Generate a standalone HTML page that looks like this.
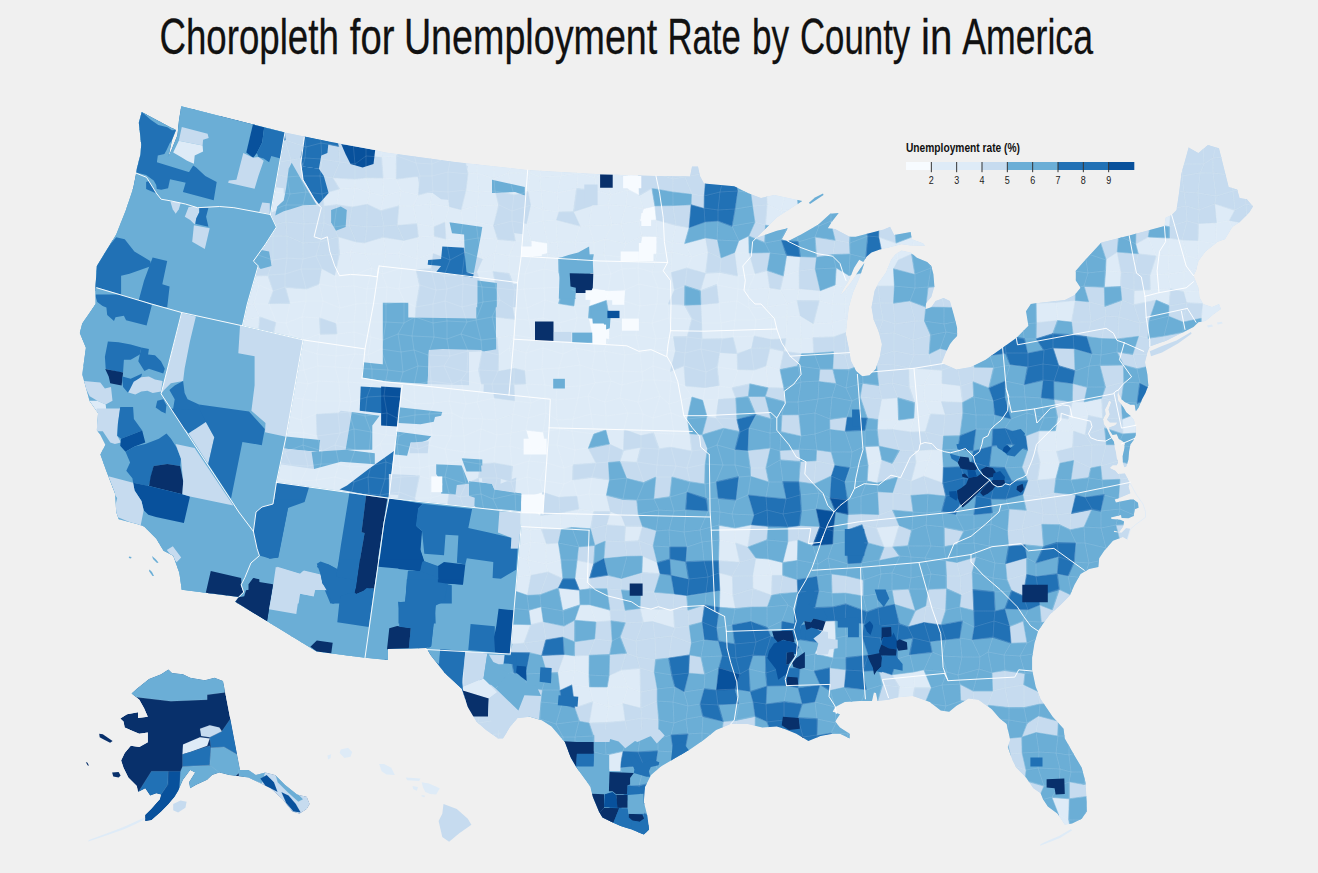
<!DOCTYPE html>
<html><head><meta charset="utf-8"><title>Choropleth</title>
<style>html,body{margin:0;padding:0;background:#f0f0f0;}body{width:1318px;height:873px;overflow:hidden;font-family:"Liberation Sans",sans-serif;}svg{display:block}text{font-family:"Liberation Sans",sans-serif}</style></head><body>
<svg width="1318" height="873" viewBox="0 0 1318 873">
<rect width="1318" height="873" fill="#f0f0f0"/>
<defs><clipPath id="land"><path d="M181.3,106.2L253.4,124.6L285,132.4L328.6,141.6L374.8,149.9L384,152.3L455,162L527.2,170L600,174.2L656,176.1L690,176.5L692,166.5L698,166.5L700,176L704,183.4L734.3,186.3L747.7,193.1L761,198L774.4,195L802.3,200.9L776.8,217.4L756.2,238L776.8,230.7L787.8,228.3L781.7,239.2L787.8,241.2L801.1,234.4L818.1,224.7L830.2,213.7L838.7,213L831.5,222.2L827.8,228.3L835.1,229L849.7,236.8L855.7,236.8L869.1,233.2L883.7,229.5L890.1,226.8L894.2,235.1L910.7,232L911.8,239.2L923.1,243.3L925.2,245.8L910.7,245.4L901.4,244.3L888,247.8L879.8,249.5L871.5,252.6L866.4,256.7L863.3,261.9L859.2,259.8L854,268L848.9,280.4L843.7,288.7L840.6,294.8L844.7,290.7L850.9,282.5L859.2,270.1L864.3,262.9L859.2,278.4L853,292.8L848.9,307.2L846.8,323.7L845.8,334L848.9,348.5L850.9,360.8L856.1,371.1L862.3,376.3L869.5,375.3L875.7,369.1L879.8,356.7L881.9,344.3L878.8,332L873.6,319.6L871.5,307.2L874.6,290.7L878.8,282.5L886,272.2L891.1,259.8L895.3,254.6L901.4,250.5L910.7,252.6L916.9,257.7L927.2,261.9L931.3,266L933.4,274.2L934.4,286.6L931.3,296.9L926.2,303.1L925.2,309.3L931.3,307.2L935.5,301L943.7,297.9L949.9,301L954,315.5L957.1,327.8L957.1,336.1L953,340.2L949.9,344.3L945.8,352.6L941.6,362.9L956.5,369.5L971,367.1L985.6,359.8L1002.6,347.7L1016.3,338L1028.4,325.8L1026,311.3L1030.8,304L1046.6,301.9L1064.8,300L1074.6,295.1L1080.6,287.8L1075.8,280.5L1075.8,270.8L1084.3,261.1L1101.3,242.4L1129.2,235.6L1164.4,225.9L1165.6,217.4L1171.7,215L1176.5,210.1L1179,193.1L1181.4,173.7L1188.6,147.5L1198.4,153L1208,145L1219,148.2L1228.7,187L1237.2,189.5L1239.6,198L1246.9,199.2L1253,206.5L1249.3,212.5L1239.6,222.2L1232.4,227.1L1225,239.2L1217.8,241.7L1205.6,251.4L1198.4,261.1L1196,270.8L1193.5,275.7L1198.4,287.8L1199.6,297.5L1203.2,304L1212,307L1219,304L1221,309L1214,314L1205.6,321L1198.4,322.2L1193.5,327.1L1186.2,330.7L1166.8,340.4L1149.8,346.5L1147.4,352.6L1145,362.3L1147.4,374.4L1148.3,385.5L1145.5,393L1142.1,399.2L1138.7,407.5L1135.9,411.3L1134.6,404.7L1130.4,404.7L1124.9,402L1121.5,399.2L1118.8,393.7L1118.2,390.2L1117.4,395.1L1118.1,400.6L1123.6,407.5L1126.3,412.3L1130.4,415.7L1133.9,419.8L1135.2,425.3L1135.9,427.4L1135.7,434.9L1133.9,439.8L1130.4,444.6L1129.1,451.4L1128.4,459.7L1126.3,466.5L1124.3,467.2L1122.9,462.4L1122.6,456.2L1124.3,448.7L1124.9,443.2L1121.5,440.4L1118.8,439.1L1116.7,434.3L1112.6,434.9L1109.8,430.8L1109.1,427.4L1115.3,425.3L1117.4,422.6L1109.8,422.6L1107.1,419.8L1109.8,414.3L1108.5,409.5L1111.2,402L1109.1,400.6L1107.1,405.4L1105,409.5L1105.7,414.3L1103,419.1L1103.7,424L1106.4,427.4L1109.1,433.6L1111.2,437.7L1114,441.8L1114.6,447.3L1116,452.8L1116.7,458.3L1118.1,462.4L1116.7,465.2L1112.6,465.2L1109.8,467.9L1115.3,470.7L1118.1,474.1L1124.9,473.4L1129.1,481.6L1129.8,482.6L1128.5,486.4L1130.4,493.3L1121.6,497.1L1114.7,499.6L1115.9,502.5L1122.9,500.9L1130.4,499.6L1133.6,499.6L1138,502.8L1138.6,507.8L1134.8,509.3L1133.6,516L1128.5,518.2L1121.6,517.9L1121,515.1L1110.9,517.6L1111.5,518.9L1120.3,519.8L1124.1,521.4L1123.1,526.7L1119.3,532L1114.3,530.8L1113.8,532L1121.6,532.8L1126,528.2L1130.2,528.7L1127.3,539.6L1122.9,537.1L1113,540.8L1104.2,550.7L1099.2,558.2L1098.4,567.1L1089.1,569.1L1080.6,573.9L1074.5,584.8L1069.7,595.8L1060,605.5L1050.3,614L1043,623.7L1038.1,631L1034.5,643.1L1032.1,657.7L1032.1,669.8L1035.7,686.8L1040.6,698.9L1052.7,716.7L1063.6,728.8L1064.8,738.5L1074.5,755.5L1081.8,767.7L1085.5,782.2L1086.7,801.7L1086.7,811.4L1081.8,818.7L1072.1,823.5L1064.8,824.7L1057.6,813.8L1047.8,806.5L1043,799.2L1040.6,793.2L1033.3,788.3L1028.4,781L1026,777.4L1016.3,767.7L1012.6,760.4L1007.8,747L1010.2,739.8L1006.6,724L999.3,717.9L992,709.4L990.5,708.2L978.3,699.7L968.6,698.5L956.5,705.8L949.2,711.8L940.7,710.6L929.8,702.1L912.8,696.1L898.2,697.3L888.5,699.7L877.6,700.9L876,693L873.9,692.4L872,700.9L859.4,700.9L844.8,702.1L835.1,707L832.7,711.8L840,714.3L835.1,721.6L840,727.6L849.7,733.7L849.7,738.5L840,733.7L832.7,733.7L820.5,736.1L808.4,741L796.3,733.7L784.1,728.8L776.8,726.4L762.3,727.6L747.7,724L730.7,724L716.1,730L704,739.8L689.9,749.5L675.3,758L660.8,766.5L651,775L645,787.1L643.8,801.7L647.4,816.2L649.1,829.6L643.8,834.4L631.6,829.6L620.7,825.9L612.2,822.3L602.5,817.4L598.9,811.4L592.8,796.8L590.4,787.1L585.5,779.8L575.8,766.5L570.9,758L564.9,742.2L558.8,734.9L551.5,726.4L541.8,720.3L529.7,716.7L517.5,717.9L510.2,726.4L503,738.5L498.1,738.5L486,730L476.3,721.6L467.8,707L461.7,688.8L444.7,673L431.3,656L426.5,648L388,649L388,660L365,657.7L316.5,651.6L235.2,601.8L238.8,597L181.7,589.7L179.3,572.7L173.2,555.7L163.5,550.8L156.3,538.7L144.1,526.6L136.8,524.1L118.6,519.3L116.2,512L115,493.4L106.5,471.5L100.4,454.5L105.3,444.8L100.4,435.1L96.8,430.2L98,413.3L89.5,401.1L82.2,374.4L85.9,347.7L79.8,333.1L82.2,323.4L95.6,304L95.6,285.4L96.8,266L102.8,256.2L116.2,234.4L125.9,210.1L133.2,188.3L136.3,172.5L136.8,168.8L140.5,154.3L141.2,144.6L138.8,122.7L141.7,112L170.8,127.6L176,130L172,140L168.4,156.7L171.5,150L177.5,135L179,120Z"/></clipPath></defs>
<g font-size="50" fill="#111" stroke="#111" stroke-width="0.3">
<text x="159.5" y="54" textLength="179.3" lengthAdjust="spacingAndGlyphs">Choropleth</text>
<text x="349.8" y="54" textLength="44.6" lengthAdjust="spacingAndGlyphs">for</text>
<text x="403.9" y="54" textLength="253.4" lengthAdjust="spacingAndGlyphs">Unemployment</text>
<text x="667.5" y="54" textLength="73.3" lengthAdjust="spacingAndGlyphs">Rate</text>
<text x="752.0" y="54" textLength="37.1" lengthAdjust="spacingAndGlyphs">by</text>
<text x="800.0" y="54" textLength="110.2" lengthAdjust="spacingAndGlyphs">County</text>
<text x="921.0" y="54" textLength="31.3" lengthAdjust="spacingAndGlyphs">in</text>
<text x="962.3" y="54" textLength="130.7" lengthAdjust="spacingAndGlyphs">America</text>
</g>
<g clip-path="url(#land)">
<path d="M181.3,106.2L253.4,124.6L285,132.4L328.6,141.6L374.8,149.9L384,152.3L455,162L527.2,170L600,174.2L656,176.1L690,176.5L692,166.5L698,166.5L700,176L704,183.4L734.3,186.3L747.7,193.1L761,198L774.4,195L802.3,200.9L776.8,217.4L756.2,238L776.8,230.7L787.8,228.3L781.7,239.2L787.8,241.2L801.1,234.4L818.1,224.7L830.2,213.7L838.7,213L831.5,222.2L827.8,228.3L835.1,229L849.7,236.8L855.7,236.8L869.1,233.2L883.7,229.5L890.1,226.8L894.2,235.1L910.7,232L911.8,239.2L923.1,243.3L925.2,245.8L910.7,245.4L901.4,244.3L888,247.8L879.8,249.5L871.5,252.6L866.4,256.7L863.3,261.9L859.2,259.8L854,268L848.9,280.4L843.7,288.7L840.6,294.8L844.7,290.7L850.9,282.5L859.2,270.1L864.3,262.9L859.2,278.4L853,292.8L848.9,307.2L846.8,323.7L845.8,334L848.9,348.5L850.9,360.8L856.1,371.1L862.3,376.3L869.5,375.3L875.7,369.1L879.8,356.7L881.9,344.3L878.8,332L873.6,319.6L871.5,307.2L874.6,290.7L878.8,282.5L886,272.2L891.1,259.8L895.3,254.6L901.4,250.5L910.7,252.6L916.9,257.7L927.2,261.9L931.3,266L933.4,274.2L934.4,286.6L931.3,296.9L926.2,303.1L925.2,309.3L931.3,307.2L935.5,301L943.7,297.9L949.9,301L954,315.5L957.1,327.8L957.1,336.1L953,340.2L949.9,344.3L945.8,352.6L941.6,362.9L956.5,369.5L971,367.1L985.6,359.8L1002.6,347.7L1016.3,338L1028.4,325.8L1026,311.3L1030.8,304L1046.6,301.9L1064.8,300L1074.6,295.1L1080.6,287.8L1075.8,280.5L1075.8,270.8L1084.3,261.1L1101.3,242.4L1129.2,235.6L1164.4,225.9L1165.6,217.4L1171.7,215L1176.5,210.1L1179,193.1L1181.4,173.7L1188.6,147.5L1198.4,153L1208,145L1219,148.2L1228.7,187L1237.2,189.5L1239.6,198L1246.9,199.2L1253,206.5L1249.3,212.5L1239.6,222.2L1232.4,227.1L1225,239.2L1217.8,241.7L1205.6,251.4L1198.4,261.1L1196,270.8L1193.5,275.7L1198.4,287.8L1199.6,297.5L1203.2,304L1212,307L1219,304L1221,309L1214,314L1205.6,321L1198.4,322.2L1193.5,327.1L1186.2,330.7L1166.8,340.4L1149.8,346.5L1147.4,352.6L1145,362.3L1147.4,374.4L1148.3,385.5L1145.5,393L1142.1,399.2L1138.7,407.5L1135.9,411.3L1134.6,404.7L1130.4,404.7L1124.9,402L1121.5,399.2L1118.8,393.7L1118.2,390.2L1117.4,395.1L1118.1,400.6L1123.6,407.5L1126.3,412.3L1130.4,415.7L1133.9,419.8L1135.2,425.3L1135.9,427.4L1135.7,434.9L1133.9,439.8L1130.4,444.6L1129.1,451.4L1128.4,459.7L1126.3,466.5L1124.3,467.2L1122.9,462.4L1122.6,456.2L1124.3,448.7L1124.9,443.2L1121.5,440.4L1118.8,439.1L1116.7,434.3L1112.6,434.9L1109.8,430.8L1109.1,427.4L1115.3,425.3L1117.4,422.6L1109.8,422.6L1107.1,419.8L1109.8,414.3L1108.5,409.5L1111.2,402L1109.1,400.6L1107.1,405.4L1105,409.5L1105.7,414.3L1103,419.1L1103.7,424L1106.4,427.4L1109.1,433.6L1111.2,437.7L1114,441.8L1114.6,447.3L1116,452.8L1116.7,458.3L1118.1,462.4L1116.7,465.2L1112.6,465.2L1109.8,467.9L1115.3,470.7L1118.1,474.1L1124.9,473.4L1129.1,481.6L1129.8,482.6L1128.5,486.4L1130.4,493.3L1121.6,497.1L1114.7,499.6L1115.9,502.5L1122.9,500.9L1130.4,499.6L1133.6,499.6L1138,502.8L1138.6,507.8L1134.8,509.3L1133.6,516L1128.5,518.2L1121.6,517.9L1121,515.1L1110.9,517.6L1111.5,518.9L1120.3,519.8L1124.1,521.4L1123.1,526.7L1119.3,532L1114.3,530.8L1113.8,532L1121.6,532.8L1126,528.2L1130.2,528.7L1127.3,539.6L1122.9,537.1L1113,540.8L1104.2,550.7L1099.2,558.2L1098.4,567.1L1089.1,569.1L1080.6,573.9L1074.5,584.8L1069.7,595.8L1060,605.5L1050.3,614L1043,623.7L1038.1,631L1034.5,643.1L1032.1,657.7L1032.1,669.8L1035.7,686.8L1040.6,698.9L1052.7,716.7L1063.6,728.8L1064.8,738.5L1074.5,755.5L1081.8,767.7L1085.5,782.2L1086.7,801.7L1086.7,811.4L1081.8,818.7L1072.1,823.5L1064.8,824.7L1057.6,813.8L1047.8,806.5L1043,799.2L1040.6,793.2L1033.3,788.3L1028.4,781L1026,777.4L1016.3,767.7L1012.6,760.4L1007.8,747L1010.2,739.8L1006.6,724L999.3,717.9L992,709.4L990.5,708.2L978.3,699.7L968.6,698.5L956.5,705.8L949.2,711.8L940.7,710.6L929.8,702.1L912.8,696.1L898.2,697.3L888.5,699.7L877.6,700.9L876,693L873.9,692.4L872,700.9L859.4,700.9L844.8,702.1L835.1,707L832.7,711.8L840,714.3L835.1,721.6L840,727.6L849.7,733.7L849.7,738.5L840,733.7L832.7,733.7L820.5,736.1L808.4,741L796.3,733.7L784.1,728.8L776.8,726.4L762.3,727.6L747.7,724L730.7,724L716.1,730L704,739.8L689.9,749.5L675.3,758L660.8,766.5L651,775L645,787.1L643.8,801.7L647.4,816.2L649.1,829.6L643.8,834.4L631.6,829.6L620.7,825.9L612.2,822.3L602.5,817.4L598.9,811.4L592.8,796.8L590.4,787.1L585.5,779.8L575.8,766.5L570.9,758L564.9,742.2L558.8,734.9L551.5,726.4L541.8,720.3L529.7,716.7L517.5,717.9L510.2,726.4L503,738.5L498.1,738.5L486,730L476.3,721.6L467.8,707L461.7,688.8L444.7,673L431.3,656L426.5,648L388,649L388,660L365,657.7L316.5,651.6L235.2,601.8L238.8,597L181.7,589.7L179.3,572.7L173.2,555.7L163.5,550.8L156.3,538.7L144.1,526.6L136.8,524.1L118.6,519.3L116.2,512L115,493.4L106.5,471.5L100.4,454.5L105.3,444.8L100.4,435.1L96.8,430.2L98,413.3L89.5,401.1L82.2,374.4L85.9,347.7L79.8,333.1L82.2,323.4L95.6,304L95.6,285.4L96.8,266L102.8,256.2L116.2,234.4L125.9,210.1L133.2,188.3L136.3,172.5L136.8,168.8L140.5,154.3L141.2,144.6L138.8,122.7L141.7,112L170.8,127.6L176,130L172,140L168.4,156.7L171.5,150L177.5,135L179,120Z" fill="#c6dbef"/>
<path fill="#f7fbff" stroke="#f7fbff" stroke-width="0.6" d="M623.9,176L638.1,172.8L639.4,195.4L627.9,189.5ZM643.4,208.7L654.9,205.9L656.4,219.9L639.4,221.4ZM531.1,240.5L547.5,243.1L547.6,253.6L531.2,257.2ZM641.9,236.2L656.9,236.6L656.8,254L638.6,256ZM591.5,287.9L608.1,290.7L606.3,300.4L589.3,306.4ZM608.1,290.7L625.4,290L624.5,300.6L606.3,300.4ZM588.5,318.1L609.7,319.5L609.4,339.4L592.3,336.2ZM526,430.1L543.3,432.1L545.7,445.3L532,452.2ZM528.7,496.6L542.5,492.1L540.6,515.6L530,509.7Z"/>
<path fill="#deebf7" stroke="#deebf7" stroke-width="0.6" d="M366.3,143.3L382.5,143.4L381.5,157.3L365.9,156.1ZM382.5,143.4L401.2,147.6L396.5,156.2L381.5,157.3ZM467.5,143.6L475.9,143.1L476.8,163.9L464.8,159.1ZM475.9,143.1L496.8,147.7L494,160.5L476.8,163.9ZM496.8,147.7L516,143.8L513.2,163.8L494,160.5ZM516,143.8L527.3,140.7L529.4,159.1L513.2,163.8ZM381.5,157.3L396.5,156.2L396.3,179.1L383,178.1ZM464.8,159.1L476.8,163.9L477.3,172.7L467.9,173.7ZM476.8,163.9L494,160.5L493.9,178.7L477.3,172.7ZM494,160.5L513.2,163.8L508.1,172.6L493.9,178.7ZM513.2,163.8L529.4,159.1L529.7,173.4L508.1,172.6ZM529.4,159.1L543.6,157.1L539.9,176.8L529.7,173.4ZM543.6,157.1L563.9,164.1L560.6,176.2L539.9,176.8ZM563.9,164.1L573.7,156.1L577.7,172.7L560.6,176.2ZM573.7,156.1L589.9,158.8L595.1,177.8L577.7,172.7ZM589.9,158.8L611.4,163.4L604.2,172.8L595.1,177.8ZM611.4,163.4L626.8,156.2L623.9,176L604.2,172.8ZM626.8,156.2L642.4,161.8L638.1,172.8L623.9,176ZM642.4,161.8L657.2,164.1L655.2,173L638.1,172.8ZM332.8,177.8L354.7,179.1L355.1,187.8L339.5,188.9ZM354.7,179.1L366.5,177.8L370.2,192.7L355.1,187.8ZM366.5,177.8L383,178.1L384,195.9L370.2,192.7ZM383,178.1L396.3,179.1L400.6,191.3L384,195.9ZM396.3,179.1L419.8,176L418.4,195.1L400.6,191.3ZM467.9,173.7L477.3,172.7L479.1,192.5L465.9,190.3ZM477.3,172.7L493.9,178.7L495,190.5L479.1,192.5ZM493.9,178.7L508.1,172.6L514.4,194.9L495,190.5ZM508.1,172.6L529.7,173.4L528,191.5L514.4,194.9ZM529.7,173.4L539.9,176.8L541.3,190.4L528,191.5ZM539.9,176.8L560.6,176.2L557,192.6L541.3,190.4ZM560.6,176.2L577.7,172.7L576.7,188.5L557,192.6ZM577.7,172.7L595.1,177.8L595.5,190.5L576.7,188.5ZM595.1,177.8L604.2,172.8L610.9,194.8L595.5,190.5ZM604.2,172.8L623.9,176L627.9,189.5L610.9,194.8ZM211.9,194L221.1,190.6L221.8,207.1L208,211.8ZM221.1,190.6L238.8,193.5L241.8,205.7L221.8,207.1ZM238.8,193.5L257,194.9L254.4,211.2L241.8,205.7ZM257,194.9L274.7,192.1L271.9,210.5L254.4,211.2ZM274.7,192.1L290,194L285.8,205.3L271.9,210.5ZM322.4,193.8L339.5,188.9L336.5,204.8L324,206.2ZM339.5,188.9L355.1,187.8L352.3,207L336.5,204.8ZM355.1,187.8L370.2,192.7L367.2,204.3L352.3,207ZM370.2,192.7L384,195.9L380.8,210.7L367.2,204.3ZM384,195.9L400.6,191.3L398.8,205.9L380.8,210.7ZM400.6,191.3L418.4,195.1L413.4,206.2L398.8,205.9ZM418.4,195.1L432.9,191L429.8,204.1L413.4,206.2ZM432.9,191L447.6,191.6L449.4,206.7L429.8,204.1ZM465.9,190.3L479.1,192.5L476.6,206.1L461.1,209.7ZM479.1,192.5L495,190.5L498.8,204.9L476.6,206.1ZM528,191.5L541.3,190.4L542.8,209.9L530.6,205.1ZM541.3,190.4L557,192.6L559,211.9L542.8,209.9ZM557,192.6L576.7,188.5L573.5,211.8L559,211.9ZM595.5,190.5L610.9,194.8L607.6,204.9L592,205.7ZM610.9,194.8L627.9,189.5L625.7,206L607.6,204.9ZM627.9,189.5L639.4,195.4L643.4,208.7L625.7,206ZM639.4,195.4L651.9,188.2L654.9,205.9L643.4,208.7ZM766.7,195.8L785.5,192.2L781.3,210.9L767.1,204.5ZM785.5,192.2L796.6,190.9L798.5,209.4L781.3,210.9ZM1154.9,192.7L1169.4,189.5L1170.9,208.6L1153.2,205.3ZM398.8,205.9L413.4,206.2L416.8,223.7L397.2,225.4ZM413.4,206.2L429.8,204.1L434.2,226.8L416.8,223.7ZM429.8,204.1L449.4,206.7L444.8,222.2L434.2,226.8ZM449.4,206.7L461.1,209.7L462.8,221.5L444.8,222.2ZM461.1,209.7L476.6,206.1L476.3,222.2L462.8,221.5ZM476.6,206.1L498.8,204.9L493.5,225.7L476.3,222.2ZM530.6,205.1L542.8,209.9L542.8,221.2L526.5,223.7ZM542.8,209.9L559,211.9L556.4,219.9L542.8,221.2ZM573.5,211.8L592,205.7L588.5,225.8L580.1,226.1ZM592,205.7L607.6,204.9L612,224.5L588.5,225.8ZM607.6,204.9L625.7,206L620.7,223.9L612,224.5ZM625.7,206L643.4,208.7L639.4,221.4L620.7,223.9ZM767.1,204.5L781.3,210.9L786.9,227.6L765.4,225.2ZM781.3,210.9L798.5,209.4L797.2,226.4L786.9,227.6ZM1153.2,205.3L1170.9,208.6L1169.4,226.7L1150.6,223.5ZM1214.7,203.8L1234.8,210.3L1229.4,220.5L1216.5,222.7ZM416.8,223.7L434.2,226.8L434.3,236.3L418.3,236.9ZM444.8,222.2L462.8,221.5L459.9,240.8L445.8,238.9ZM462.8,221.5L476.3,222.2L477.6,238.3L459.9,240.8ZM476.3,222.2L493.5,225.7L497.7,239.4L477.6,238.3ZM511.6,220.7L526.5,223.7L531.1,240.5L515.3,241ZM526.5,223.7L542.8,221.2L547.5,243.1L531.1,240.5ZM542.8,221.2L556.4,219.9L557.2,242.1L547.5,243.1ZM556.4,219.9L580.1,226.1L574.7,242.2L557.2,242.1ZM580.1,226.1L588.5,225.8L593.5,242.7L574.7,242.2ZM588.5,225.8L612,224.5L604.8,238.9L593.5,242.7ZM612,224.5L620.7,223.9L626,243.8L604.8,238.9ZM620.7,223.9L639.4,221.4L641.9,236.2L626,243.8ZM639.4,221.4L656.4,219.9L656.9,236.6L641.9,236.2ZM656.4,219.9L675.5,225.2L672.4,242.5L656.9,236.6ZM675.5,225.2L689.1,227.7L684.7,243.6L672.4,242.5ZM1198.3,223.5L1216.5,222.7L1216.2,243.8L1198,240.6ZM1216.5,222.7L1229.4,220.5L1236.1,236.1L1216.2,243.8ZM1229.4,220.5L1246.5,223.7L1248.5,242.3L1236.1,236.1ZM338.2,236.8L356.1,241.9L350,252L339.4,254.1ZM356.1,241.9L364.7,242.8L365.2,254.1L350,252ZM364.7,242.8L383.1,237.2L385.7,253.6L365.2,254.1ZM383.1,237.2L403.9,240.5L399.2,253.5L385.7,253.6ZM403.9,240.5L418.3,236.9L416.9,259.1L399.2,253.5ZM418.3,236.9L434.3,236.3L433.2,253.5L416.9,259.1ZM434.3,236.3L445.8,238.9L450,259.9L433.2,253.5ZM445.8,238.9L459.9,240.8L464.8,252.5L450,259.9ZM459.9,240.8L477.6,238.3L482.6,259.2L464.8,252.5ZM477.6,238.3L497.7,239.4L494.7,252.9L482.6,259.2ZM497.7,239.4L515.3,241L509.4,256.3L494.7,252.9ZM515.3,241L531.1,240.5L531.2,257.2L509.4,256.3ZM547.5,243.1L557.2,242.1L558.5,258.1L547.6,253.6ZM557.2,242.1L574.7,242.2L577.3,255.2L558.5,258.1ZM574.7,242.2L593.5,242.7L593.5,254.6L577.3,255.2ZM593.5,242.7L604.8,238.9L604.3,255.3L593.5,254.6ZM604.8,238.9L626,243.8L620.2,257.1L604.3,255.3ZM626,243.8L641.9,236.2L638.6,256L620.2,257.1ZM656.9,236.6L672.4,242.5L671.7,251.9L656.8,254ZM672.4,242.5L684.7,243.6L691.6,256.5L671.7,251.9ZM684.7,243.6L705.5,237.9L708.1,252.3L691.6,256.5ZM738.8,240.7L748.8,236L749.1,253L734.6,252.6ZM878.7,237.1L896,243.1L898.3,260L882.3,254.4ZM896,243.1L914.5,236.1L911.6,254.1L898.3,260ZM914.5,236.1L925.3,242.7L928.2,259.7L911.6,254.1ZM1135.7,244.1L1148.2,237L1156.1,256L1138.3,253.8ZM1148.2,237L1169.4,238.1L1169.1,254.7L1156.1,256ZM1169.4,238.1L1182.1,240L1186.5,255.7L1169.1,254.7ZM1182.1,240L1198,240.6L1198.5,259.4L1186.5,255.7ZM1198,240.6L1216.2,243.8L1212.7,258L1198.5,259.4ZM1216.2,243.8L1236.1,236.1L1228.3,257.2L1212.7,258ZM339.4,254.1L350,252L353.8,275.2L334.7,275.5ZM350,252L365.2,254.1L372,268.1L353.8,275.2ZM365.2,254.1L385.7,253.6L381.8,274.5L372,268.1ZM385.7,253.6L399.2,253.5L401.6,268.1L381.8,274.5ZM399.2,253.5L416.9,259.1L416,269.7L401.6,268.1ZM416.9,259.1L433.2,253.5L431.4,268.7L416,269.7ZM482.6,259.2L494.7,252.9L492.9,271.4L476.8,271.9ZM494.7,252.9L509.4,256.3L509.3,273.6L492.9,271.4ZM509.4,256.3L531.2,257.2L525,274L509.3,273.6ZM531.2,257.2L547.6,253.6L544,268.7L525,274ZM547.6,253.6L558.5,258.1L558.8,272L544,268.7ZM593.5,254.6L604.3,255.3L611.2,273.9L589.6,275.9ZM604.3,255.3L620.2,257.1L622.1,269.3L611.2,273.9ZM620.2,257.1L638.6,256L638,268.4L622.1,269.3ZM638.6,256L656.8,254L652.2,272.1L638,268.4ZM656.8,254L671.7,251.9L671.2,272.5L652.2,272.1ZM671.7,251.9L691.6,256.5L686.8,267.9L671.2,272.5ZM691.6,256.5L708.1,252.3L705.6,273.3L686.8,267.9ZM734.6,252.6L749.1,253L755.1,273.8L737.6,276.1ZM786.6,255.4L800.3,256.7L799.1,271L783.3,276ZM882.3,254.4L898.3,260L893.5,268.8L879,269.8ZM1106,259.5L1117.2,252L1121.1,272.4L1105.5,270.5ZM1156.1,256L1169.1,254.7L1167.8,273.9L1150,275.4ZM1169.1,254.7L1186.5,255.7L1184.2,271.8L1167.8,273.9ZM1186.5,255.7L1198.5,259.4L1197.7,269L1184.2,271.8ZM1198.5,259.4L1212.7,258L1219.6,272.2L1197.7,269ZM173.6,275.2L190.8,274.4L189.5,288.6L175,283.9ZM190.8,274.4L211.1,269.3L204.3,285.3L189.5,288.6ZM211.1,269.3L227.1,276.2L225.8,286.1L204.3,285.3ZM227.1,276.2L238.3,268L238.5,285.8L225.8,286.1ZM238.3,268L252.7,276L258.8,284.6L238.5,285.8ZM252.7,276L267.9,275.5L273.1,291L258.8,284.6ZM321.5,268.6L334.7,275.5L335.5,286.9L318.9,284.2ZM334.7,275.5L353.8,275.2L353.8,286.3L335.5,286.9ZM353.8,275.2L372,268.1L367.2,289.2L353.8,286.3ZM372,268.1L381.8,274.5L386.6,286.8L367.2,289.2ZM381.8,274.5L401.6,268.1L399,288.7L386.6,286.8ZM401.6,268.1L416,269.7L419.6,285.4L399,288.7ZM476.8,271.9L492.9,271.4L496.2,288L482.2,287ZM509.3,273.6L525,274L524,288.8L515.4,290.2ZM525,274L544,268.7L543.7,287.7L524,288.8ZM544,268.7L558.8,272L562.9,287.3L543.7,287.7ZM589.6,275.9L611.2,273.9L608.1,290.7L591.5,287.9ZM611.2,273.9L622.1,269.3L625.4,290L608.1,290.7ZM622.1,269.3L638,268.4L639.2,284.1L625.4,290ZM638,268.4L652.2,272.1L657.5,288.5L639.2,284.1ZM652.2,272.1L671.2,272.5L674.3,290.3L657.5,288.5ZM705.6,273.3L720.4,272.4L716.7,284.5L700.4,290.7ZM720.4,272.4L737.6,276.1L738.1,288.5L716.7,284.5ZM737.6,276.1L755.1,273.8L748.3,289.5L738.1,288.5ZM755.1,273.8L767.2,270.5L769.8,287.9L748.3,289.5ZM783.3,276L799.1,271L799.3,288.7L780.3,289.6ZM836.2,267.8L848.9,275.6L846.6,288.2L835.1,285ZM848.9,275.6L861.9,272.9L859.9,292.1L846.6,288.2ZM861.9,272.9L879,269.8L878.1,286L859.9,292.1ZM879,269.8L893.5,268.8L894.4,285.9L878.1,286ZM1105.5,270.5L1121.1,272.4L1120.5,286.5L1104.3,287.2ZM1150,275.4L1167.8,273.9L1170.5,288.8L1150.2,289.8ZM1167.8,273.9L1184.2,271.8L1183.6,291.7L1170.5,288.8ZM1184.2,271.8L1197.7,269L1199.5,291.2L1183.6,291.7ZM1197.7,269L1219.6,272.2L1212.3,287.4L1199.5,291.2ZM175,283.9L189.5,288.6L194.9,301.1L179.5,302.5ZM189.5,288.6L204.3,285.3L210.5,308L194.9,301.1ZM204.3,285.3L225.8,286.1L223.1,300.1L210.5,308ZM225.8,286.1L238.5,285.8L239,305.2L223.1,300.1ZM238.5,285.8L258.8,284.6L253.7,304.4L239,305.2ZM258.8,284.6L273.1,291L268.6,303.7L253.7,304.4ZM285.5,287.4L306.5,289L305.5,300.8L289.9,303.4ZM306.5,289L318.9,284.2L322.8,300.8L305.5,300.8ZM318.9,284.2L335.5,286.9L339.6,308.2L322.8,300.8ZM335.5,286.9L353.8,286.3L355.7,304.2L339.6,308.2ZM353.8,286.3L367.2,289.2L366.2,302.7L355.7,304.2ZM367.2,289.2L386.6,286.8L386.1,304L366.2,302.7ZM386.6,286.8L399,288.7L403.6,300.6L386.1,304ZM399,288.7L419.6,285.4L415.9,307.1L403.6,300.6ZM515.4,290.2L524,288.8L526.7,307.7L512.8,307.9ZM524,288.8L543.7,287.7L545.3,300.2L526.7,307.7ZM543.7,287.7L562.9,287.3L558.6,303.6L545.3,300.2ZM575.8,291.3L591.5,287.9L589.3,306.4L573.9,306ZM625.4,290L639.2,284.1L640.4,306.4L624.5,300.6ZM639.2,284.1L657.5,288.5L656.8,303.7L640.4,306.4ZM657.5,288.5L674.3,290.3L668.1,304.1L656.8,303.7ZM716.7,284.5L738.1,288.5L737.4,301.2L718.8,302.9ZM738.1,288.5L748.3,289.5L749.2,307.7L737.4,301.2ZM748.3,289.5L769.8,287.9L766.6,306.9L749.2,307.7ZM769.8,287.9L780.3,289.6L787.1,303.8L766.6,306.9ZM780.3,289.6L799.3,288.7L797.1,300.6L787.1,303.8ZM799.3,288.7L820.2,290.7L819.2,300.8L797.1,300.6ZM820.2,290.7L835.1,285L832,304.3L819.2,300.8ZM835.1,285L846.6,288.2L844.8,303.7L832,304.3ZM846.6,288.2L859.9,292.1L861.2,304.3L844.8,303.7ZM1134.1,290.5L1150.2,289.8L1156.1,300.1L1133.9,304.8ZM1150.2,289.8L1170.5,288.8L1169,305.6L1156.1,300.1ZM1183.6,291.7L1199.5,291.2L1202.6,303.7L1186.6,302.7ZM1199.5,291.2L1212.3,287.4L1219.5,299.9L1202.6,303.7ZM1212.3,287.4L1233.2,284.2L1235.7,303.3L1219.5,299.9ZM179.5,302.5L194.9,301.1L192.8,319.5L178.8,322.5ZM194.9,301.1L210.5,308L210.7,322.4L192.8,319.5ZM210.5,308L223.1,300.1L227.1,318.3L210.7,322.4ZM223.1,300.1L239,305.2L243.9,320.3L227.1,318.3ZM239,305.2L253.7,304.4L259.7,316.8L243.9,320.3ZM253.7,304.4L268.6,303.7L275.9,322.4L259.7,316.8ZM268.6,303.7L289.9,303.4L285.9,322.8L275.9,322.4ZM289.9,303.4L305.5,300.8L301.7,317.5L285.9,322.8ZM305.5,300.8L322.8,300.8L319.6,317.8L301.7,317.5ZM322.8,300.8L339.6,308.2L335.9,323.4L319.6,317.8ZM339.6,308.2L355.7,304.2L353.6,321.8L335.9,323.4ZM355.7,304.2L366.2,302.7L367.1,322.4L353.6,321.8ZM366.2,302.7L386.1,304L386.5,321.5L367.1,322.4ZM386.1,304L403.6,300.6L403.7,322.7L386.5,321.5ZM403.6,300.6L415.9,307.1L415.2,316.5L403.7,322.7ZM512.8,307.9L526.7,307.7L528.9,319.6L514.6,319.3ZM526.7,307.7L545.3,300.2L542.6,317.6L528.9,319.6ZM545.3,300.2L558.6,303.6L558.8,322.9L542.6,317.6ZM558.6,303.6L573.9,306L577,318.3L558.8,322.9ZM573.9,306L589.3,306.4L588.5,318.1L577,318.3ZM606.3,300.4L624.5,300.6L625.4,322.6L609.7,319.5ZM624.5,300.6L640.4,306.4L636.8,321.5L625.4,322.6ZM640.4,306.4L656.8,303.7L652.1,322.7L636.8,321.5ZM656.8,303.7L668.1,304.1L669.3,318.1L652.1,322.7ZM668.1,304.1L684.6,305.2L691.8,318.8L669.3,318.1ZM700.9,304.7L718.8,302.9L720.9,323.3L701.7,323.3ZM718.8,302.9L737.4,301.2L735.1,320L720.9,323.3ZM737.4,301.2L749.2,307.7L755.8,320.1L735.1,320ZM749.2,307.7L766.6,306.9L772.1,317.4L755.8,320.1ZM766.6,306.9L787.1,303.8L786.8,317.2L772.1,317.4ZM787.1,303.8L797.1,300.6L800.2,315.8L786.8,317.2ZM819.2,300.8L832,304.3L831.6,322.6L813.3,323.7ZM832,304.3L844.8,303.7L845.9,318.8L831.6,322.6ZM844.8,303.7L861.2,304.3L860.6,320.4L845.9,318.8ZM1036.1,303.1L1056.2,302.3L1057.5,320.5L1036.3,322.8ZM1056.2,302.3L1075.3,300.5L1071.6,322.1L1057.5,320.5ZM1202.6,303.7L1219.5,299.9L1218.2,318.2L1201.2,318.2ZM1219.5,299.9L1235.7,303.3L1232.4,319.3L1218.2,318.2ZM178.8,322.5L192.8,319.5L189.5,339.4L179.9,334ZM192.8,319.5L210.7,322.4L207.6,338.8L189.5,339.4ZM210.7,322.4L227.1,318.3L225.2,338.3L207.6,338.8ZM227.1,318.3L243.9,320.3L238.4,333.1L225.2,338.3ZM243.9,320.3L259.7,316.8L258.2,335.7L238.4,333.1ZM275.9,322.4L285.9,322.8L290.1,334.1L272.5,337.4ZM285.9,322.8L301.7,317.5L302.8,339.5L290.1,334.1ZM301.7,317.5L319.6,317.8L320.2,334.2L302.8,339.5ZM335.9,323.4L353.6,321.8L354.3,332.1L337.1,334ZM353.6,321.8L367.1,322.4L370.7,336.6L354.3,332.1ZM367.1,322.4L386.5,321.5L382.8,339.7L370.7,336.6ZM386.5,321.5L403.7,322.7L398,333.8L382.8,339.7ZM403.7,322.7L415.2,316.5L412.4,336.4L398,333.8ZM475.8,319.9L491.9,316.7L497.1,337.6L481.2,339.9ZM491.9,316.7L514.6,319.3L514.3,335.1L497.1,337.6ZM514.6,319.3L528.9,319.6L531.7,338L514.3,335.1ZM528.9,319.6L542.6,317.6L542.7,335.1L531.7,338ZM542.6,317.6L558.8,322.9L562.6,334.7L542.7,335.1ZM558.8,322.9L577,318.3L573.4,339.1L562.6,334.7ZM577,318.3L588.5,318.1L592.3,336.2L573.4,339.1ZM609.7,319.5L625.4,322.6L620.9,334.6L609.4,339.4ZM625.4,322.6L636.8,321.5L636.4,335.3L620.9,334.6ZM636.8,321.5L652.1,322.7L656,339L636.4,335.3ZM652.1,322.7L669.3,318.1L673.4,336.7L656,339ZM669.3,318.1L691.8,318.8L687.2,336.6L673.4,336.7ZM701.7,323.3L720.9,323.3L722.4,338.8L702.1,338.9ZM720.9,323.3L735.1,320L733.1,337.4L722.4,338.8ZM735.1,320L755.8,320.1L754.1,336L733.1,337.4ZM755.8,320.1L772.1,317.4L771.3,339.4L754.1,336ZM772.1,317.4L786.8,317.2L786,338.7L771.3,339.4ZM786.8,317.2L800.2,315.8L801.3,339.2L786,338.7ZM800.2,315.8L813.3,323.7L812.9,337.7L801.3,339.2ZM813.3,323.7L831.6,322.6L833.7,336.9L812.9,337.7ZM831.6,322.6L845.9,318.8L846.1,332.4L833.7,336.9ZM845.9,318.8L860.6,320.4L864.9,338.7L846.1,332.4ZM1201.2,318.2L1218.2,318.2L1216.7,335.2L1201.1,337.9ZM1218.2,318.2L1232.4,319.3L1232.1,336.7L1216.7,335.2ZM179.9,334L189.5,339.4L193.9,353.1L171.9,355.1ZM189.5,339.4L207.6,338.8L206,350.8L193.9,353.1ZM207.6,338.8L225.2,338.3L221.2,353.1L206,350.8ZM225.2,338.3L238.4,333.1L244.1,350.4L221.2,353.1ZM272.5,337.4L290.1,334.1L290.6,351.6L270.8,355.4ZM290.1,334.1L302.8,339.5L300.7,348.7L290.6,351.6ZM302.8,339.5L320.2,334.2L317.1,354.3L300.7,348.7ZM320.2,334.2L337.1,334L335.8,356.1L317.1,354.3ZM337.1,334L354.3,332.1L355.5,354.5L335.8,356.1ZM354.3,332.1L370.7,336.6L367.8,354.7L355.5,354.5ZM370.7,336.6L382.8,339.7L380.9,348.7L367.8,354.7ZM382.8,339.7L398,333.8L400.5,352.1L380.9,348.7ZM398,333.8L412.4,336.4L413.6,349.9L400.5,352.1ZM497.1,337.6L514.3,335.1L508.9,347.9L498.6,354.9ZM514.3,335.1L531.7,338L525.6,352.7L508.9,347.9ZM531.7,338L542.7,335.1L543,347.9L525.6,352.7ZM542.7,335.1L562.6,334.7L562.8,354.4L543,347.9ZM562.6,334.7L573.4,339.1L575.7,348.2L562.8,354.4ZM573.4,339.1L592.3,336.2L595.3,352.3L575.7,348.2ZM592.3,336.2L609.4,339.4L604.4,350.5L595.3,352.3ZM609.4,339.4L620.9,334.6L625,355.2L604.4,350.5ZM620.9,334.6L636.4,335.3L639.9,353.2L625,355.2ZM636.4,335.3L656,339L653.5,349.8L639.9,353.2ZM656,339L673.4,336.7L675.4,351L653.5,349.8ZM733.1,337.4L754.1,336L751.5,348.4L737.1,353.7ZM786,338.7L801.3,339.2L801.5,353.8L783.8,351.2ZM801.3,339.2L812.9,337.7L813.8,353.3L801.5,353.8ZM171.9,355.1L193.9,353.1L193.2,371.5L175.2,368.9ZM193.9,353.1L206,350.8L210,370.5L193.2,371.5ZM206,350.8L221.2,353.1L227.5,370.8L210,370.5ZM270.8,355.4L290.6,351.6L285.3,371.7L271.4,371.2ZM290.6,351.6L300.7,348.7L303.5,369.7L285.3,371.7ZM300.7,348.7L317.1,354.3L317.9,366.3L303.5,369.7ZM317.1,354.3L335.8,356.1L334.7,366.5L317.9,366.3ZM335.8,356.1L355.5,354.5L348.6,367.5L334.7,366.5ZM355.5,354.5L367.8,354.7L372,369.3L348.6,367.5ZM367.8,354.7L380.9,348.7L387.6,370.2L372,369.3ZM380.9,348.7L400.5,352.1L402.8,372.2L387.6,370.2ZM400.5,352.1L413.6,349.9L418.1,366.1L402.8,372.2ZM468,351.5L482,351L478.6,370.3L467.2,371.5ZM498.6,354.9L508.9,347.9L514.5,368.3L498.3,371.3ZM508.9,347.9L525.6,352.7L524.7,370.7L514.5,368.3ZM525.6,352.7L543,347.9L542.4,369.1L524.7,370.7ZM543,347.9L562.8,354.4L558.9,368.3L542.4,369.1ZM562.8,354.4L575.7,348.2L579.9,365.2L558.9,368.3ZM575.7,348.2L595.3,352.3L592.3,369.3L579.9,365.2ZM595.3,352.3L604.4,350.5L608.3,371.7L592.3,369.3ZM604.4,350.5L625,355.2L623.2,371.5L608.3,371.7ZM625,355.2L639.9,353.2L641.6,371.9L623.2,371.5ZM639.9,353.2L653.5,349.8L652.6,365.6L641.6,371.9ZM653.5,349.8L675.4,351L670.2,371.4L652.6,365.6ZM719.6,352.7L737.1,353.7L737.6,369.6L717.3,367.5ZM769.9,348.3L783.8,351.2L780,369.6L765.9,366ZM82.2,365L96.9,372L93.8,380L81.4,386.8ZM96.9,372L114.3,363.9L111.5,380.8L93.8,380ZM114.3,363.9L124.4,364.8L127.7,385.8L111.5,380.8ZM124.4,364.8L145.6,368.8L140.6,380.8L127.7,385.8ZM145.6,368.8L160.2,367.6L159.8,381.3L140.6,380.8ZM160.2,367.6L175.2,368.9L173.7,383.5L159.8,381.3ZM175.2,368.9L193.2,371.5L188.8,380.4L173.7,383.5ZM193.2,371.5L210,370.5L206.8,383.7L188.8,380.4ZM257.5,370.9L271.4,371.2L275.1,387.9L258.1,384.5ZM271.4,371.2L285.3,371.7L291,380.7L275.1,387.9ZM285.3,371.7L303.5,369.7L307.7,384.2L291,380.7ZM303.5,369.7L317.9,366.3L317.8,381.2L307.7,384.2ZM317.9,366.3L334.7,366.5L339.1,381.6L317.8,381.2ZM334.7,366.5L348.6,367.5L348.5,382L339.1,381.6ZM348.6,367.5L372,369.3L371.6,383.7L348.5,382ZM372,369.3L387.6,370.2L385.9,380.4L371.6,383.7ZM387.6,370.2L402.8,372.2L399.6,382.5L385.9,380.4ZM402.8,372.2L418.1,366.1L413.5,385.4L399.6,382.5ZM418.1,366.1L429.9,367.3L430.8,380.8L413.5,385.4ZM467.2,371.5L478.6,370.3L481.3,384.1L461.3,379.9ZM524.7,370.7L542.4,369.1L544.9,385.3L525.8,384ZM542.4,369.1L558.9,368.3L557,386.6L544.9,385.3ZM558.9,368.3L579.9,365.2L579.7,386L557,386.6ZM579.9,365.2L592.3,369.3L595,382.9L579.7,386ZM592.3,369.3L608.3,371.7L611.4,381.3L595,382.9ZM608.3,371.7L623.2,371.5L621.7,384.8L611.4,381.3ZM623.2,371.5L641.6,371.9L643.4,380.5L621.7,384.8ZM641.6,371.9L652.6,365.6L653.6,380.1L643.4,380.5ZM652.6,365.6L670.2,371.4L671.5,381L653.6,380.1ZM670.2,371.4L683.9,366L685.4,386.1L671.5,381ZM717.3,367.5L737.6,369.6L731.9,387.8L719.2,385.5ZM737.6,369.6L754.1,370.1L749.8,383.8L731.9,387.8ZM754.1,370.1L765.9,366L768.1,387.8L749.8,383.8ZM765.9,366L780,369.6L783.9,388.1L768.1,387.8ZM908.7,367.9L931.9,369.6L923.8,384.9L909.2,386.8ZM931.9,369.6L942.1,370.3L942,383.6L923.8,384.9ZM81.4,386.8L93.8,380L91.9,399.8L81.4,402.5ZM93.8,380L111.5,380.8L113.5,401.8L91.9,399.8ZM111.5,380.8L127.7,385.8L129.2,397.3L113.5,401.8ZM127.7,385.8L140.6,380.8L147.9,402.4L129.2,397.3ZM140.6,380.8L159.8,381.3L157.8,399.4L147.9,402.4ZM159.8,381.3L173.7,383.5L179.8,397.5L157.8,399.4ZM173.7,383.5L188.8,380.4L191.2,403.9L179.8,397.5ZM227.7,384.5L236.4,381.7L241.4,402.2L226,398.8ZM236.4,381.7L258.1,384.5L252.9,397.7L241.4,402.2ZM258.1,384.5L275.1,387.9L269.6,398L252.9,397.7ZM275.1,387.9L291,380.7L284.1,396.9L269.6,398ZM291,380.7L307.7,384.2L303.2,399.3L284.1,396.9ZM307.7,384.2L317.8,381.2L316.5,400.7L303.2,399.3ZM317.8,381.2L339.1,381.6L339.7,400.6L316.5,400.7ZM339.1,381.6L348.5,382L350.8,401.7L339.7,400.6ZM348.5,382L371.6,383.7L367.5,397.3L350.8,401.7ZM371.6,383.7L385.9,380.4L383.8,395.9L367.5,397.3ZM385.9,380.4L399.6,382.5L401.5,397.2L383.8,395.9ZM399.6,382.5L413.5,385.4L414.9,403.9L401.5,397.2ZM413.5,385.4L430.8,380.8L434.2,402.8L414.9,403.9ZM430.8,380.8L452.1,383.8L449.2,401.1L434.2,402.8ZM452.1,383.8L461.3,379.9L465.7,403.9L449.2,401.1ZM461.3,379.9L481.3,384.1L477.4,402.2L465.7,403.9ZM481.3,384.1L492,383.8L494.3,397.9L477.4,402.2ZM514,384.3L525.8,384L530.9,403.2L514.7,400.8ZM525.8,384L544.9,385.3L544.7,397.5L530.9,403.2ZM544.9,385.3L557,386.6L555.9,400.3L544.7,397.5ZM557,386.6L579.7,386L577.9,398.1L555.9,400.3ZM579.7,386L595,382.9L588.4,395.8L577.9,398.1ZM595,382.9L611.4,381.3L605.3,401.6L588.4,395.8ZM611.4,381.3L621.7,384.8L619.8,397.7L605.3,401.6ZM621.7,384.8L643.4,380.5L638,401.8L619.8,397.7ZM643.4,380.5L653.6,380.1L660.1,396L638,401.8ZM653.6,380.1L671.5,381L668.8,403.7L660.1,396ZM671.5,381L685.4,386.1L691.9,397L668.8,403.7ZM685.4,386.1L704.7,387.7L702.6,400.2L691.9,397ZM704.7,387.7L719.2,385.5L718.5,399.3L702.6,400.2ZM719.2,385.5L731.9,387.8L735.8,398L718.5,399.3ZM909.2,386.8L923.8,384.9L924.6,400.7L914.5,402.5ZM923.8,384.9L942,383.6L941.4,401.7L924.6,400.7ZM942,383.6L960.5,385.8L962.6,402.4L941.4,401.7ZM81.4,402.5L91.9,399.8L94.5,415.8L81.4,413.7ZM91.9,399.8L113.5,401.8L113.8,418.3L94.5,415.8ZM113.5,401.8L129.2,397.3L126.9,415.6L113.8,418.3ZM129.2,397.3L147.9,402.4L147.6,419.6L126.9,415.6ZM147.9,402.4L157.8,399.4L161,412.7L147.6,419.6ZM157.8,399.4L179.8,397.5L175.6,417.1L161,412.7ZM179.8,397.5L191.2,403.9L190.1,412.1L175.6,417.1ZM191.2,403.9L211.4,397.8L212,419.4L190.1,412.1ZM211.4,397.8L226,398.8L220.9,415.7L212,419.4ZM226,398.8L241.4,402.2L241,414.3L220.9,415.7ZM241.4,402.2L252.9,397.7L252.4,418.1L241,414.3ZM252.9,397.7L269.6,398L274.3,415.5L252.4,418.1ZM269.6,398L284.1,396.9L284.5,415.1L274.3,415.5ZM284.1,396.9L303.2,399.3L300.6,419.9L284.5,415.1ZM303.2,399.3L316.5,400.7L316.2,414.2L300.6,419.9ZM316.5,400.7L339.7,400.6L338.3,412.9L316.2,414.2ZM339.7,400.6L350.8,401.7L348.7,412.4L338.3,412.9ZM350.8,401.7L367.5,397.3L365.2,416.3L348.7,412.4ZM367.5,397.3L383.8,395.9L386.8,413.2L365.2,416.3ZM383.8,395.9L401.5,397.2L397.3,418.2L386.8,413.2ZM401.5,397.2L414.9,403.9L415.4,414.6L397.3,418.2ZM414.9,403.9L434.2,402.8L428.8,413.8L415.4,414.6ZM434.2,402.8L449.2,401.1L452,412.8L428.8,413.8ZM449.2,401.1L465.7,403.9L462,418L452,412.8ZM465.7,403.9L477.4,402.2L483.3,419.4L462,418ZM477.4,402.2L494.3,397.9L495.8,419.8L483.3,419.4ZM494.3,397.9L514.7,400.8L512.9,414.2L495.8,419.8ZM514.7,400.8L530.9,403.2L527.7,417.8L512.9,414.2ZM530.9,403.2L544.7,397.5L546,412.9L527.7,417.8ZM544.7,397.5L555.9,400.3L557.4,419.8L546,412.9ZM555.9,400.3L577.9,398.1L572.7,418.6L557.4,419.8ZM577.9,398.1L588.4,395.8L590.6,413.9L572.7,418.6ZM588.4,395.8L605.3,401.6L605.9,415.7L590.6,413.9ZM605.3,401.6L619.8,397.7L628.1,413L605.9,415.7ZM619.8,397.7L638,401.8L643,414.5L628.1,413ZM638,401.8L660.1,396L653.3,418.1L643,414.5ZM660.1,396L668.8,403.7L670.7,413.4L653.3,418.1ZM668.8,403.7L691.9,397L687.3,418.7L670.7,413.4ZM702.6,400.2L718.5,399.3L715.9,418.2L707,416.6ZM881.6,399L897.8,397.7L898.6,420.1L877.9,419.5ZM914.5,402.5L924.6,400.7L930.6,413.9L913.9,418.1ZM924.6,400.7L941.4,401.7L945.3,415L930.6,413.9ZM1072.3,401.9L1084.1,401.9L1088.4,415.6L1068.2,419.1ZM1084.1,401.9L1101.7,398.2L1102.7,418.4L1088.4,415.6ZM81.4,413.7L94.5,415.8L92.1,432.8L76.8,435.5ZM94.5,415.8L113.8,418.3L111.4,433.8L92.1,432.8ZM113.8,418.3L126.9,415.6L127.4,428.6L111.4,433.8ZM126.9,415.6L147.6,419.6L144.2,434.7L127.4,428.6ZM147.6,419.6L161,412.7L162.4,430.8L144.2,434.7ZM161,412.7L175.6,417.1L173.7,434.1L162.4,430.8ZM190.1,412.1L212,419.4L211.2,436.1L194.5,429.6ZM212,419.4L220.9,415.7L223.4,431L211.2,436.1ZM220.9,415.7L241,414.3L241.8,435.6L223.4,431ZM241,414.3L252.4,418.1L253.5,430.3L241.8,435.6ZM252.4,418.1L274.3,415.5L270.6,434L253.5,430.3ZM274.3,415.5L284.5,415.1L285.4,432.4L270.6,434ZM284.5,415.1L300.6,419.9L304,433.4L285.4,432.4ZM300.6,419.9L316.2,414.2L317,435.8L304,433.4ZM348.7,412.4L365.2,416.3L371.4,432.4L354.5,429.3ZM365.2,416.3L386.8,413.2L386.2,435.1L371.4,432.4ZM386.8,413.2L397.3,418.2L398.8,435.6L386.2,435.1ZM397.3,418.2L415.4,414.6L413.5,428L398.8,435.6ZM415.4,414.6L428.8,413.8L432,435.3L413.5,428ZM428.8,413.8L452,412.8L451.4,435.8L432,435.3ZM452,412.8L462,418L464.1,435.6L451.4,435.8ZM462,418L483.3,419.4L480.5,429L464.1,435.6ZM483.3,419.4L495.8,419.8L497.1,434.5L480.5,429ZM495.8,419.8L512.9,414.2L511.4,432.9L497.1,434.5ZM512.9,414.2L527.7,417.8L526,430.1L511.4,432.9ZM527.7,417.8L546,412.9L543.3,432.1L526,430.1ZM546,412.9L557.4,419.8L559.7,428.6L543.3,432.1ZM557.4,419.8L572.7,418.6L571.8,430.7L559.7,428.6ZM572.7,418.6L590.6,413.9L593.8,434.1L571.8,430.7ZM590.6,413.9L605.9,415.7L605.8,429.9L593.8,434.1ZM605.9,415.7L628.1,413L624.1,429.3L605.8,429.9ZM628.1,413L643,414.5L640.9,435.4L624.1,429.3ZM643,414.5L653.3,418.1L653.5,432.7L640.9,435.4ZM653.3,418.1L670.7,413.4L673.9,434.1L653.5,432.7ZM670.7,413.4L687.3,418.7L689.8,433.8L673.9,434.1ZM877.9,419.5L898.6,420.1L892.5,429.4L877.2,429.6ZM898.6,420.1L913.9,418.1L910.5,432L892.5,429.4ZM913.9,418.1L930.6,413.9L925.3,431.8L910.5,432ZM1057.5,417.3L1068.2,419.1L1073.6,431.1L1055.4,430.8ZM1068.2,419.1L1088.4,415.6L1085.1,435.1L1073.6,431.1ZM1122.4,419.1L1133.6,414.7L1134.8,433.1L1122.9,433.9ZM1133.6,414.7L1149.9,412.6L1155.5,431.2L1134.8,433.1ZM76.8,435.5L92.1,432.8L94.9,447.1L82.4,446ZM92.1,432.8L111.4,433.8L110.8,451.5L94.9,447.1ZM111.4,433.8L127.4,428.6L128.3,446.1L110.8,451.5ZM194.5,429.6L211.2,436.1L205,445.7L188.3,450.6ZM211.2,436.1L223.4,431L220.3,446L205,445.7ZM223.4,431L241.8,435.6L242,449.8L220.3,446ZM241.8,435.6L253.5,430.3L259.4,451.8L242,449.8ZM253.5,430.3L270.6,434L272.4,451.5L259.4,451.8ZM270.6,434L285.4,432.4L284.6,451.6L272.4,451.5ZM285.4,432.4L304,433.4L303.4,445.4L284.6,451.6ZM304,433.4L317,435.8L322.1,451L303.4,445.4ZM340.2,432.5L354.5,429.3L355.1,450.1L335,444.6ZM354.5,429.3L371.4,432.4L368.8,452L355.1,450.1ZM371.4,432.4L386.2,435.1L380.1,444.3L368.8,452ZM386.2,435.1L398.8,435.6L396.8,444L380.1,444.3ZM398.8,435.6L413.5,428L417.7,449.1L396.8,444ZM413.5,428L432,435.3L428.7,445.2L417.7,449.1ZM432,435.3L451.4,435.8L445.3,448.9L428.7,445.2ZM451.4,435.8L464.1,435.6L465.4,451.9L445.3,448.9ZM464.1,435.6L480.5,429L478.8,452L465.4,451.9ZM480.5,429L497.1,434.5L495.4,447.1L478.8,452ZM497.1,434.5L511.4,432.9L509.9,445.8L495.4,447.1ZM511.4,432.9L526,430.1L532,452.2L509.9,445.8ZM543.3,432.1L559.7,428.6L557.3,445.1L545.7,445.3ZM559.7,428.6L571.8,430.7L574.7,450L557.3,445.1ZM571.8,430.7L593.8,434.1L588.3,448.3L574.7,450ZM605.8,429.9L624.1,429.3L623.5,450.4L609.5,444.1ZM653.5,432.7L673.9,434.1L670.6,447.1L659.2,448.8ZM673.9,434.1L689.8,433.8L691.7,451L670.6,447.1ZM1039.2,430.8L1055.4,430.8L1056.6,451.4L1037.1,450.2ZM1055.4,430.8L1073.6,431.1L1072.7,447.4L1056.6,451.4ZM188.3,450.6L205,445.7L205.4,464L194.6,460.8ZM205,445.7L220.3,446L222.6,461.2L205.4,464ZM220.3,446L242,449.8L243.6,463.8L222.6,461.2ZM242,449.8L259.4,451.8L258.4,461.9L243.6,463.8ZM259.4,451.8L272.4,451.5L275.5,461.7L258.4,461.9ZM272.4,451.5L284.6,451.6L291.4,464.9L275.5,461.7ZM303.4,445.4L322.1,451L321.1,464.3L308,466.3ZM322.1,451L335,444.6L339,463.5L321.1,464.3ZM335,444.6L355.1,450.1L348.6,467.5L339,463.5ZM355.1,450.1L368.8,452L370.6,465.5L348.6,467.5ZM368.8,452L380.1,444.3L386.1,461.7L370.6,465.5ZM380.1,444.3L396.8,444L399.7,466.7L386.1,461.7ZM396.8,444L417.7,449.1L419.9,467.6L399.7,466.7ZM417.7,449.1L428.7,445.2L429.1,465.5L419.9,467.6ZM428.7,445.2L445.3,448.9L448.5,463.2L429.1,465.5ZM445.3,448.9L465.4,451.9L461.2,461L448.5,463.2ZM465.4,451.9L478.8,452L479.8,463.9L461.2,461ZM478.8,452L495.4,447.1L494,462.9L479.8,463.9ZM495.4,447.1L509.9,445.8L512.5,466.2L494,462.9ZM509.9,445.8L532,452.2L528.8,461.2L512.5,466.2ZM532,452.2L545.7,445.3L547.2,462.9L528.8,461.2ZM545.7,445.3L557.3,445.1L563.9,468L547.2,462.9ZM557.3,445.1L574.7,450L573,464.7L563.9,468ZM574.7,450L588.3,448.3L595.9,463L573,464.7ZM623.5,450.4L640.6,447.6L636.8,462.2L620,461.5ZM865,446.5L879,446.1L881.8,459.8L868.1,465.5ZM914.4,450.7L932.1,449.6L928.6,459.9L915.9,462.4ZM932.1,449.6L942.5,450.2L943.3,467.4L928.6,459.9ZM1037.1,450.2L1056.6,451.4L1059.9,463.2L1040.1,462.5ZM205.4,464L222.6,461.2L222.4,478.5L205.9,477.1ZM222.6,461.2L243.6,463.8L243.4,481.7L222.4,478.5ZM243.6,463.8L258.4,461.9L255.4,477.2L243.4,481.7ZM258.4,461.9L275.5,461.7L268.2,476.8L255.4,477.2ZM275.5,461.7L291.4,464.9L290.9,481.2L268.2,476.8ZM291.4,464.9L308,466.3L301.1,481.1L290.9,481.2ZM308,466.3L321.1,464.3L316.3,480.1L301.1,481.1ZM321.1,464.3L339,463.5L334.6,476.7L316.3,480.1ZM339,463.5L348.6,467.5L354,481.8L334.6,476.7ZM348.6,467.5L370.6,465.5L368.1,477.2L354,481.8ZM370.6,465.5L386.1,461.7L385.4,479.4L368.1,477.2ZM386.1,461.7L399.7,466.7L401.4,476.6L385.4,479.4ZM399.7,466.7L419.9,467.6L419.4,475.8L401.4,476.6ZM419.9,467.6L429.1,465.5L429.7,479.1L419.4,475.8ZM429.1,465.5L448.5,463.2L445.5,476.5L429.7,479.1ZM448.5,463.2L461.2,461L465.6,484.1L445.5,476.5ZM461.2,461L479.8,463.9L478.6,478L465.6,484.1ZM512.5,466.2L528.8,461.2L527.4,477.1L511.2,481.6ZM528.8,461.2L547.2,462.9L540.4,480.4L527.4,477.1ZM547.2,462.9L563.9,468L564.1,483.5L540.4,480.4ZM563.9,468L573,464.7L572.6,480L564.1,483.5ZM868.1,465.5L881.8,459.8L877.1,483.1L867.1,481.1ZM915.9,462.4L928.6,459.9L923.8,476.2L911,481.4ZM928.6,459.9L943.3,467.4L942.8,483.1L923.8,476.2ZM1040.1,462.5L1059.9,463.2L1055.9,478.6L1037.5,480.2ZM205.9,477.1L222.4,478.5L222.4,500L207.5,495.3ZM222.4,478.5L243.4,481.7L237.3,493.1L222.4,500ZM243.4,481.7L255.4,477.2L254.2,499.5L237.3,493.1ZM255.4,477.2L268.2,476.8L275,494.6L254.2,499.5ZM268.2,476.8L290.9,481.2L291,499.3L275,494.6ZM290.9,481.2L301.1,481.1L303.4,493.4L291,499.3ZM301.1,481.1L316.3,480.1L322.3,494.9L303.4,493.4ZM316.3,480.1L334.6,476.7L332.8,499.4L322.3,494.9ZM334.6,476.7L354,481.8L351.5,495.1L332.8,499.4ZM354,481.8L368.1,477.2L368.8,493.9L351.5,495.1ZM368.1,477.2L385.4,479.4L380,495.1L368.8,493.9ZM385.4,479.4L401.4,476.6L399,491.9L380,495.1ZM419.4,475.8L429.7,479.1L430.6,497.5L414.9,498.2ZM429.7,479.1L445.5,476.5L449,493.4L430.6,497.5ZM478.6,478L497.4,477.7L493.5,499L480.9,494.3ZM497.4,477.7L511.2,481.6L515.4,493.8L493.5,499ZM511.2,481.6L527.4,477.1L528.7,496.6L515.4,493.8ZM527.4,477.1L540.4,480.4L542.5,492.1L528.7,496.6ZM540.4,480.4L564.1,483.5L558.5,497.2L542.5,492.1ZM564.1,483.5L572.6,480L576.9,496.1L558.5,497.2ZM572.6,480L591.9,477.4L588.8,493.6L576.9,496.1ZM591.9,477.4L609.4,480L606.4,495.3L588.8,493.6ZM222.4,500L237.3,493.1L243.6,516L224.9,508.1ZM237.3,493.1L254.2,499.5L257.9,510L243.6,516ZM254.2,499.5L275,494.6L274.9,509.3L257.9,510ZM275,494.6L291,499.3L290.8,512.2L274.9,509.3ZM291,499.3L303.4,493.4L299.9,515.3L290.8,512.2ZM303.4,493.4L322.3,494.9L319.5,514.8L299.9,515.3ZM322.3,494.9L332.8,499.4L337.6,512.3L319.5,514.8ZM332.8,499.4L351.5,495.1L355,509.5L337.6,512.3ZM351.5,495.1L368.8,493.9L371.3,510.6L355,509.5ZM368.8,493.9L380,495.1L380,510.6L371.3,510.6ZM380,495.1L399,491.9L396.4,508.4L380,510.6ZM414.9,498.2L430.6,497.5L429.1,510.3L417,508.8ZM430.6,497.5L449,493.4L446.1,515.5L429.1,510.3ZM493.5,499L515.4,493.8L515.6,514.6L498.5,510.2ZM515.4,493.8L528.7,496.6L530,509.7L515.6,514.6ZM576.9,496.1L588.8,493.6L593.7,511.7L579,509ZM588.8,493.6L606.4,495.3L610.4,511.6L593.7,511.7ZM224.9,508.1L243.6,516L236.1,530.2L228.2,525.6ZM243.6,516L257.9,510L255.3,531.6L236.1,530.2ZM257.9,510L274.9,509.3L271.1,526.4L255.3,531.6ZM274.9,509.3L290.8,512.2L284.4,531.8L271.1,526.4ZM290.8,512.2L299.9,515.3L304.1,527.5L284.4,531.8ZM299.9,515.3L319.5,514.8L319.5,530.3L304.1,527.5ZM319.5,514.8L337.6,512.3L338.8,527.8L319.5,530.3ZM337.6,512.3L355,509.5L349.3,527.2L338.8,527.8ZM355,509.5L371.3,510.6L371.3,527.2L349.3,527.2ZM371.3,510.6L380,510.6L385.4,528.5L371.3,527.2ZM380,510.6L396.4,508.4L399.7,528.6L385.4,528.5ZM417,508.8L429.1,510.3L435.1,524.5L413.9,528.5ZM498.5,510.2L515.6,514.6L508.9,526.3L498.9,527.7ZM515.6,514.6L530,509.7L529.8,529.9L508.9,526.3ZM530,509.7L540.6,515.6L541.5,529.2L529.8,529.9ZM540.6,515.6L560.4,512.9L561.3,529.3L541.5,529.2ZM560.4,512.9L579,509L572,527.5L561.3,529.3ZM579,509L593.7,511.7L590.5,528.8L572,527.5ZM610.4,511.6L621.5,515.8L625.4,526.2L606.6,524.9ZM255.3,531.6L271.1,526.4L271.7,545.8L257,541.4ZM271.1,526.4L284.4,531.8L284.6,545.3L271.7,545.8ZM284.4,531.8L304.1,527.5L300.7,543.8L284.6,545.3ZM304.1,527.5L319.5,530.3L321.3,545.6L300.7,543.8ZM319.5,530.3L338.8,527.8L332.2,541.4L321.3,545.6ZM338.8,527.8L349.3,527.2L355.9,543.1L332.2,541.4ZM349.3,527.2L371.3,527.2L367.4,542.9L355.9,543.1ZM371.3,527.2L385.4,528.5L385.6,546L367.4,542.9ZM385.4,528.5L399.7,528.6L401.3,543.2L385.6,546ZM498.9,527.7L508.9,526.3L515.7,546.8L498,545.8ZM508.9,526.3L529.8,529.9L531.2,542L515.7,546.8ZM529.8,529.9L541.5,529.2L546.4,543.8L531.2,542ZM625.4,526.2L642.4,526.4L638.6,540.7L624.6,541.6ZM718.9,525.3L735.1,528L735.5,543L719.1,539.9ZM735.1,528L751.3,524.8L747.9,547L735.5,543ZM876.2,527.6L899.1,525.5L892.8,546.9L884.1,547.2ZM284.6,545.3L300.7,543.8L306.5,560.8L284.7,561.9ZM300.7,543.8L321.3,545.6L316.8,560.8L306.5,560.8ZM321.3,545.6L332.2,541.4L339.1,564.1L316.8,560.8ZM332.2,541.4L355.9,543.1L354.2,556.2L339.1,564.1ZM355.9,543.1L367.4,542.9L371.2,561.4L354.2,556.2ZM367.4,542.9L385.6,546L382.1,563.5L371.2,561.4ZM385.6,546L401.3,543.2L402.7,563.3L382.1,563.5ZM482.8,541.8L498,545.8L499.5,560.6L483.6,560.6ZM498,545.8L515.7,546.8L516.1,556L499.5,560.6ZM515.7,546.8L531.2,542L527.7,560.4L516.1,556ZM531.2,542L546.4,543.8L545.9,563.9L527.7,560.4ZM546.4,543.8L558.4,542.9L561,559.8L545.9,563.9ZM719.1,539.9L735.5,543L739.8,562.3L718.5,560.7ZM787.9,541.7L797.9,540L797.3,560.5L782.7,562.5ZM339.1,564.1L354.2,556.2L351,578.9L340.1,575.8ZM354.2,556.2L371.2,561.4L371.3,575L351,578.9ZM371.2,561.4L382.1,563.5L380.8,577.1L371.3,575ZM382.1,563.5L402.7,563.3L402,579.6L380.8,577.1ZM462.6,560.4L483.6,560.6L483.6,575.8L467.5,579.4ZM483.6,560.6L499.5,560.6L499.9,573L483.6,575.8ZM499.5,560.6L516.1,556L515.5,577.2L499.9,573ZM516.1,556L527.7,560.4L531.1,575.3L515.5,577.2ZM527.7,560.4L545.9,563.9L548.1,572L531.1,575.3ZM545.9,563.9L561,559.8L562.9,578.7L548.1,572ZM577.1,560.3L593.7,563.8L589.6,578.1L574.9,578.8ZM642.4,556.1L657.2,562.5L660,573.7L641.9,572.5ZM755.8,557.9L768.1,559L772.1,575.3L752.7,575.6ZM768.1,559L782.7,562.5L782.7,575.3L772.1,575.3ZM371.3,575L380.8,577.1L381,588.6L364.8,594.1ZM447.5,575.7L467.5,579.4L464.5,589.9L450.1,593.6ZM467.5,579.4L483.6,575.8L483.8,595.8L464.5,589.9ZM483.6,575.8L499.9,573L491.9,590.6L483.8,595.8ZM499.9,573L515.5,577.2L510.5,589.5L491.9,590.6ZM515.5,577.2L531.1,575.3L527.4,595.3L510.5,589.5ZM574.9,578.8L589.6,578.1L589.6,588.8L579.4,590.1ZM718.9,572.7L732.4,576.2L732.9,595.2L719.8,590.6ZM752.7,575.6L772.1,575.3L771.6,595.3L752.9,588.6ZM558.4,587.9L579.4,590.1L580,604.8L562.7,610.6ZM719.8,590.6L732.9,595.2L735.4,608.5L719.4,607.3ZM528.8,610.3L541.2,606.7L543.4,621.8L530.7,624.7ZM580,604.8L589.6,604.7L596,622L574.7,620.2ZM589.6,604.7L609.9,610.1L610.9,620.8L596,622ZM640.1,608.5L659.5,609.2L652.6,621.5L643.3,622.3ZM659.5,609.2L673.3,608.7L674.6,628L652.6,621.5ZM492.2,621.2L510,624.2L512.2,643.9L496.5,642.6ZM510,624.2L530.7,624.7L523.9,643.3L512.2,643.9ZM816.1,621.3L835.1,620.7L835.9,637.7L820.1,642.8ZM820.1,642.8L835.9,637.7L833.1,658L814.6,653.7ZM564.1,654.5L574.5,655.8L575.1,670.1L557.7,672.5ZM574.5,655.8L589.2,655.2L589,675.1L575.1,670.1ZM460.4,668.6L478.4,668.8L480.3,687.1L462.7,688ZM557.7,672.5L575.1,670.1L571.8,684.9L559.9,690.5ZM575.1,670.1L589,675.1L589.5,686.9L571.8,684.9ZM609.1,675.6L621.2,670L627.9,687.5L607.2,687ZM621.2,670L640.1,668.3L640.6,691.9L627.9,687.5ZM892,674.8L914,671.9L914.6,687.8L899.3,686.8ZM914,671.9L923.8,669.8L931.3,687.8L914.6,687.8ZM571.8,684.9L589.5,686.9L592.7,701.8L574.8,707.9ZM589.5,686.9L607.2,687L608.5,707L592.7,701.8ZM607.2,687L627.9,687.5L622.9,703.5L608.5,707ZM627.9,687.5L640.6,691.9L640.7,708.1L622.9,703.5ZM899.3,686.8L914.6,687.8L911.5,705.5L897.5,702.6ZM592.7,701.8L608.5,707L606.2,722.6L589.1,723ZM608.5,707L622.9,703.5L625.3,720.9L606.2,722.6ZM897.5,702.6L911.5,705.5L914.2,718.9L896,723.8ZM606.3,755.1L623.1,751.3L619.9,767.5L608.6,769.4ZM1051.9,797.4L1069.3,798.8L1068.7,819.5L1058.5,814.6ZM1058.5,814.6L1068.7,819.5L1071.3,833.2L1059.9,836Z"/>
<path fill="#c6dbef" stroke="#c6dbef" stroke-width="0.6" d="M291,113L300.1,111.3L303.3,129.7L283.9,127.3ZM283.9,127.3L303.3,129.7L306.3,147.5L285.3,140.1ZM333.7,130L355.7,128.2L352.5,142L338.7,146.4ZM1182.6,132L1200.1,127.9L1202.6,147.1L1180.2,146.8ZM1200.1,127.9L1219.3,124.1L1216.6,142.1L1202.6,147.1ZM1219.3,124.1L1233.8,129.1L1234.9,146.6L1216.6,142.1ZM257.4,143.6L274.2,140.7L268.1,164.1L256.2,156ZM274.2,140.7L285.3,140.1L291.1,159.9L268.1,164.1ZM285.3,140.1L306.3,147.5L304.6,158L291.1,159.9ZM306.3,147.5L321.3,142.9L322.3,159.4L304.6,158ZM321.3,142.9L338.7,146.4L339.8,162.2L322.3,159.4ZM338.7,146.4L352.5,142L354.7,163.9L339.8,162.2ZM352.5,142L366.3,143.3L365.9,156.1L354.7,163.9ZM401.2,147.6L412.3,144.6L416.5,163.1L396.5,156.2ZM412.3,144.6L428.1,140.8L431.6,163.8L416.5,163.1ZM428.1,140.8L450.6,144.6L451.4,156.3L431.6,163.8ZM450.6,144.6L467.5,143.6L464.8,159.1L451.4,156.3ZM668.2,146.3L689.8,147L690.1,163.7L668.3,157ZM689.8,147L705.9,140.5L705.5,158.3L690.1,163.7ZM1170.7,147.3L1180.2,146.8L1182.9,164.1L1166,157.5ZM1180.2,146.8L1202.6,147.1L1204.2,163.6L1182.9,164.1ZM1202.6,147.1L1216.6,142.1L1212.6,158.2L1204.2,163.6ZM1216.6,142.1L1234.9,146.6L1235.3,156.3L1212.6,158.2ZM226.4,157.1L240.8,158.7L243.1,174L227.4,175.8ZM240.8,158.7L256.2,156L253.4,178.8L243.1,174ZM256.2,156L268.1,164.1L270.9,173.2L253.4,178.8ZM268.1,164.1L291.1,159.9L286.9,176.8L270.9,173.2ZM291.1,159.9L304.6,158L299.8,176.2L286.9,176.8ZM304.6,158L322.3,159.4L319.5,176.1L299.8,176.2ZM322.3,159.4L339.8,162.2L332.8,177.8L319.5,176.1ZM339.8,162.2L354.7,163.9L354.7,179.1L332.8,177.8ZM354.7,163.9L365.9,156.1L366.5,177.8L354.7,179.1ZM365.9,156.1L381.5,157.3L383,178.1L366.5,177.8ZM396.5,156.2L416.5,163.1L419.8,176L396.3,179.1ZM416.5,163.1L431.6,163.8L432.1,176.3L419.8,176ZM431.6,163.8L451.4,156.3L448.3,172L432.1,176.3ZM451.4,156.3L464.8,159.1L467.9,173.7L448.3,172ZM657.2,164.1L668.3,157L672.8,179L655.2,173ZM668.3,157L690.1,163.7L685,176.6L672.8,179ZM690.1,163.7L705.5,158.3L706.1,173.2L685,176.6ZM705.5,158.3L720.8,162.2L722.7,179.7L706.1,173.2ZM1166,157.5L1182.9,164.1L1182.1,175.7L1171.8,176.1ZM1182.9,164.1L1204.2,163.6L1200.3,173L1182.1,175.7ZM1204.2,163.6L1212.6,158.2L1212.8,172.9L1200.3,173ZM1212.6,158.2L1235.3,156.3L1230.3,175.2L1212.8,172.9ZM1235.3,156.3L1249.9,158.3L1246.2,173.8L1230.3,175.2ZM207.9,171.9L227.4,175.8L221.1,190.6L211.9,194ZM227.4,175.8L243.1,174L238.8,193.5L221.1,190.6ZM243.1,174L253.4,178.8L257,194.9L238.8,193.5ZM253.4,178.8L270.9,173.2L274.7,192.1L257,194.9ZM270.9,173.2L286.9,176.8L290,194L274.7,192.1ZM286.9,176.8L299.8,176.2L306.2,191.8L290,194ZM299.8,176.2L319.5,176.1L322.4,193.8L306.2,191.8ZM319.5,176.1L332.8,177.8L339.5,188.9L322.4,193.8ZM419.8,176L432.1,176.3L432.9,191L418.4,195.1ZM432.1,176.3L448.3,172L447.6,191.6L432.9,191ZM448.3,172L467.9,173.7L465.9,190.3L447.6,191.6ZM638.1,172.8L655.2,173L651.9,188.2L639.4,195.4ZM655.2,173L672.8,179L672.5,192L651.9,188.2ZM672.8,179L685,176.6L691.5,194.3L672.5,192ZM685,176.6L706.1,173.2L704.3,196.2L691.5,194.3ZM767.1,179.7L786.3,174.6L785.5,192.2L766.7,195.8ZM786.3,174.6L797.8,174.6L796.6,190.9L785.5,192.2ZM1171.8,176.1L1182.1,175.7L1184,192.4L1169.4,189.5ZM1182.1,175.7L1200.3,173L1198,193.2L1184,192.4ZM1200.3,173L1212.8,172.9L1216.3,196.2L1198,193.2ZM1212.8,172.9L1230.3,175.2L1232.6,191.3L1216.3,196.2ZM1230.3,175.2L1246.2,173.8L1244.8,189.1L1232.6,191.3ZM290,194L306.2,191.8L302.8,205.4L285.8,205.3ZM306.2,191.8L322.4,193.8L324,206.2L302.8,205.4ZM447.6,191.6L465.9,190.3L461.1,209.7L449.4,206.7ZM495,190.5L514.4,194.9L511.5,210.8L498.8,204.9ZM514.4,194.9L528,191.5L530.6,205.1L511.5,210.8ZM576.7,188.5L595.5,190.5L592,205.7L573.5,211.8ZM691.5,194.3L704.3,196.2L704.1,208.4L691.1,204.8ZM750.8,192.8L766.7,195.8L767.1,204.5L752.6,206.4ZM1169.4,189.5L1184,192.4L1185.8,205.9L1170.9,208.6ZM1184,192.4L1198,193.2L1199.5,209.5L1185.8,205.9ZM1198,193.2L1216.3,196.2L1214.7,203.8L1199.5,209.5ZM1216.3,196.2L1232.6,191.3L1234.8,210.3L1214.7,203.8ZM1232.6,191.3L1244.8,189.1L1246.2,204.2L1234.8,210.3ZM1244.8,189.1L1266.2,188.7L1267,208.9L1246.2,204.2ZM192.9,211.9L208,211.8L208.4,221.9L195.9,225.2ZM208,211.8L221.8,207.1L220.3,222.8L208.4,221.9ZM221.8,207.1L241.8,205.7L239.3,221.5L220.3,222.8ZM241.8,205.7L254.4,211.2L254.4,220.9L239.3,221.5ZM254.4,211.2L271.9,210.5L273.7,225.4L254.4,220.9ZM271.9,210.5L285.8,205.3L285.8,221.8L273.7,225.4ZM285.8,205.3L302.8,205.4L304.1,223.5L285.8,221.8ZM302.8,205.4L324,206.2L323.7,222.8L304.1,223.5ZM324,206.2L336.5,204.8L334.3,227.2L323.7,222.8ZM336.5,204.8L352.3,207L349,224.5L334.3,227.2ZM352.3,207L367.2,204.3L366.6,226.6L349,224.5ZM367.2,204.3L380.8,210.7L384.4,226.2L366.6,226.6ZM380.8,210.7L398.8,205.9L397.2,225.4L384.4,226.2ZM498.8,204.9L511.5,210.8L511.6,220.7L493.5,225.7ZM511.5,210.8L530.6,205.1L526.5,223.7L511.6,220.7ZM559,211.9L573.5,211.8L580.1,226.1L556.4,219.9ZM654.9,205.9L672.9,205.6L675.5,225.2L656.4,219.9ZM672.9,205.6L691.1,204.8L689.1,227.7L675.5,225.2ZM752.6,206.4L767.1,204.5L765.4,225.2L754.9,222.3ZM876.9,209.8L894.2,207.2L893.8,220.1L878.9,226.8ZM1132.1,206.4L1153.2,205.3L1150.6,223.5L1136.1,223.3ZM1170.9,208.6L1185.8,205.9L1187.4,221.2L1169.4,226.7ZM1185.8,205.9L1199.5,209.5L1198.3,223.5L1187.4,221.2ZM1199.5,209.5L1214.7,203.8L1216.5,222.7L1198.3,223.5ZM1234.8,210.3L1246.2,204.2L1246.5,223.7L1229.4,220.5ZM1246.2,204.2L1267,208.9L1268,227.4L1246.5,223.7ZM195.9,225.2L208.4,221.9L208.3,237.9L189.9,236.6ZM208.4,221.9L220.3,222.8L223.9,240.5L208.3,237.9ZM220.3,222.8L239.3,221.5L237.7,240.6L223.9,240.5ZM239.3,221.5L254.4,220.9L252.7,240.1L237.7,240.6ZM254.4,220.9L273.7,225.4L272.7,236.5L252.7,240.1ZM273.7,225.4L285.8,221.8L287.2,236.4L272.7,236.5ZM285.8,221.8L304.1,223.5L303.5,243.1L287.2,236.4ZM304.1,223.5L323.7,222.8L320.4,241.8L303.5,243.1ZM323.7,222.8L334.3,227.2L338.2,236.8L320.4,241.8ZM334.3,227.2L349,224.5L356.1,241.9L338.2,236.8ZM349,224.5L366.6,226.6L364.7,242.8L356.1,241.9ZM366.6,226.6L384.4,226.2L383.1,237.2L364.7,242.8ZM384.4,226.2L397.2,225.4L403.9,240.5L383.1,237.2ZM397.2,225.4L416.8,223.7L418.3,236.9L403.9,240.5ZM434.2,226.8L444.8,222.2L445.8,238.9L434.3,236.3ZM493.5,225.7L511.6,220.7L515.3,241L497.7,239.4ZM754.9,222.3L765.4,225.2L764.7,242.5L748.8,236ZM830.5,221.4L850.7,222.5L849.6,242.6L835.2,240.3ZM878.9,226.8L893.8,220.1L896,243.1L878.7,237.1ZM1136.1,223.3L1150.6,223.5L1148.2,237L1135.7,244.1ZM1169.4,226.7L1187.4,221.2L1182.1,240L1169.4,238.1ZM1187.4,221.2L1198.3,223.5L1198,240.6L1182.1,240ZM1246.5,223.7L1268,227.4L1267.1,242.3L1248.5,242.3ZM189.9,236.6L208.3,237.9L209.9,256.4L190.3,254.4ZM208.3,237.9L223.9,240.5L227.7,254.7L209.9,256.4ZM223.9,240.5L237.7,240.6L243.5,256.7L227.7,254.7ZM237.7,240.6L252.7,240.1L252.5,253.3L243.5,256.7ZM252.7,240.1L272.7,236.5L272.7,260.1L252.5,253.3ZM272.7,236.5L287.2,236.4L286.8,258.3L272.7,260.1ZM287.2,236.4L303.5,243.1L303.4,259.1L286.8,258.3ZM303.5,243.1L320.4,241.8L316.4,255.9L303.4,259.1ZM320.4,241.8L338.2,236.8L339.4,254.1L316.4,255.9ZM705.5,237.9L717.4,239.6L721,257.9L708.1,252.3ZM815,237L835.2,240.3L832.9,254.6L816.5,257.3ZM835.2,240.3L849.6,242.6L850,254L832.9,254.6ZM1099.9,240.7L1118.6,236L1117.2,252L1106,259.5ZM190.3,254.4L209.9,256.4L211.1,269.3L190.8,274.4ZM209.9,256.4L227.7,254.7L227.1,276.2L211.1,269.3ZM227.7,254.7L243.5,256.7L238.3,268L227.1,276.2ZM243.5,256.7L252.5,253.3L252.7,276L238.3,268ZM252.5,253.3L272.7,260.1L267.9,275.5L252.7,276ZM272.7,260.1L286.8,258.3L285.1,274L267.9,275.5ZM286.8,258.3L303.4,259.1L300.6,269.2L285.1,274ZM303.4,259.1L316.4,255.9L321.5,268.6L300.6,269.2ZM316.4,255.9L339.4,254.1L334.7,275.5L321.5,268.6ZM433.2,253.5L450,259.9L444,276.1L431.4,268.7ZM450,259.9L464.8,252.5L462.5,275.2L444,276.1ZM464.8,252.5L482.6,259.2L476.8,271.9L462.5,275.2ZM708.1,252.3L721,257.9L720.4,272.4L705.6,273.3ZM721,257.9L734.6,252.6L737.6,276.1L720.4,272.4ZM749.1,253L770.2,252.6L767.2,270.5L755.1,273.8ZM800.3,256.7L816.5,257.3L815.2,269L799.1,271ZM898.3,260L911.6,254.1L914.9,274.4L893.5,268.8ZM1117.2,252L1138.3,253.8L1133.7,272.9L1121.1,272.4ZM1138.3,253.8L1156.1,256L1150,275.4L1133.7,272.9ZM267.9,275.5L285.1,274L285.5,287.4L273.1,291ZM285.1,274L300.6,269.2L306.5,289L285.5,287.4ZM300.6,269.2L321.5,268.6L318.9,284.2L306.5,289ZM416,269.7L431.4,268.7L436,289.8L419.6,285.4ZM431.4,268.7L444,276.1L446.9,289.4L436,289.8ZM444,276.1L462.5,275.2L462.6,284.4L446.9,289.4ZM462.5,275.2L476.8,271.9L482.2,287L462.6,284.4ZM492.9,271.4L509.3,273.6L515.4,290.2L496.2,288ZM671.2,272.5L686.8,267.9L684.8,285.7L674.3,290.3ZM686.8,267.9L705.6,273.3L700.4,290.7L684.8,285.7ZM767.2,270.5L783.3,276L780.3,289.6L769.8,287.9ZM799.1,271L815.2,269L820.2,290.7L799.3,288.7ZM945.6,270.5L961.2,272.4L963.1,290.5L940.2,286.4ZM1058,271L1073.8,271.1L1075.5,288.5L1058.5,285.5ZM1121.1,272.4L1133.7,272.9L1134.1,290.5L1120.5,286.5ZM1133.7,272.9L1150,275.4L1150.2,289.8L1134.1,290.5ZM273.1,291L285.5,287.4L289.9,303.4L268.6,303.7ZM419.6,285.4L436,289.8L432.8,304.3L415.9,307.1ZM436,289.8L446.9,289.4L444.5,301L432.8,304.3ZM446.9,289.4L462.6,284.4L462.1,307.3L444.5,301ZM462.6,284.4L482.2,287L482.9,301.7L462.1,307.3ZM482.2,287L496.2,288L499.6,300.1L482.9,301.7ZM496.2,288L515.4,290.2L512.8,307.9L499.6,300.1ZM674.3,290.3L684.8,285.7L684.6,305.2L668.1,304.1ZM700.4,290.7L716.7,284.5L718.8,302.9L700.9,304.7ZM859.9,292.1L878.1,286L880.1,302.9L861.2,304.3ZM878.1,286L894.4,285.9L893.5,303.2L880.1,302.9ZM928.1,287.3L940.2,286.4L944,307.3L925.8,307.1ZM940.2,286.4L963.1,290.5L955.9,307.7L944,307.3ZM1040.7,286.9L1058.5,285.5L1056.2,302.3L1036.1,303.1ZM1058.5,285.5L1075.5,288.5L1075.3,300.5L1056.2,302.3ZM1084.2,286.4L1104.3,287.2L1104.8,306.4L1088.7,301.8ZM1120.5,286.5L1134.1,290.5L1133.9,304.8L1121.8,300.3ZM1170.5,288.8L1183.6,291.7L1186.6,302.7L1169,305.6ZM415.9,307.1L432.8,304.3L433.3,322.8L415.2,316.5ZM432.8,304.3L444.5,301L446.7,320.8L433.3,322.8ZM444.5,301L462.1,307.3L466.8,322.5L446.7,320.8ZM462.1,307.3L482.9,301.7L475.8,319.9L466.8,322.5ZM482.9,301.7L499.6,300.1L491.9,316.7L475.8,319.9ZM499.6,300.1L512.8,307.9L514.6,319.3L491.9,316.7ZM684.6,305.2L700.9,304.7L701.7,323.3L691.8,318.8ZM797.1,300.6L819.2,300.8L813.3,323.7L800.2,315.8ZM861.2,304.3L880.1,302.9L883,320.1L860.6,320.4ZM880.1,302.9L893.5,303.2L895,323.6L883,320.1ZM893.5,303.2L909.5,300.9L915.3,321.4L895,323.6ZM909.5,300.9L925.8,307.1L924.4,321L915.3,321.4ZM1075.3,300.5L1088.7,301.8L1091.3,321.9L1071.6,322.1ZM1088.7,301.8L1104.8,306.4L1106.1,316.1L1091.3,321.9ZM1104.8,306.4L1121.8,300.3L1118.5,317L1106.1,316.1ZM1121.8,300.3L1133.9,304.8L1139.8,323.3L1118.5,317ZM1133.9,304.8L1156.1,300.1L1149,320.7L1139.8,323.3ZM1169,305.6L1186.6,302.7L1183.1,322.1L1168.6,316.2ZM1186.6,302.7L1202.6,303.7L1201.2,318.2L1183.1,322.1ZM259.7,316.8L275.9,322.4L272.5,337.4L258.2,335.7ZM319.6,317.8L335.9,323.4L337.1,334L320.2,334.2ZM415.2,316.5L433.3,322.8L434.1,337.5L412.4,336.4ZM433.3,322.8L446.7,320.8L447.3,338.6L434.1,337.5ZM446.7,320.8L466.8,322.5L460.7,334.4L447.3,338.6ZM466.8,322.5L475.8,319.9L481.2,339.9L460.7,334.4ZM691.8,318.8L701.7,323.3L702.1,338.9L687.2,336.6ZM860.6,320.4L883,320.1L878.1,333.6L864.9,338.7ZM883,320.1L895,323.6L893.7,332.6L878.1,333.6ZM895,323.6L915.3,321.4L913.5,340L893.7,332.6ZM915.3,321.4L924.4,321L930.5,334.8L913.5,340ZM1036.3,322.8L1057.5,320.5L1052.7,333.7L1036.1,338.8ZM1071.6,322.1L1091.3,321.9L1086.6,336.6L1073.1,334.7ZM1091.3,321.9L1106.1,316.1L1101.6,338.5L1086.6,336.6ZM1106.1,316.1L1118.5,317L1117.6,338.9L1101.6,338.5ZM1118.5,317L1139.8,323.3L1138.6,336.3L1117.6,338.9ZM1139.8,323.3L1149,320.7L1148.1,338.3L1138.6,336.3ZM238.4,333.1L258.2,335.7L252.2,349.3L244.1,350.4ZM258.2,335.7L272.5,337.4L270.8,355.4L252.2,349.3ZM412.4,336.4L434.1,337.5L428,355.4L413.6,349.9ZM434.1,337.5L447.3,338.6L449.8,355.7L428,355.4ZM447.3,338.6L460.7,334.4L468,351.5L449.8,355.7ZM460.7,334.4L481.2,339.9L482,351L468,351.5ZM481.2,339.9L497.1,337.6L498.6,354.9L482,351ZM673.4,336.7L687.2,336.6L684.7,352.8L675.4,351ZM687.2,336.6L702.1,338.9L700.9,349.5L684.7,352.8ZM702.1,338.9L722.4,338.8L719.6,352.7L700.9,349.5ZM722.4,338.8L733.1,337.4L737.1,353.7L719.6,352.7ZM754.1,336L771.3,339.4L769.9,348.3L751.5,348.4ZM771.3,339.4L786,338.7L783.8,351.2L769.9,348.3ZM812.9,337.7L833.7,336.9L833.6,351.8L813.8,353.3ZM833.7,336.9L846.1,332.4L845,355.4L833.6,351.8ZM846.1,332.4L864.9,338.7L864.8,348.3L845,355.4ZM864.9,338.7L878.1,333.6L877.8,356.1L864.8,348.3ZM878.1,333.6L893.7,332.6L893.7,351.1L877.8,356.1ZM893.7,332.6L913.5,340L914.4,354.7L893.7,351.1ZM913.5,340L930.5,334.8L929.1,354L914.4,354.7ZM1138.6,336.3L1148.1,338.3L1155.3,355.5L1132.7,354.4ZM1148.1,338.3L1164,336L1163.8,355L1155.3,355.5ZM1164,336L1183.4,332.3L1184.5,354.7L1163.8,355ZM1183.4,332.3L1201.1,337.9L1200,353L1184.5,354.7ZM221.2,353.1L244.1,350.4L241.8,364.1L227.5,370.8ZM244.1,350.4L252.2,349.3L257.5,370.9L241.8,364.1ZM252.2,349.3L270.8,355.4L271.4,371.2L257.5,370.9ZM413.6,349.9L428,355.4L429.9,367.3L418.1,366.1ZM428,355.4L449.8,355.7L444,365.7L429.9,367.3ZM449.8,355.7L468,351.5L467.2,371.5L444,365.7ZM482,351L498.6,354.9L498.3,371.3L478.6,370.3ZM675.4,351L684.7,352.8L683.9,366L670.2,371.4ZM684.7,352.8L700.9,349.5L705.8,372.1L683.9,366ZM700.9,349.5L719.6,352.7L717.3,367.5L705.8,372.1ZM737.1,353.7L751.5,348.4L754.1,370.1L737.6,369.6ZM751.5,348.4L769.9,348.3L765.9,366L754.1,370.1ZM783.8,351.2L801.5,353.8L797.6,366L780,369.6ZM833.6,351.8L845,355.4L848.8,369.6L832.8,369.3ZM845,355.4L864.8,348.3L862.4,364.3L848.8,369.6ZM864.8,348.3L877.8,356.1L876.4,363.9L862.4,364.3ZM877.8,356.1L893.7,351.1L894.8,365L876.4,363.9ZM893.7,351.1L914.4,354.7L908.7,367.9L894.8,365ZM914.4,354.7L929.1,354L931.9,369.6L908.7,367.9ZM929.1,354L940.1,348.6L942.1,370.3L931.9,369.6ZM940.1,348.6L964,354.5L957.3,364.6L942.1,370.3ZM964,354.5L972.1,348.2L974.3,367.2L957.3,364.6ZM1053.1,348L1074.2,348.7L1075,370.5L1058.8,365.7ZM1117.2,352.1L1132.7,354.4L1137.3,368.7L1123.4,365.1ZM1132.7,354.4L1155.3,355.5L1153.4,365.3L1137.3,368.7ZM210,370.5L227.5,370.8L227.7,384.5L206.8,383.7ZM227.5,370.8L241.8,364.1L236.4,381.7L227.7,384.5ZM241.8,364.1L257.5,370.9L258.1,384.5L236.4,381.7ZM429.9,367.3L444,365.7L452.1,383.8L430.8,380.8ZM444,365.7L467.2,371.5L461.3,379.9L452.1,383.8ZM478.6,370.3L498.3,371.3L492,383.8L481.3,384.1ZM498.3,371.3L514.5,368.3L514,384.3L492,383.8ZM514.5,368.3L524.7,370.7L525.8,384L514,384.3ZM683.9,366L705.8,372.1L704.7,387.7L685.4,386.1ZM705.8,372.1L717.3,367.5L719.2,385.5L704.7,387.7ZM819.9,369.2L832.8,369.3L836.2,383.6L818.8,381.5ZM876.4,363.9L894.8,365L892,382.9L878.7,385.4ZM894.8,365L908.7,367.9L909.2,386.8L892,382.9ZM942.1,370.3L957.3,364.6L960.5,385.8L942,383.6ZM957.3,364.6L974.3,367.2L973,381.8L960.5,385.8ZM974.3,367.2L993.6,367.5L988.8,387.9L973,381.8ZM1099.9,365.4L1123.4,365.1L1123.8,382.1L1105.4,387ZM67.1,380.2L81.4,386.8L81.4,402.5L65,399.8ZM188.8,380.4L206.8,383.7L211.4,397.8L191.2,403.9ZM206.8,383.7L227.7,384.5L226,398.8L211.4,397.8ZM492,383.8L514,384.3L514.7,400.8L494.3,397.9ZM731.9,387.8L749.8,383.8L748.3,396.5L735.8,398ZM768.1,387.8L783.9,388.1L785,401.7L765.2,396.6ZM862.5,383.2L878.7,385.4L881.6,399L860.2,397.1ZM878.7,385.4L892,382.9L897.8,397.7L881.6,399ZM892,382.9L909.2,386.8L914.5,402.5L897.8,397.7ZM960.5,385.8L973,381.8L973.7,396.6L962.6,402.4ZM1072.7,383.6L1087.2,387.3L1084.1,401.9L1072.3,401.9ZM1105.4,387L1123.8,382.1L1121.2,401.6L1101.7,398.2ZM718.5,399.3L735.8,398L736.9,419.4L715.9,418.2ZM748.3,396.5L765.2,396.6L770.9,418.7L755.8,414.5ZM860.2,397.1L881.6,399L877.9,419.5L867.3,418.1ZM941.4,401.7L962.6,402.4L962.9,412.9L945.3,415ZM1054,399.4L1072.3,401.9L1068.2,419.1L1057.5,417.3ZM1101.7,398.2L1121.2,401.6L1122.4,419.1L1102.7,418.4ZM316.2,414.2L338.3,412.9L340.2,432.5L317,435.8ZM338.3,412.9L348.7,412.4L354.5,429.3L340.2,432.5ZM707,416.6L715.9,418.2L723.6,428.2L702.1,434.8ZM715.9,418.2L736.9,419.4L739.7,431.5L723.6,428.2ZM782,414.9L798.9,414.8L801.2,436.2L781,431.7ZM829.7,419.4L847.2,417.1L845.2,431.2L829.9,429.5ZM930.6,413.9L945.3,415L943.5,436L925.3,431.8ZM945.3,415L962.9,412.9L959.9,435.7L943.5,436ZM1088.4,415.6L1102.7,418.4L1104.6,427.9L1085.1,435.1ZM1102.7,418.4L1122.4,419.1L1122.9,433.9L1104.6,427.9ZM317,435.8L340.2,432.5L335,444.6L322.1,451ZM624.1,429.3L640.9,435.4L640.6,447.6L623.5,450.4ZM640.9,435.4L653.5,432.7L659.2,448.8L640.6,447.6ZM689.8,433.8L702.1,434.8L707.5,448.5L691.7,451ZM877.2,429.6L892.5,429.4L899.4,450.5L879,446.1ZM892.5,429.4L910.5,432L914.4,450.7L899.4,450.5ZM910.5,432L925.3,431.8L932.1,449.6L914.4,450.7ZM925.3,431.8L943.5,436L942.5,450.2L932.1,449.6ZM1025.7,435.9L1039.2,430.8L1037.1,450.2L1027.6,450.2ZM1073.6,431.1L1085.1,435.1L1091.6,444.5L1072.7,447.4ZM1085.1,435.1L1104.6,427.9L1106.3,444.7L1091.6,444.5ZM284.6,451.6L303.4,445.4L308,466.3L291.4,464.9ZM588.3,448.3L609.5,444.1L608.4,462.4L595.9,463ZM609.5,444.1L623.5,450.4L620,461.5L608.4,462.4ZM640.6,447.6L659.2,448.8L657.1,464.5L636.8,462.2ZM659.2,448.8L670.6,447.1L675.8,465.6L657.1,464.5ZM670.6,447.1L691.7,451L686.8,467.8L675.8,465.6ZM691.7,451L707.5,448.5L705.1,464.4L686.8,467.8ZM747.8,450.5L770.4,448.1L765.9,468L750.3,467.9ZM779.8,450.5L799.3,449.4L800.4,461.5L780.3,459.9ZM816.6,449.9L831.2,451.9L834.8,465.4L816.1,460.8ZM899.4,450.5L914.4,450.7L915.9,462.4L892.2,463.4ZM1027.6,450.2L1037.1,450.2L1040.1,462.5L1022,467.2ZM1056.6,451.4L1072.7,447.4L1073.7,460.4L1059.9,463.2ZM1072.7,447.4L1091.6,444.5L1090.8,468L1073.7,460.4ZM1091.6,444.5L1106.3,444.7L1100.7,466.1L1090.8,468ZM1106.3,444.7L1118.1,444.8L1118.1,461L1100.7,466.1ZM479.8,463.9L494,462.9L497.4,477.7L478.6,478ZM494,462.9L512.5,466.2L511.2,481.6L497.4,477.7ZM573,464.7L595.9,463L591.9,477.4L572.6,480ZM595.9,463L608.4,462.4L609.4,480L591.9,477.4ZM620,461.5L636.8,462.2L643.6,482.6L626.6,478.3ZM636.8,462.2L657.1,464.5L655.8,477L643.6,482.6ZM657.1,464.5L675.8,465.6L671.9,476.9L655.8,477ZM675.8,465.6L686.8,467.8L689.6,481.7L671.9,476.9ZM686.8,467.8L705.1,464.4L704.7,484L689.6,481.7ZM750.3,467.9L765.9,468L768.7,481.9L750.5,476.3ZM800.4,461.5L816.1,460.8L814.1,484L798.9,481.8ZM816.1,460.8L834.8,465.4L831.5,475.8L814.1,484ZM881.8,459.8L892.2,463.4L897.8,476.8L877.1,483.1ZM892.2,463.4L915.9,462.4L911,481.4L897.8,476.8ZM1022,467.2L1040.1,462.5L1037.5,480.2L1027.8,480.6ZM1073.7,460.4L1090.8,468L1088.7,477.7L1070.9,480.1ZM1100.7,466.1L1118.1,461L1120,479.3L1102.1,480ZM1118.1,461L1134.9,465.4L1137.4,477.4L1120,479.3ZM140.5,478.6L156.5,481.3L158.1,495.9L143.9,494.9ZM401.4,476.6L419.4,475.8L414.9,498.2L399,491.9ZM445.5,476.5L465.6,484.1L460,497.5L449,493.4ZM465.6,484.1L478.6,478L480.9,494.3L460,497.5ZM655.8,477L671.9,476.9L669.8,496.7L653.8,499ZM897.8,476.8L911,481.4L910.9,495.4L892.6,492.6ZM911,481.4L923.8,476.2L928.1,494.2L910.9,495.4ZM923.8,476.2L942.8,483.1L945.7,496.1L928.1,494.2ZM1027.8,480.6L1037.5,480.2L1041,496.5L1022.8,494.6ZM1037.5,480.2L1055.9,478.6L1054.2,492.5L1041,496.5ZM1120,479.3L1137.4,477.4L1134.6,495.3L1118.6,498.9ZM1137.4,477.4L1152.3,478.1L1155.8,494.8L1134.6,495.3ZM98.6,493.7L110.6,492.7L113,514.4L97.5,512.4ZM110.6,492.7L130.5,498L128.6,509.7L113,514.4ZM130.5,498L143.9,494.9L143.5,514.8L128.6,509.7ZM399,491.9L414.9,498.2L417,508.8L396.4,508.4ZM449,493.4L460,497.5L467.4,515.1L446.1,515.5ZM460,497.5L480.9,494.3L484.1,511.5L467.4,515.1ZM480.9,494.3L493.5,499L498.5,510.2L484.1,511.5ZM542.5,492.1L558.5,497.2L560.4,512.9L540.6,515.6ZM558.5,497.2L576.9,496.1L579,509L560.4,512.9ZM606.4,495.3L622.9,499.4L621.5,515.8L610.4,511.6ZM622.9,499.4L636.8,500.1L638.2,514.1L621.5,515.8ZM877.6,491.8L892.6,492.6L892.6,510.1L878.8,514.6ZM892.6,492.6L910.9,495.4L913.1,511.9L892.6,510.1ZM1022.8,494.6L1041,496.5L1043,514.4L1026.3,510.3ZM1041,496.5L1054.2,492.5L1057.5,514.6L1043,514.4ZM1054.2,492.5L1075.8,494.9L1071.5,513.5L1057.5,514.6ZM97.5,512.4L113,514.4L111.9,525.9L93.9,524.5ZM113,514.4L128.6,509.7L126.3,527.7L111.9,525.9ZM128.6,509.7L143.5,514.8L142.9,530.4L126.3,527.7ZM396.4,508.4L417,508.8L413.9,528.5L399.7,528.6ZM429.1,510.3L446.1,515.5L446.9,531.2L435.1,524.5ZM446.1,515.5L467.4,515.1L468,523.9L446.9,531.2ZM467.4,515.1L484.1,511.5L481.1,529.1L468,523.9ZM484.1,511.5L498.5,510.2L498.9,527.7L481.1,529.1ZM593.7,511.7L610.4,511.6L606.6,524.9L590.5,528.8ZM621.5,515.8L638.2,514.1L642.4,526.4L625.4,526.2ZM848.1,514.4L861.5,513.9L862.1,524.7L847.1,530.1ZM861.5,513.9L878.8,514.6L876.2,527.6L862.1,524.7ZM878.8,514.6L892.6,510.1L899.1,525.5L876.2,527.6ZM1009.1,508.9L1026.3,510.3L1022.3,528.7L1007.5,531.5ZM1026.3,510.3L1043,514.4L1041.8,524.3L1022.3,528.7ZM1043,514.4L1057.5,514.6L1059.6,524.7L1041.8,524.3ZM1057.5,514.6L1071.5,513.5L1070.3,529.8L1059.6,524.7ZM1071.5,513.5L1091.8,509.4L1084,527L1070.3,529.8ZM399.7,528.6L413.9,528.5L416.6,544.1L401.3,543.2ZM413.9,528.5L435.1,524.5L429.4,547.8L416.6,544.1ZM435.1,524.5L446.9,531.2L451.9,546.3L429.4,547.8ZM446.9,531.2L468,523.9L468.1,543.7L451.9,546.3ZM468,523.9L481.1,529.1L482.8,541.8L468.1,543.7ZM481.1,529.1L498.9,527.7L498,545.8L482.8,541.8ZM541.5,529.2L561.3,529.3L558.4,542.9L546.4,543.8ZM590.5,528.8L606.6,524.9L605.2,541.1L594.9,545.4ZM606.6,524.9L625.4,526.2L624.6,541.6L605.2,541.1ZM642.4,526.4L656.4,530.6L653.1,545.8L638.6,540.7ZM751.3,524.8L768.2,526.3L767,539.8L747.9,547ZM787.9,527L799.5,525.7L797.9,540L787.9,541.7ZM799.5,525.7L819.9,526.5L812.6,545.8L797.9,540ZM862.1,524.7L876.2,527.6L884.1,547.2L867.9,542.9ZM899.1,525.5L911.5,530.2L908,545.8L892.8,546.9ZM944.2,527.4L963.7,531.3L957.1,544.3L944.4,546.6ZM1007.5,531.5L1022.3,528.7L1025.1,544.8L1008.6,546.3ZM1022.3,528.7L1041.8,524.3L1043.5,546.6L1025.1,544.8ZM1115.9,525.1L1133.7,524.5L1139.7,546.3L1121.2,545.4ZM1133.7,524.5L1148.6,525.4L1151.5,543.7L1139.7,546.3ZM401.3,543.2L416.6,544.1L413.9,560.6L402.7,563.3ZM416.6,544.1L429.4,547.8L431,558.3L413.9,560.6ZM429.4,547.8L451.9,546.3L450.2,561L431,558.3ZM451.9,546.3L468.1,543.7L462.6,560.4L450.2,561ZM468.1,543.7L482.8,541.8L483.6,560.6L462.6,560.4ZM578.5,546.9L594.9,545.4L593.7,563.8L577.1,560.3ZM605.2,541.1L624.6,541.6L627.2,556.3L603.9,558.5ZM624.6,541.6L638.6,540.7L642.4,556.1L627.2,556.3ZM638.6,540.7L653.1,545.8L657.2,562.5L642.4,556.1ZM735.5,543L747.9,547L755.8,557.9L739.8,562.3ZM884.1,547.2L892.8,546.9L899.6,556.3L879.1,560.4ZM402.7,563.3L413.9,560.6L417.3,574.4L402,579.6ZM413.9,560.6L431,558.3L432.1,574.2L417.3,574.4ZM431,558.3L450.2,561L447.5,575.7L432.1,574.2ZM450.2,561L462.6,560.4L467.5,579.4L447.5,575.7ZM718.5,560.7L739.8,562.3L732.4,576.2L718.9,572.7ZM739.8,562.3L755.8,557.9L752.7,575.6L732.4,576.2ZM945.7,560.7L956.8,562.5L960.3,576.3L946.4,575.5ZM956.8,562.5L976.1,557L972.2,572.4L960.3,576.3ZM1005.6,563.7L1026.6,557.7L1026.7,574.3L1007,579.5ZM531.1,575.3L548.1,572L540,594.8L527.4,595.3ZM548.1,572L562.9,578.7L558.4,587.9L540,594.8ZM589.6,578.1L607.7,575.3L606.9,588.8L589.6,588.8ZM607.7,575.3L621.5,578.5L621.3,589.9L606.9,588.8ZM621.5,578.5L641.9,572.5L640.7,591.5L621.3,589.9ZM641.9,572.5L660,573.7L654.4,592.2L640.7,591.5ZM732.4,576.2L752.7,575.6L752.9,588.6L732.9,595.2ZM772.1,575.3L782.7,575.3L780.1,593.7L771.6,595.3ZM782.7,575.3L797.2,579.7L797.8,592.3L780.1,593.7ZM831.4,573.9L846.4,575.9L845.4,593.1L832,593.4ZM846.4,575.9L863.5,580L863.4,596.1L845.4,593.1ZM946.4,575.5L960.3,576.3L961,595L946.5,588.6ZM960.3,576.3L972.2,572.4L972.9,589.6L961,595ZM1007,579.5L1026.7,574.3L1023.1,595.8L1011.6,590.6ZM606.9,588.8L621.3,589.9L625.2,610.3L609.9,610.1ZM640.7,591.5L654.4,592.2L659.5,609.2L640.1,608.5ZM654.4,592.2L674.3,593.9L673.3,608.7L659.5,609.2ZM674.3,593.9L686.7,595.5L687.9,610.2L673.3,608.7ZM732.9,595.2L752.9,588.6L750.8,607.1L735.4,608.5ZM752.9,588.6L771.6,595.3L767.4,606.9L750.8,607.1ZM892.1,590.1L908.8,589.1L915.3,610.8L894.5,604.3ZM928.2,589.3L946.5,588.6L945.7,610.5L925.8,605.9ZM961,595L972.9,589.6L973.8,610.5L959.7,607.1ZM1059.3,589.5L1072.4,595.7L1068.4,610.6L1052.3,609.9ZM1072.4,595.7L1084.8,594.9L1089.4,607.8L1068.4,610.6ZM467.2,609.7L481.9,610.2L481.3,620.8L465.7,627.2ZM609.9,610.1L625.2,610.3L625.3,622.8L610.9,620.8ZM625.2,610.3L640.1,608.5L643.3,622.3L625.3,622.8ZM673.3,608.7L687.9,610.2L689.2,625.5L674.6,628ZM687.9,610.2L704.6,604.9L702.2,622.1L689.2,625.5ZM915.3,610.8L925.8,605.9L924,622.5L908.2,626.8ZM925.8,605.9L945.7,610.5L941,624.9L924,622.5ZM1039.7,605L1052.3,609.9L1052.9,621.2L1041.3,622.5ZM1052.3,609.9L1068.4,610.6L1071.2,620.9L1052.9,621.2ZM465.7,627.2L481.3,620.8L481.6,639.6L462.9,643.2ZM530.7,624.7L543.4,621.8L545.8,639.9L523.9,643.3ZM543.4,621.8L564,626.1L562.9,637.1L545.8,639.9ZM564,626.1L574.7,620.2L574.6,641.8L562.9,637.1ZM596,622L610.9,620.8L612.2,641.2L594.7,638.9ZM625.3,622.8L643.3,622.3L636.4,640.6L620.2,636.8ZM643.3,622.3L652.6,621.5L654.5,638L636.4,640.6ZM652.6,621.5L674.6,628L671.6,636.5L654.5,638ZM674.6,628L689.2,625.5L691.4,642.8L671.6,636.5ZM1009.6,626.5L1023.2,621.1L1027,642.7L1011,643.2ZM462.9,643.2L481.6,639.6L479.4,653.8L462.9,652ZM512.2,643.9L523.9,643.3L529.6,652.7L509.6,652.4ZM523.9,643.3L545.8,639.9L541.7,655.5L529.6,652.7ZM574.6,641.8L594.7,638.9L589.2,655.2L574.5,655.8ZM594.7,638.9L612.2,641.2L609.7,654.5L589.2,655.2ZM620.2,636.8L636.4,640.6L636.7,657.1L626.5,653.3ZM636.4,640.6L654.5,638L655.6,659.5L636.7,657.1ZM654.5,638L671.6,636.5L668.7,658.1L655.6,659.5ZM671.6,636.5L691.4,642.8L689.4,654.9L668.7,658.1ZM462.9,652L479.4,653.8L478.4,668.8L460.4,668.6ZM541.7,655.5L564.1,654.5L557.7,672.5L546.7,673ZM609.7,654.5L626.5,653.3L621.2,670L609.1,675.6ZM626.5,653.3L636.7,657.1L640.1,668.3L621.2,670ZM636.7,657.1L655.6,659.5L654.3,672.3L640.1,668.3ZM689.4,654.9L700.9,656.9L704.7,674.4L688.7,673.2ZM640.1,668.3L654.3,672.3L657.2,688.8L640.6,691.9ZM829.5,667.8L846,669.8L844.4,687.3L829.6,690.5ZM878.8,670.5L892,674.8L899.3,686.8L882.5,684.8ZM992,672.5L1004.8,670.5L1005.1,687.8L992.6,691.1ZM1004.8,670.5L1025,673.5L1023.7,684.7L1005.1,687.8ZM462.7,688L480.3,687.1L480.9,705L464.9,699.8ZM480.3,687.1L492.9,684L498.3,704.1L480.9,705ZM492.9,684L512.5,691.9L508.8,701.7L498.3,704.1ZM512.5,691.9L526.2,686.8L529.3,700.5L508.8,701.7ZM526.2,686.8L542.5,690L540.7,701.9L529.3,700.5ZM640.6,691.9L657.2,688.8L657.2,701.3L640.7,708.1ZM882.5,684.8L899.3,686.8L897.5,702.6L876,707ZM914.6,687.8L931.3,687.8L925.1,702.9L911.5,705.5ZM960,684.2L973.2,691.1L973.6,702L960.7,700.7ZM973.2,691.1L992.6,691.1L988.1,705.2L973.6,702ZM992.6,691.1L1005.1,687.8L1008.6,707.6L988.1,705.2ZM1005.1,687.8L1023.7,684.7L1024.5,707.5L1008.6,707.6ZM1023.7,684.7L1038,691.5L1039.7,704.1L1024.5,707.5ZM1038,691.5L1057.9,688.1L1054.2,703.7L1039.7,704.1ZM464.9,699.8L480.9,705L478.4,723L465.6,716.9ZM480.9,705L498.3,704.1L496.6,720.1L478.4,723ZM498.3,704.1L508.8,701.7L513.8,719.9L496.6,720.1ZM508.8,701.7L529.3,700.5L527,720.4L513.8,719.9ZM574.8,707.9L592.7,701.8L589.1,723L579.4,721.3ZM622.9,703.5L640.7,708.1L642,718L625.3,720.9ZM640.7,708.1L657.2,701.3L658.8,720.4L642,718ZM876,707L897.5,702.6L896,723.8L878.8,716.4ZM911.5,705.5L925.1,702.9L926.1,723.6L914.2,718.9ZM973.6,702L988.1,705.2L991.1,719.4L979.8,721.2ZM465.6,716.9L478.4,723L481.4,734.7L461.3,733.3ZM478.4,723L496.6,720.1L499.4,733.8L481.4,734.7ZM496.6,720.1L513.8,719.9L509.9,733.3L499.4,733.8ZM513.8,719.9L527,720.4L525,737.5L509.9,733.3ZM589.1,723L606.2,722.6L604.6,734.9L593.3,735.5ZM606.2,722.6L625.3,720.9L627.7,734.9L604.6,734.9ZM625.3,720.9L642,718L641.2,732.5L627.7,734.9ZM642,718L658.8,720.4L658.3,739.1L641.2,732.5ZM723.2,721.6L735.9,720.4L739.8,739.9L721.6,736.1ZM735.9,720.4L755.2,716.4L755.1,739.7L739.8,739.9ZM1027.1,723.3L1038.5,715.9L1036.1,732.5L1021.8,737.1ZM1038.5,715.9L1058.3,721.2L1057.7,736L1036.1,732.5ZM481.4,734.7L499.4,733.8L492.6,752.3L478.8,748.6ZM499.4,733.8L509.9,733.3L515.2,755.1L492.6,752.3ZM509.9,733.3L525,737.5L525.3,754.1L515.2,755.1ZM1006.4,738.5L1021.8,737.1L1022.1,753L1010.1,754.2ZM1010.1,754.2L1022.1,753L1026.1,770.5L1011.3,764.9ZM991.6,764.9L1011.3,764.9L1012,781L990.2,783.4ZM1011.3,764.9L1026.1,770.5L1024.8,780.5L1012,781ZM1012,781L1024.8,780.5L1023,801.8L1010.6,802ZM1024.8,780.5L1044,786.1L1037.5,801L1023,801.8ZM1069.3,781.8L1084.1,784.4L1090,796L1069.3,798.8ZM1084.1,784.4L1100.5,781.4L1107.2,796.6L1090,796ZM1023,801.8L1037.5,801L1040.8,820L1027.9,816.7Z"/>
<path fill="#6baed6" stroke="#6baed6" stroke-width="0.6" d="M176.7,99.2L188.7,100.1L194.2,109.5L172.6,108.6ZM188.7,100.1L209.1,95.1L206.5,111.4L194.2,109.5ZM209.1,95.1L226.5,94L220,110L206.5,111.4ZM226.5,94L244.1,96.6L238.2,113.8L220,110ZM194.2,109.5L206.5,111.4L205.6,129.5L191.2,131.8ZM206.5,111.4L220,110L223.1,130.2L205.6,129.5ZM191.2,131.8L205.6,129.5L209,145.1L195.4,144.9ZM205.6,129.5L223.1,130.2L225.6,144.8L209,145.1ZM735.1,175.3L754.9,176.2L750.8,192.8L737.6,191.1ZM754.9,176.2L767.1,179.7L766.7,195.8L750.8,192.8ZM110.3,194.3L125.1,188.4L125.9,204.2L111.5,209ZM125.1,188.4L147.1,191.5L147.6,211L125.9,204.2ZM147.1,191.5L156.3,191.1L158.4,211.4L147.6,211ZM651.9,188.2L672.5,192L672.9,205.6L654.9,205.9ZM672.5,192L691.5,194.3L691.1,204.8L672.9,205.6ZM737.6,191.1L750.8,192.8L752.6,206.4L735,209.3ZM796.6,190.9L815.2,192.5L812.7,208.5L798.5,209.4ZM815.2,192.5L832.6,195.2L830.8,208L812.7,208.5ZM832.6,195.2L851.9,191.9L846.3,204.4L830.8,208ZM111.5,209L125.9,204.2L131.6,220.9L111.4,224.1ZM125.9,204.2L147.6,211L146.2,220.2L131.6,220.9ZM147.6,211L158.4,211.4L161.7,226.6L146.2,220.2ZM158.4,211.4L178.7,206.4L174,224.4L161.7,226.6ZM178.7,206.4L192.9,211.9L195.9,225.2L174,224.4ZM735,209.3L752.6,206.4L754.9,222.3L732,226.3ZM798.5,209.4L812.7,208.5L818.8,226L797.2,226.4ZM812.7,208.5L830.8,208L830.5,221.4L818.8,226ZM830.8,208L846.3,204.4L850.7,222.5L830.5,221.4ZM111.4,224.1L131.6,220.9L128.5,239.1L111.3,240.3ZM131.6,220.9L146.2,220.2L140.8,237.3L128.5,239.1ZM146.2,220.2L161.7,226.6L163.3,240.4L140.8,237.3ZM161.7,226.6L174,224.4L172.7,243L163.3,240.4ZM174,224.4L195.9,225.2L189.9,236.6L172.7,243ZM689.1,227.7L705.3,221.9L705.5,237.9L684.7,243.6ZM705.3,221.9L717.9,221L717.4,239.6L705.5,237.9ZM717.9,221L732,226.3L738.8,240.7L717.4,239.6ZM732,226.3L754.9,222.3L748.8,236L738.8,240.7ZM765.4,225.2L786.9,227.6L781.4,240.5L764.7,242.5ZM786.9,227.6L797.2,226.4L798.2,241.6L781.4,240.5ZM797.2,226.4L818.8,226L815,237L798.2,241.6ZM818.8,226L830.5,221.4L835.2,240.3L815,237ZM850.7,222.5L862.9,224.4L867.8,235.9L849.6,242.6ZM893.8,220.1L912.6,225.1L914.5,236.1L896,243.1ZM912.6,225.1L930.7,225.7L925.3,242.7L914.5,236.1ZM930.7,225.7L947.4,227.7L945.5,239.1L925.3,242.7ZM1090.9,227L1106.4,223.4L1099.9,240.7L1087.1,238.8ZM1106.4,223.4L1118.2,225.4L1118.6,236L1099.9,240.7ZM1118.2,225.4L1136.1,223.3L1135.7,244.1L1118.6,236ZM1150.6,223.5L1169.4,226.7L1169.4,238.1L1148.2,237ZM140.8,237.3L163.3,240.4L160.6,254.3L143.6,255.5ZM163.3,240.4L172.7,243L173.2,252.4L160.6,254.3ZM172.7,243L189.9,236.6L190.3,254.4L173.2,252.4ZM717.4,239.6L738.8,240.7L734.6,252.6L721,257.9ZM748.8,236L764.7,242.5L770.2,252.6L749.1,253ZM764.7,242.5L781.4,240.5L786.6,255.4L770.2,252.6ZM798.2,241.6L815,237L816.5,257.3L800.3,256.7ZM849.6,242.6L867.8,235.9L865.8,258.2L850,254ZM925.3,242.7L945.5,239.1L940.9,251.9L928.2,259.7ZM1071.7,240.6L1087.1,238.8L1085.1,253.3L1075.7,254.9ZM1087.1,238.8L1099.9,240.7L1106,259.5L1085.1,253.3ZM1118.6,236L1135.7,244.1L1138.3,253.8L1117.2,252ZM173.2,252.4L190.3,254.4L190.8,274.4L173.6,275.2ZM558.5,258.1L577.3,255.2L579.5,270.7L558.8,272ZM577.3,255.2L593.5,254.6L589.6,275.9L579.5,270.7ZM770.2,252.6L786.6,255.4L783.3,276L767.2,270.5ZM816.5,257.3L832.9,254.6L836.2,267.8L815.2,269ZM832.9,254.6L850,254L848.9,275.6L836.2,267.8ZM850,254L865.8,258.2L861.9,272.9L848.9,275.6ZM865.8,258.2L882.3,254.4L879,269.8L861.9,272.9ZM911.6,254.1L928.2,259.7L931.4,268.2L914.9,274.4ZM928.2,259.7L940.9,251.9L945.6,270.5L931.4,268.2ZM1056.5,253.3L1075.7,254.9L1073.8,271.1L1058,271ZM1075.7,254.9L1085.1,253.3L1088.2,272.9L1073.8,271.1ZM1085.1,253.3L1106,259.5L1105.5,270.5L1088.2,272.9ZM558.8,272L579.5,270.7L575.8,291.3L562.9,287.3ZM579.5,270.7L589.6,275.9L591.5,287.9L575.8,291.3ZM815.2,269L836.2,267.8L835.1,285L820.2,290.7ZM893.5,268.8L914.9,274.4L915,288.5L894.4,285.9ZM914.9,274.4L931.4,268.2L928.1,287.3L915,288.5ZM931.4,268.2L945.6,270.5L940.2,286.4L928.1,287.3ZM1073.8,271.1L1088.2,272.9L1084.2,286.4L1075.5,288.5ZM1088.2,272.9L1105.5,270.5L1104.3,287.2L1084.2,286.4ZM81.6,287.6L95.8,290.5L92.3,305.6L81.6,301.1ZM95.8,290.5L114.2,285.1L108.2,306.8L92.3,305.6ZM114.2,285.1L129.5,286.9L126.3,301.8L108.2,306.8ZM129.5,286.9L144.2,285.8L144.7,302.5L126.3,301.8ZM144.2,285.8L158.9,286.7L160.5,301.1L144.7,302.5ZM562.9,287.3L575.8,291.3L573.9,306L558.6,303.6ZM684.8,285.7L700.4,290.7L700.9,304.7L684.6,305.2ZM894.4,285.9L915,288.5L909.5,300.9L893.5,303.2ZM915,288.5L928.1,287.3L925.8,307.1L909.5,300.9ZM963.1,290.5L979,286L975.9,306.4L955.9,307.7ZM1023.7,287.9L1040.7,286.9L1036.1,303.1L1021.1,302ZM1075.5,288.5L1084.2,286.4L1088.7,301.8L1075.3,300.5ZM1104.3,287.2L1120.5,286.5L1121.8,300.3L1104.8,306.4ZM62,307.4L81.6,301.1L76.6,321.8L66.9,322.4ZM81.6,301.1L92.3,305.6L94.7,317.2L76.6,321.8ZM92.3,305.6L108.2,306.8L115.9,321.5L94.7,317.2ZM108.2,306.8L126.3,301.8L130.1,316.9L115.9,321.5ZM126.3,301.8L144.7,302.5L146.8,323.7L130.1,316.9ZM144.7,302.5L160.5,301.1L163.4,322.1L146.8,323.7ZM160.5,301.1L179.5,302.5L178.8,322.5L163.4,322.1ZM589.3,306.4L606.3,300.4L609.7,319.5L588.5,318.1ZM925.8,307.1L944,307.3L943.5,323.8L924.4,321ZM944,307.3L955.9,307.7L958.8,321.4L943.5,323.8ZM955.9,307.7L975.9,306.4L977.1,319L958.8,321.4ZM1005.7,306.1L1021.1,302L1022.9,324L1011.4,320ZM1021.1,302L1036.1,303.1L1036.3,322.8L1022.9,324ZM1156.1,300.1L1169,305.6L1168.6,316.2L1149,320.7ZM66.9,322.4L76.6,321.8L83.9,339.9L62.3,335ZM76.6,321.8L94.7,317.2L93.4,334.4L83.9,339.9ZM94.7,317.2L115.9,321.5L115.7,333.5L93.4,334.4ZM115.9,321.5L130.1,316.9L126.5,335.5L115.7,333.5ZM130.1,316.9L146.8,323.7L140.7,334L126.5,335.5ZM146.8,323.7L163.4,322.1L159.1,335L140.7,334ZM163.4,322.1L178.8,322.5L179.9,334L159.1,335ZM924.4,321L943.5,323.8L945.7,332.4L930.5,334.8ZM943.5,323.8L958.8,321.4L962.8,334.5L945.7,332.4ZM958.8,321.4L977.1,319L971.8,337.1L962.8,334.5ZM1011.4,320L1022.9,324L1024.5,338.6L1004.3,335.5ZM1022.9,324L1036.3,322.8L1036.1,338.8L1024.5,338.6ZM1057.5,320.5L1071.6,322.1L1073.1,334.7L1052.7,333.7ZM1149,320.7L1168.6,316.2L1164,336L1148.1,338.3ZM1168.6,316.2L1183.1,322.1L1183.4,332.3L1164,336ZM1183.1,322.1L1201.2,318.2L1201.1,337.9L1183.4,332.3ZM62.3,335L83.9,339.9L77.5,350L61.5,353.7ZM83.9,339.9L93.4,334.4L96.5,353.7L77.5,350ZM93.4,334.4L115.7,333.5L116,354.1L96.5,353.7ZM115.7,333.5L126.5,335.5L131.8,355.5L116,354.1ZM126.5,335.5L140.7,334L145.9,353.8L131.8,355.5ZM140.7,334L159.1,335L156.3,349.5L145.9,353.8ZM159.1,335L179.9,334L171.9,355.1L156.3,349.5ZM930.5,334.8L945.7,332.4L940.1,348.6L929.1,354ZM945.7,332.4L962.8,334.5L964,354.5L940.1,348.6ZM962.8,334.5L971.8,337.1L972.1,348.2L964,354.5ZM971.8,337.1L989,334.1L989.8,355.6L972.1,348.2ZM1024.5,338.6L1036.1,338.8L1043.5,350L1027.6,353.2ZM1086.6,336.6L1101.6,338.5L1101.4,354.6L1092,353.8ZM1101.6,338.5L1117.6,338.9L1117.2,352.1L1101.4,354.6ZM1117.6,338.9L1138.6,336.3L1132.7,354.4L1117.2,352.1ZM61.5,353.7L77.5,350L82.2,365L62.9,366.3ZM77.5,350L96.5,353.7L96.9,372L82.2,365ZM96.5,353.7L116,354.1L114.3,363.9L96.9,372ZM116,354.1L131.8,355.5L124.4,364.8L114.3,363.9ZM131.8,355.5L145.9,353.8L145.6,368.8L124.4,364.8ZM145.9,353.8L156.3,349.5L160.2,367.6L145.6,368.8ZM156.3,349.5L171.9,355.1L175.2,368.9L160.2,367.6ZM801.5,353.8L813.8,353.3L819.9,369.2L797.6,366ZM813.8,353.3L833.6,351.8L832.8,369.3L819.9,369.2ZM972.1,348.2L989.8,355.6L993.6,367.5L974.3,367.2ZM989.8,355.6L1005.6,353.4L1009.9,364.6L993.6,367.5ZM1074.2,348.7L1092,353.8L1089.4,366.1L1075,370.5ZM1092,353.8L1101.4,354.6L1099.9,365.4L1089.4,366.1ZM1101.4,354.6L1117.2,352.1L1123.4,365.1L1099.9,365.4ZM62.9,366.3L82.2,365L81.4,386.8L67.1,380.2ZM780,369.6L797.6,366L801,381.6L783.9,388.1ZM797.6,366L819.9,369.2L818.8,381.5L801,381.6ZM832.8,369.3L848.8,369.6L845.7,387.9L836.2,383.6ZM848.8,369.6L862.4,364.3L862.5,383.2L845.7,387.9ZM862.4,364.3L876.4,363.9L878.7,385.4L862.5,383.2ZM993.6,367.5L1009.9,364.6L1005.1,381L988.8,387.9ZM1009.9,364.6L1027.6,366.7L1024.2,384.7L1005.1,381ZM1075,370.5L1089.4,366.1L1087.2,387.3L1072.7,383.6ZM1089.4,366.1L1099.9,365.4L1105.4,387L1087.2,387.3ZM1123.4,365.1L1137.3,368.7L1139.7,383.2L1123.8,382.1ZM1137.3,368.7L1153.4,365.3L1148.2,387.5L1139.7,383.2ZM1153.4,365.3L1165,364.6L1164.7,379.9L1148.2,387.5ZM749.8,383.8L768.1,387.8L765.2,396.6L748.3,396.5ZM783.9,388.1L801,381.6L798,402.5L785,401.7ZM801,381.6L818.8,381.5L817.9,398.7L798,402.5ZM818.8,381.5L836.2,383.6L831.9,397.4L817.9,398.7ZM836.2,383.6L845.7,387.9L851.6,400.5L831.9,397.4ZM845.7,387.9L862.5,383.2L860.2,397.1L851.6,400.5ZM973,381.8L988.8,387.9L993.4,400.5L973.7,396.6ZM1005.1,381L1024.2,384.7L1024.7,396.7L1005,397.4ZM1024.2,384.7L1043.2,380.3L1041.1,397.8L1024.7,396.7ZM1053.8,381.2L1072.7,383.6L1072.3,401.9L1054,399.4ZM1087.2,387.3L1105.4,387L1101.7,398.2L1084.1,401.9ZM1123.8,382.1L1139.7,383.2L1137,403.4L1121.2,401.6ZM691.9,397L702.6,400.2L707,416.6L687.3,418.7ZM735.8,398L748.3,396.5L755.8,414.5L736.9,419.4ZM765.2,396.6L785,401.7L782,414.9L770.9,418.7ZM785,401.7L798,402.5L798.9,414.8L782,414.9ZM798,402.5L817.9,398.7L815,412.7L798.9,414.8ZM817.9,398.7L831.9,397.4L829.7,419.4L815,412.7ZM831.9,397.4L851.6,400.5L847.2,417.1L829.7,419.4ZM851.6,400.5L860.2,397.1L867.3,418.1L847.2,417.1ZM897.8,397.7L914.5,402.5L913.9,418.1L898.6,420.1ZM962.6,402.4L973.7,396.6L976.3,414.6L962.9,412.9ZM973.7,396.6L993.4,400.5L994.7,414.7L976.3,414.6ZM1005,397.4L1024.7,396.7L1027.2,413L1010.9,418.9ZM1024.7,396.7L1041.1,397.8L1043.7,418.1L1027.2,413ZM1041.1,397.8L1054,399.4L1057.5,417.3L1043.7,418.1ZM1121.2,401.6L1137,403.4L1133.6,414.7L1122.4,419.1ZM1137,403.4L1149.5,398.4L1149.9,412.6L1133.6,414.7ZM175.6,417.1L190.1,412.1L194.5,429.6L173.7,434.1ZM687.3,418.7L707,416.6L702.1,434.8L689.8,433.8ZM755.8,414.5L770.9,418.7L770.5,433.5L748.5,428.4ZM770.9,418.7L782,414.9L781,431.7L770.5,433.5ZM798.9,414.8L815,412.7L814.6,434.2L801.2,436.2ZM815,412.7L829.7,419.4L829.9,429.5L814.6,434.2ZM867.3,418.1L877.9,419.5L877.2,429.6L865,430.3ZM962.9,412.9L976.3,414.6L975.8,429.5L959.9,435.7ZM976.3,414.6L994.7,414.7L992.8,429L975.8,429.5ZM994.7,414.7L1010.9,418.9L1005.2,428.4L992.8,429ZM1010.9,418.9L1027.2,413L1025.7,435.9L1005.2,428.4ZM1027.2,413L1043.7,418.1L1039.2,430.8L1025.7,435.9ZM1043.7,418.1L1057.5,417.3L1055.4,430.8L1039.2,430.8ZM127.4,428.6L144.2,434.7L142.6,450.7L128.3,446.1ZM144.2,434.7L162.4,430.8L157.1,449.6L142.6,450.7ZM162.4,430.8L173.7,434.1L172,445.4L157.1,449.6ZM173.7,434.1L194.5,429.6L188.3,450.6L172,445.4ZM593.8,434.1L605.8,429.9L609.5,444.1L588.3,448.3ZM702.1,434.8L723.6,428.2L717,445.3L707.5,448.5ZM723.6,428.2L739.7,431.5L735,449.6L717,445.3ZM748.5,428.4L770.5,433.5L770.4,448.1L747.8,450.5ZM770.5,433.5L781,431.7L779.8,450.5L770.4,448.1ZM781,431.7L801.2,436.2L799.3,449.4L779.8,450.5ZM801.2,436.2L814.6,434.2L816.6,449.9L799.3,449.4ZM814.6,434.2L829.9,429.5L831.2,451.9L816.6,449.9ZM829.9,429.5L845.2,431.2L851.8,451.6L831.2,451.9ZM845.2,431.2L865,430.3L865,446.5L851.8,451.6ZM865,430.3L877.2,429.6L879,446.1L865,446.5ZM943.5,436L959.9,435.7L958,448.9L942.5,450.2ZM975.8,429.5L992.8,429L991.9,446.1L973.1,451ZM1104.6,427.9L1122.9,433.9L1118.1,444.8L1106.3,444.7ZM1122.9,433.9L1134.8,433.1L1139.1,447.5L1118.1,444.8ZM1134.8,433.1L1155.5,431.2L1153.9,446L1139.1,447.5ZM94.9,447.1L110.8,451.5L115.3,460.1L92.5,467ZM110.8,451.5L128.3,446.1L127.7,463.7L115.3,460.1ZM128.3,446.1L142.6,450.7L145.8,465.9L127.7,463.7ZM142.6,450.7L157.1,449.6L158.7,467.6L145.8,465.9ZM157.1,449.6L172,445.4L173.4,460.9L158.7,467.6ZM172,445.4L188.3,450.6L194.6,460.8L173.4,460.9ZM707.5,448.5L717,445.3L723,465.4L705.1,464.4ZM717,445.3L735,449.6L734.8,464.9L723,465.4ZM735,449.6L747.8,450.5L750.3,467.9L734.8,464.9ZM770.4,448.1L779.8,450.5L780.3,459.9L765.9,468ZM799.3,449.4L816.6,449.9L816.1,460.8L800.4,461.5ZM831.2,451.9L851.8,451.6L849.5,467.6L834.8,465.4ZM851.8,451.6L865,446.5L868.1,465.5L849.5,467.6ZM879,446.1L899.4,450.5L892.2,463.4L881.8,459.8ZM942.5,450.2L958,448.9L960.8,466.7L943.3,467.4ZM958,448.9L973.1,451L971.9,461.5L960.8,466.7ZM991.9,446.1L1011.6,444.5L1004.7,467.6L989.3,466.8ZM1011.6,444.5L1027.6,450.2L1022,467.2L1004.7,467.6ZM1118.1,444.8L1139.1,447.5L1134.9,465.4L1118.1,461ZM92.5,467L115.3,460.1L115.6,480.9L95.6,480ZM115.3,460.1L127.7,463.7L125.3,476.4L115.6,480.9ZM127.7,463.7L145.8,465.9L140.5,478.6L125.3,476.4ZM145.8,465.9L158.7,467.6L156.5,481.3L140.5,478.6ZM158.7,467.6L173.4,460.9L175.4,478.4L156.5,481.3ZM173.4,460.9L194.6,460.8L192.1,483.7L175.4,478.4ZM194.6,460.8L205.4,464L205.9,477.1L192.1,483.7ZM608.4,462.4L620,461.5L626.6,478.3L609.4,480ZM705.1,464.4L723,465.4L716.2,481.8L704.7,484ZM723,465.4L734.8,464.9L738.5,476.7L716.2,481.8ZM734.8,464.9L750.3,467.9L750.5,476.3L738.5,476.7ZM765.9,468L780.3,459.9L782.7,481.6L768.7,481.9ZM780.3,459.9L800.4,461.5L798.9,481.8L782.7,481.6ZM849.5,467.6L868.1,465.5L867.1,481.1L844.6,481.9ZM1004.7,467.6L1022,467.2L1027.8,480.6L1011.9,481.2ZM1059.9,463.2L1073.7,460.4L1070.9,480.1L1055.9,478.6ZM1090.8,468L1100.7,466.1L1102.1,480L1088.7,477.7ZM95.6,480L115.6,480.9L110.6,492.7L98.6,493.7ZM115.6,480.9L125.3,476.4L130.5,498L110.6,492.7ZM125.3,476.4L140.5,478.6L143.9,494.9L130.5,498ZM156.5,481.3L175.4,478.4L177.8,499.3L158.1,495.9ZM175.4,478.4L192.1,483.7L194.9,499.1L177.8,499.3ZM192.1,483.7L205.9,477.1L207.5,495.3L194.9,499.1ZM609.4,480L626.6,478.3L622.9,499.4L606.4,495.3ZM626.6,478.3L643.6,482.6L636.8,500.1L622.9,499.4ZM643.6,482.6L655.8,477L653.8,499L636.8,500.1ZM671.9,476.9L689.6,481.7L687,492.1L669.8,496.7ZM689.6,481.7L704.7,484L706.5,498.6L687,492.1ZM704.7,484L716.2,481.8L718.1,498.3L706.5,498.6ZM738.5,476.7L750.5,476.3L748.3,495L735.8,500.1ZM750.5,476.3L768.7,481.9L765.7,497L748.3,495ZM768.7,481.9L782.7,481.6L786.3,498.9L765.7,497ZM798.9,481.8L814.1,484L818.5,492.7L800.4,495.1ZM814.1,484L831.5,475.8L830,498.1L818.5,492.7ZM844.6,481.9L867.1,481.1L860.6,495.7L847.5,500.1ZM867.1,481.1L877.1,483.1L877.6,491.8L860.6,495.7ZM877.1,483.1L897.8,476.8L892.6,492.6L877.6,491.8ZM1055.9,478.6L1070.9,480.1L1075.8,494.9L1054.2,492.5ZM1070.9,480.1L1088.7,477.7L1084.8,497.3L1075.8,494.9ZM1088.7,477.7L1102.1,480L1104.3,494.6L1084.8,497.3ZM1102.1,480L1120,479.3L1118.6,498.9L1104.3,494.6ZM143.9,494.9L158.1,495.9L160.6,514.1L143.5,514.8ZM158.1,495.9L177.8,499.3L174.9,511.6L160.6,514.1ZM177.8,499.3L194.9,499.1L195.9,514.7L174.9,511.6ZM194.9,499.1L207.5,495.3L209.3,508.7L195.9,514.7ZM207.5,495.3L222.4,500L224.9,508.1L209.3,508.7ZM636.8,500.1L653.8,499L658.8,509.9L638.2,514.1ZM653.8,499L669.8,496.7L673.6,511.1L658.8,509.9ZM669.8,496.7L687,492.1L685.7,509.6L673.6,511.1ZM706.5,498.6L718.1,498.3L720.1,512L707.8,510.9ZM718.1,498.3L735.8,500.1L732,514.1L720.1,512ZM735.8,500.1L748.3,495L754.1,515.2L732,514.1ZM800.4,495.1L818.5,492.7L816.2,509.1L801.3,511.2ZM818.5,492.7L830,498.1L835.5,511.8L816.2,509.1ZM847.5,500.1L860.6,495.7L861.5,513.9L848.1,514.4ZM860.6,495.7L877.6,491.8L878.8,514.6L861.5,513.9ZM910.9,495.4L928.1,494.2L927,512.7L913.1,511.9ZM928.1,494.2L945.7,496.1L941.6,511.5L927,512.7ZM964,493.2L976.1,495.9L973.9,514.8L955.8,514.5ZM990.9,499L1005.6,499.2L1009.1,508.9L992.4,512.9ZM1005.6,499.2L1022.8,494.6L1026.3,510.3L1009.1,508.9ZM1104.3,494.6L1118.6,498.9L1120.1,509.1L1100.6,511.3ZM1118.6,498.9L1134.6,495.3L1133.7,515.1L1120.1,509.1ZM1134.6,495.3L1155.8,494.8L1151.1,509.1L1133.7,515.1ZM143.5,514.8L160.6,514.1L161.9,524.8L142.9,530.4ZM160.6,514.1L174.9,511.6L173.7,523.9L161.9,524.8ZM174.9,511.6L195.9,514.7L190.6,524.7L173.7,523.9ZM195.9,514.7L209.3,508.7L209.7,530.4L190.6,524.7ZM209.3,508.7L224.9,508.1L228.2,525.6L209.7,530.4ZM638.2,514.1L658.8,509.9L656.4,530.6L642.4,526.4ZM658.8,509.9L673.6,511.1L668.8,529.9L656.4,530.6ZM673.6,511.1L685.7,509.6L684.4,531.7L668.8,529.9ZM685.7,509.6L707.8,510.9L700,529.9L684.4,531.7ZM707.8,510.9L720.1,512L718.9,525.3L700,529.9ZM720.1,512L732,514.1L735.1,528L718.9,525.3ZM732,514.1L754.1,515.2L751.3,524.8L735.1,528ZM801.3,511.2L816.2,509.1L819.9,526.5L799.5,525.7ZM835.5,511.8L848.1,514.4L847.1,530.1L833.2,530.8ZM892.6,510.1L913.1,511.9L911.5,530.2L899.1,525.5ZM913.1,511.9L927,512.7L926.1,525.1L911.5,530.2ZM927,512.7L941.6,511.5L944.2,527.4L926.1,525.1ZM941.6,511.5L955.8,514.5L963.7,531.3L944.2,527.4ZM955.8,514.5L973.9,514.8L973.8,528.5L963.7,531.3ZM973.9,514.8L992.4,512.9L991.3,524.1L973.8,528.5ZM992.4,512.9L1009.1,508.9L1007.5,531.5L991.3,524.1ZM1091.8,509.4L1100.6,511.3L1100.9,527.8L1084,527ZM1100.6,511.3L1120.1,509.1L1115.9,525.1L1100.9,527.8ZM1120.1,509.1L1133.7,515.1L1133.7,524.5L1115.9,525.1ZM1133.7,515.1L1151.1,509.1L1148.6,525.4L1133.7,524.5ZM126.3,527.7L142.9,530.4L148.1,547.7L132,547.3ZM142.9,530.4L161.9,524.8L158,546.6L148.1,547.7ZM161.9,524.8L173.7,523.9L176.9,541.5L158,546.6ZM173.7,523.9L190.6,524.7L196.2,545.2L176.9,541.5ZM190.6,524.7L209.7,530.4L210.6,544.5L196.2,545.2ZM209.7,530.4L228.2,525.6L220.5,547.1L210.6,544.5ZM561.3,529.3L572,527.5L578.5,546.9L558.4,542.9ZM572,527.5L590.5,528.8L594.9,545.4L578.5,546.9ZM656.4,530.6L668.8,529.9L669.7,546.9L653.1,545.8ZM668.8,529.9L684.4,531.7L686.6,546.9L669.7,546.9ZM684.4,531.7L700,529.9L702.3,542L686.6,546.9ZM700,529.9L718.9,525.3L719.1,539.9L702.3,542ZM768.2,526.3L787.9,527L787.9,541.7L767,539.8ZM833.2,530.8L847.1,530.1L845.9,542.2L832.7,544ZM911.5,530.2L926.1,525.1L930.6,545.6L908,545.8ZM926.1,525.1L944.2,527.4L944.4,546.6L930.6,545.6ZM963.7,531.3L973.8,528.5L974,543.2L957.1,544.3ZM973.8,528.5L991.3,524.1L989.4,545.7L974,543.2ZM991.3,524.1L1007.5,531.5L1008.6,546.3L989.4,545.7ZM1041.8,524.3L1059.6,524.7L1056.6,542.5L1043.5,546.6ZM1059.6,524.7L1070.3,529.8L1075.6,542.9L1056.6,542.5ZM1070.3,529.8L1084,527L1084.7,542.6L1075.6,542.9ZM1084,527L1100.9,527.8L1105.7,547.6L1084.7,542.6ZM1100.9,527.8L1115.9,525.1L1121.2,545.4L1105.7,547.6ZM148.1,547.7L158,546.6L159.4,562.8L140.6,556.3ZM158,546.6L176.9,541.5L177.7,563.9L159.4,562.8ZM176.9,541.5L196.2,545.2L194.8,560.7L177.7,563.9ZM196.2,545.2L210.6,544.5L208.7,555.9L194.8,560.7ZM210.6,544.5L220.5,547.1L223,558L208.7,555.9ZM558.4,542.9L578.5,546.9L577.1,560.3L561,559.8ZM594.9,545.4L605.2,541.1L603.9,558.5L593.7,563.8ZM653.1,545.8L669.7,546.9L669.8,559L657.2,562.5ZM686.6,546.9L702.3,542L704.2,560.9L685.7,561.7ZM702.3,542L719.1,539.9L718.5,560.7L704.2,560.9ZM747.9,547L767,539.8L768.1,559L755.8,557.9ZM767,539.8L787.9,541.7L782.7,562.5L768.1,559ZM797.9,540L812.6,545.8L818.3,563.7L797.3,560.5ZM812.6,545.8L832.7,544L828,558.1L818.3,563.7ZM832.7,544L845.9,542.2L847.9,563.7L828,558.1ZM867.9,542.9L884.1,547.2L879.1,560.4L861.2,562.9ZM892.8,546.9L908,545.8L910.6,557.1L899.6,556.3ZM908,545.8L930.6,545.6L924.9,558.4L910.6,557.1ZM930.6,545.6L944.4,546.6L945.7,560.7L924.9,558.4ZM944.4,546.6L957.1,544.3L956.8,562.5L945.7,560.7ZM957.1,544.3L974,543.2L976.1,557L956.8,562.5ZM974,543.2L989.4,545.7L994.7,562.7L976.1,557ZM989.4,545.7L1008.6,546.3L1005.6,563.7L994.7,562.7ZM1025.1,544.8L1043.5,546.6L1035.8,563.1L1026.6,557.7ZM1075.6,542.9L1084.7,542.6L1089.1,562.8L1074.2,562.3ZM1084.7,542.6L1105.7,547.6L1108.1,558.6L1089.1,562.8ZM1105.7,547.6L1121.2,545.4L1122.8,563.5L1108.1,558.6ZM159.4,562.8L177.7,563.9L178,573.6L158.3,574.2ZM177.7,563.9L194.8,560.7L190.5,574.2L178,573.6ZM194.8,560.7L208.7,555.9L211.1,577.2L190.5,574.2ZM284.7,561.9L306.5,560.8L304,578.3L286,572.7ZM306.5,560.8L316.8,560.8L317.1,575.4L304,578.3ZM316.8,560.8L339.1,564.1L340.1,575.8L317.1,575.4ZM561,559.8L577.1,560.3L574.9,578.8L562.9,578.7ZM603.9,558.5L627.2,556.3L621.5,578.5L607.7,575.3ZM627.2,556.3L642.4,556.1L641.9,572.5L621.5,578.5ZM669.8,559L685.7,561.7L688.6,579.3L671,575.3ZM782.7,562.5L797.3,560.5L797.2,579.7L782.7,575.3ZM797.3,560.5L818.3,563.7L816.8,576.4L797.2,579.7ZM818.3,563.7L828,558.1L831.4,573.9L816.8,576.4ZM828,558.1L847.9,563.7L846.4,575.9L831.4,573.9ZM847.9,563.7L861.2,562.9L863.5,580L846.4,575.9ZM861.2,562.9L879.1,560.4L880.5,573.5L863.5,580ZM879.1,560.4L899.6,556.3L892.3,573.1L880.5,573.5ZM899.6,556.3L910.6,557.1L910.7,578.4L892.3,573.1ZM910.6,557.1L924.9,558.4L931.3,573.8L910.7,578.4ZM924.9,558.4L945.7,560.7L946.4,575.5L931.3,573.8ZM976.1,557L994.7,562.7L993.4,577.6L972.2,572.4ZM994.7,562.7L1005.6,563.7L1007,579.5L993.4,577.6ZM1026.6,557.7L1035.8,563.1L1036.4,576.4L1026.7,574.3ZM1035.8,563.1L1058.7,556.6L1057.3,573.7L1036.4,576.4ZM1074.2,562.3L1089.1,562.8L1084.1,578L1068.2,575.9ZM1089.1,562.8L1108.1,558.6L1105.1,574.1L1084.1,578ZM158.3,574.2L178,573.6L178.3,589.6L159.9,588.1ZM178,573.6L190.5,574.2L191.8,587.8L178.3,589.6ZM190.5,574.2L211.1,577.2L206,593.4L191.8,587.8ZM275,574L286,572.7L289.9,589.5L272.3,592.8ZM286,572.7L304,578.3L302.4,590.7L289.9,589.5ZM304,578.3L317.1,575.4L316.6,590.7L302.4,590.7ZM317.1,575.4L340.1,575.8L337.9,592.7L316.6,590.7ZM340.1,575.8L351,578.9L349.3,593.9L337.9,592.7ZM351,578.9L371.3,575L364.8,594.1L349.3,593.9ZM660,573.7L671,575.3L674.3,593.9L654.4,592.2ZM816.8,576.4L831.4,573.9L832,593.4L818.8,590.7ZM863.5,580L880.5,573.5L877.4,593.8L863.4,596.1ZM880.5,573.5L892.3,573.1L892.1,590.1L877.4,593.8ZM892.3,573.1L910.7,578.4L908.8,589.1L892.1,590.1ZM910.7,578.4L931.3,573.8L928.2,589.3L908.8,589.1ZM931.3,573.8L946.4,575.5L946.5,588.6L928.2,589.3ZM972.2,572.4L993.4,577.6L994.2,591.7L972.9,589.6ZM993.4,577.6L1007,579.5L1011.6,590.6L994.2,591.7ZM1057.3,573.7L1068.2,575.9L1072.4,595.7L1059.3,589.5ZM1068.2,575.9L1084.1,578L1084.8,594.9L1072.4,595.7ZM1084.1,578L1105.1,574.1L1106.3,594.1L1084.8,594.9ZM159.9,588.1L178.3,589.6L171.8,607.3L159.3,611.8ZM178.3,589.6L191.8,587.8L188.3,612.2L171.8,607.3ZM191.8,587.8L206,593.4L204.7,611.8L188.3,612.2ZM272.3,592.8L289.9,589.5L290.5,604.9L269,608.1ZM289.9,589.5L302.4,590.7L307.2,607.3L290.5,604.9ZM302.4,590.7L316.6,590.7L318,605.8L307.2,607.3ZM316.6,590.7L337.9,592.7L335.7,609.2L318,605.8ZM337.9,592.7L349.3,593.9L352.6,611.3L335.7,609.2ZM349.3,593.9L364.8,594.1L368.1,608.1L352.6,611.3ZM464.5,589.9L483.8,595.8L481.9,610.2L467.2,609.7ZM483.8,595.8L491.9,590.6L494.3,609.9L481.9,610.2ZM491.9,590.6L510.5,589.5L509.5,608.5L494.3,609.9ZM510.5,589.5L527.4,595.3L528.8,610.3L509.5,608.5ZM527.4,595.3L540,594.8L541.2,606.7L528.8,610.3ZM540,594.8L558.4,587.9L562.7,610.6L541.2,606.7ZM579.4,590.1L589.6,588.8L589.6,604.7L580,604.8ZM589.6,588.8L606.9,588.8L609.9,610.1L589.6,604.7ZM621.3,589.9L640.7,591.5L640.1,608.5L625.2,610.3ZM686.7,595.5L706.4,592.5L704.6,604.9L687.9,610.2ZM706.4,592.5L719.8,590.6L719.4,607.3L704.6,604.9ZM771.6,595.3L780.1,593.7L788,604.6L767.4,606.9ZM780.1,593.7L797.8,592.3L795.9,609.9L788,604.6ZM818.8,590.7L832,593.4L832.8,606.9L815.1,607.6ZM832,593.4L845.4,593.1L845.8,603.9L832.8,606.9ZM845.4,593.1L863.4,596.1L867.1,611.7L845.8,603.9ZM863.4,596.1L877.4,593.8L878.2,607.7L867.1,611.7ZM877.4,593.8L892.1,590.1L894.5,604.3L878.2,607.7ZM908.8,589.1L928.2,589.3L925.8,605.9L915.3,610.8ZM946.5,588.6L961,595L959.7,607.1L945.7,610.5ZM994.2,591.7L1011.6,590.6L1004.8,608.8L995.1,611ZM1038.7,595.9L1059.3,589.5L1052.3,609.9L1039.7,605ZM255.9,607.9L269,608.1L270.8,625.7L252.9,627.2ZM269,608.1L290.5,604.9L287.7,624.2L270.8,625.7ZM290.5,604.9L307.2,607.3L301.5,621.3L287.7,624.2ZM307.2,607.3L318,605.8L318.6,625.5L301.5,621.3ZM318,605.8L335.7,609.2L336.4,619.8L318.6,625.5ZM335.7,609.2L352.6,611.3L353.8,623.4L336.4,619.8ZM352.6,611.3L368.1,608.1L364.4,622L353.8,623.4ZM481.9,610.2L494.3,609.9L492.2,621.2L481.3,620.8ZM494.3,609.9L509.5,608.5L510,624.2L492.2,621.2ZM509.5,608.5L528.8,610.3L530.7,624.7L510,624.2ZM541.2,606.7L562.7,610.6L564,626.1L543.4,621.8ZM562.7,610.6L580,604.8L574.7,620.2L564,626.1ZM719.4,607.3L735.4,608.5L732.2,624.9L716.5,628.1ZM735.4,608.5L750.8,607.1L750.7,621.4L732.2,624.9ZM750.8,607.1L767.4,606.9L767.5,627.6L750.7,621.4ZM767.4,606.9L788,604.6L781.9,621.2L767.5,627.6ZM788,604.6L795.9,609.9L801.1,625.3L781.9,621.2ZM795.9,609.9L815.1,607.6L816.1,621.3L801.1,625.3ZM894.5,604.3L915.3,610.8L908.2,626.8L899.3,623.7ZM945.7,610.5L959.7,607.1L962.4,620.9L941,624.9ZM959.7,607.1L973.8,610.5L974.3,626.9L962.4,620.9ZM1004.8,608.8L1028.1,609.8L1023.2,621.1L1009.6,626.5ZM1028.1,609.8L1039.7,605L1041.3,622.5L1023.2,621.1ZM252.9,627.2L270.8,625.7L274.6,641.6L257.4,641.2ZM270.8,625.7L287.7,624.2L291.6,636.2L274.6,641.6ZM287.7,624.2L301.5,621.3L299.9,637.8L291.6,636.2ZM301.5,621.3L318.6,625.5L322.3,637.1L299.9,637.8ZM318.6,625.5L336.4,619.8L336.3,642.3L322.3,637.1ZM336.4,619.8L353.8,623.4L349.1,640.2L336.3,642.3ZM353.8,623.4L364.4,622L371.4,642.1L349.1,640.2ZM481.3,620.8L492.2,621.2L496.5,642.6L481.6,639.6ZM574.7,620.2L596,622L594.7,638.9L574.6,641.8ZM610.9,620.8L625.3,622.8L620.2,636.8L612.2,641.2ZM689.2,625.5L702.2,622.1L704.5,639.5L691.4,642.8ZM716.5,628.1L732.2,624.9L734.7,644L718.4,640.9ZM767.5,627.6L781.9,621.2L780.8,638.7L770.7,636.4ZM835.1,620.7L845.3,621.8L845.7,636L835.9,637.7ZM845.3,621.8L864.1,623.8L862.1,636.3L845.7,636ZM962.4,620.9L974.3,626.9L972.1,639.7L959.7,638.2ZM1023.2,621.1L1041.3,622.5L1039.9,637.3L1027,642.7ZM1041.3,622.5L1052.9,621.2L1054.1,642L1039.9,637.3ZM274.6,641.6L291.6,636.2L284,656.3L269.5,659ZM291.6,636.2L299.9,637.8L304.6,653L284,656.3ZM299.9,637.8L322.3,637.1L323.5,655.5L304.6,653ZM322.3,637.1L336.3,642.3L333.4,655.3L323.5,655.5ZM336.3,642.3L349.1,640.2L352.8,655.4L333.4,655.3ZM349.1,640.2L371.4,642.1L363.8,652.6L352.8,655.4ZM481.6,639.6L496.5,642.6L496.7,660L479.4,653.8ZM496.5,642.6L512.2,643.9L509.6,652.4L496.7,660ZM562.9,637.1L574.6,641.8L574.5,655.8L564.1,654.5ZM612.2,641.2L620.2,636.8L626.5,653.3L609.7,654.5ZM691.4,642.8L704.5,639.5L700.9,656.9L689.4,654.9ZM704.5,639.5L718.4,640.9L722.2,655.8L700.9,656.9ZM780.8,638.7L796.9,639.3L804.2,656.5L784.4,659.3ZM796.9,639.3L820.1,642.8L814.6,653.7L804.2,656.5ZM835.9,637.7L845.7,636L845.9,657.6L833.1,658ZM845.7,636L862.1,636.3L868.2,655.1L845.9,657.6ZM897.5,640.5L912.8,638.3L909.5,654.7L897.3,659.1ZM930,641.6L945.8,639.8L942.4,655.8L932.1,652.3ZM945.8,639.8L959.7,638.2L962.1,657.1L942.4,655.8ZM959.7,638.2L972.1,639.7L979.6,657.4L962.1,657.1ZM972.1,639.7L993,637.4L987.8,652.4L979.6,657.4ZM993,637.4L1011,643.2L1004.1,655.4L987.8,652.4ZM1011,643.2L1027,642.7L1020,656.2L1004.1,655.4ZM1027,642.7L1039.9,637.3L1041.1,653.5L1020,656.2ZM1039.9,637.3L1054.1,642L1059,655.3L1041.1,653.5ZM333.4,655.3L352.8,655.4L353.7,672.2L340.2,672ZM352.8,655.4L363.8,652.6L370.2,670.6L353.7,672.2ZM363.8,652.6L385.8,652.9L383.3,674.1L370.2,670.6ZM479.4,653.8L496.7,660L492.2,673.8L478.4,668.8ZM496.7,660L509.6,652.4L513.9,673L492.2,673.8ZM529.6,652.7L541.7,655.5L546.7,673L525.5,673.9ZM589.2,655.2L609.7,654.5L609.1,675.6L589,675.1ZM655.6,659.5L668.7,658.1L671.8,675.4L654.3,672.3ZM700.9,656.9L722.2,655.8L718.9,667.8L704.7,674.4ZM752.9,655.4L765.4,655.7L765.7,673.3L748.9,668.7ZM784.4,659.3L804.2,656.5L800,667.9L780.9,668ZM804.2,656.5L814.6,653.7L814,671L800,667.9ZM814.6,653.7L833.1,658L829.5,667.8L814,671ZM833.1,658L845.9,657.6L846,669.8L829.5,667.8ZM897.3,659.1L909.5,654.7L914,671.9L892,674.8ZM909.5,654.7L932.1,652.3L923.8,669.8L914,671.9ZM932.1,652.3L942.4,655.8L947.4,671.6L923.8,669.8ZM942.4,655.8L962.1,657.1L957.5,674.7L947.4,671.6ZM962.1,657.1L979.6,657.4L979.3,668.8L957.5,674.7ZM979.6,657.4L987.8,652.4L992,672.5L979.3,668.8ZM987.8,652.4L1004.1,655.4L1004.8,670.5L992,672.5ZM1004.1,655.4L1020,656.2L1025,673.5L1004.8,670.5ZM1020,656.2L1041.1,653.5L1041.1,673L1025,673.5ZM478.4,668.8L492.2,673.8L492.9,684L480.3,687.1ZM492.2,673.8L513.9,673L512.5,691.9L492.9,684ZM513.9,673L525.5,673.9L526.2,686.8L512.5,691.9ZM525.5,673.9L546.7,673L542.5,690L526.2,686.8ZM546.7,673L557.7,672.5L559.9,690.5L542.5,690ZM589,675.1L609.1,675.6L607.2,687L589.5,686.9ZM654.3,672.3L671.8,675.4L674.8,686.6L657.2,688.8ZM688.7,673.2L704.7,674.4L704.3,688.7L684.1,691.8ZM704.7,674.4L718.9,667.8L716.4,690.1L704.3,688.7ZM748.9,668.7L765.7,673.3L766.9,686.1L750.2,691.5ZM800,667.9L814,671L820,684.8L798.1,687.9ZM862.5,671.3L878.8,670.5L882.5,684.8L866.4,689.8ZM923.8,669.8L947.4,671.6L942,685.1L931.3,687.8ZM947.4,671.6L957.5,674.7L960,684.2L942,685.1ZM957.5,674.7L979.3,668.8L973.2,691.1L960,684.2ZM979.3,668.8L992,672.5L992.6,691.1L973.2,691.1ZM1025,673.5L1041.1,673L1038,691.5L1023.7,684.7ZM1041.1,673L1055,668.4L1057.9,688.1L1038,691.5ZM542.5,690L559.9,690.5L562.5,704.4L540.7,701.9ZM657.2,688.8L674.8,686.6L672.7,702.5L657.2,701.3ZM674.8,686.6L684.1,691.8L687.8,705.8L672.7,702.5ZM684.1,691.8L704.3,688.7L700,704.1L687.8,705.8ZM734.9,689.2L750.2,691.5L753.1,702.2L738.7,703.7ZM766.9,686.1L787.3,685.7L784.3,701.7L766,704.1ZM787.3,685.7L798.1,687.9L802.2,704L784.3,701.7ZM820,684.8L829.6,690.5L834.8,707.4L814.8,701.9ZM829.6,690.5L844.4,687.3L851.7,701.9L834.8,707.4ZM844.4,687.3L866.4,689.8L860.4,705.1L851.7,701.9ZM866.4,689.8L882.5,684.8L876,707L860.4,705.1ZM931.3,687.8L942,685.1L946.4,705.5L925.1,702.9ZM942,685.1L960,684.2L960.7,700.7L946.4,705.5ZM451.3,704.5L464.9,699.8L465.6,716.9L448.2,717.3ZM529.3,700.5L540.7,701.9L540,718.8L527,720.4ZM540.7,701.9L562.5,704.4L556.1,724.2L540,718.8ZM562.5,704.4L574.8,707.9L579.4,721.3L556.1,724.2ZM657.2,701.3L672.7,702.5L674.2,722.9L658.8,720.4ZM672.7,702.5L687.8,705.8L685.9,719.2L674.2,722.9ZM687.8,705.8L700,704.1L702.8,716.4L685.9,719.2ZM718.4,704.8L738.7,703.7L735.9,720.4L723.2,721.6ZM738.7,703.7L753.1,702.2L755.2,716.4L735.9,720.4ZM802.2,704L814.8,701.9L817.4,718.7L798,717.7ZM814.8,701.9L834.8,707.4L835.7,723.4L817.4,718.7ZM834.8,707.4L851.7,701.9L852,718.1L835.7,723.4ZM851.7,701.9L860.4,705.1L864.1,716.7L852,718.1ZM860.4,705.1L876,707L878.8,716.4L864.1,716.7ZM925.1,702.9L946.4,705.5L940.2,722.9L926.1,723.6ZM946.4,705.5L960.7,700.7L963,716.4L940.2,722.9ZM960.7,700.7L973.6,702L979.8,721.2L963,716.4ZM988.1,705.2L1008.6,707.6L1008.9,720.2L991.1,719.4ZM1008.6,707.6L1024.5,707.5L1027.1,723.3L1008.9,720.2ZM1024.5,707.5L1039.7,704.1L1038.5,715.9L1027.1,723.3ZM1039.7,704.1L1054.2,703.7L1058.3,721.2L1038.5,715.9ZM1054.2,703.7L1075.7,703.9L1073.3,716.4L1058.3,721.2ZM527,720.4L540,718.8L544.7,733.9L525,737.5ZM540,718.8L556.1,724.2L562.6,737.5L544.7,733.9ZM556.1,724.2L579.4,721.3L575.4,736.9L562.6,737.5ZM579.4,721.3L589.1,723L593.3,735.5L575.4,736.9ZM658.8,720.4L674.2,722.9L670.9,734.9L658.3,739.1ZM674.2,722.9L685.9,719.2L688.1,733.9L670.9,734.9ZM685.9,719.2L702.8,716.4L701.6,732.9L688.1,733.9ZM702.8,716.4L723.2,721.6L721.6,736.1L701.6,732.9ZM755.2,716.4L766.8,721.6L770.8,732L755.1,739.7ZM817.4,718.7L835.7,723.4L831.4,733L817,735.5ZM835.7,723.4L852,718.1L848.4,734.1L831.4,733ZM852,718.1L864.1,716.7L860.8,739.1L848.4,734.1ZM991.1,719.4L1008.9,720.2L1006.4,738.5L989.5,733.4ZM1008.9,720.2L1027.1,723.3L1021.8,737.1L1006.4,738.5ZM1058.3,721.2L1073.3,716.4L1068.7,735.8L1057.7,736ZM1073.3,716.4L1084.4,723.3L1091.7,735.1L1068.7,735.8ZM544.7,733.9L562.6,737.5L563,749.4L546.6,751.8ZM562.6,737.5L575.4,736.9L574.6,752.1L563,749.4ZM575.4,736.9L593.3,735.5L593.9,751.6L574.6,752.1ZM593.3,735.5L604.6,734.9L606.3,755.1L593.9,751.6ZM604.6,734.9L627.7,734.9L623.1,751.3L606.3,755.1ZM627.7,734.9L641.2,732.5L637.7,751.9L623.1,751.3ZM641.2,732.5L658.3,739.1L657.7,750.8L637.7,751.9ZM658.3,739.1L670.9,734.9L673.4,751.9L657.7,750.8ZM688.1,733.9L701.6,732.9L702.2,752.4L683.9,755.9ZM701.6,732.9L721.6,736.1L723.9,749.5L702.2,752.4ZM755.1,739.7L770.8,732L768.1,748.2L749.1,755ZM831.4,733L848.4,734.1L844.7,752.2L829.8,752.8ZM848.4,734.1L860.8,739.1L865.2,748.5L844.7,752.2ZM989.5,733.4L1006.4,738.5L1010.1,754.2L995.1,752.5ZM1021.8,737.1L1036.1,732.5L1039,751.8L1022.1,753ZM1036.1,732.5L1057.7,736L1056.3,753.4L1039,751.8ZM1057.7,736L1068.7,735.8L1069.2,754.8L1056.3,753.4ZM1068.7,735.8L1091.7,735.1L1085.2,750.4L1069.2,754.8ZM593.9,751.6L606.3,755.1L608.6,769.4L593.6,768.1ZM657.7,750.8L673.4,751.9L669.9,770.7L655.7,764.5ZM673.4,751.9L683.9,755.9L684.1,770.5L669.9,770.7ZM683.9,755.9L702.2,752.4L706.5,771.1L684.1,770.5ZM995.1,752.5L1010.1,754.2L1011.3,764.9L991.6,764.9ZM1022.1,753L1039,751.8L1038.4,768.4L1026.1,770.5ZM1039,751.8L1056.3,753.4L1060.1,769L1038.4,768.4ZM1056.3,753.4L1069.2,754.8L1071.1,772L1060.1,769ZM1069.2,754.8L1085.2,750.4L1086,771.8L1071.1,772ZM1085.2,750.4L1106.9,756.1L1102.4,767.3L1086,771.8ZM558,770.9L578.9,769.7L572.8,782L562.4,785.5ZM578.9,769.7L593.6,768.1L590.4,782.8L572.8,782ZM593.6,768.1L608.6,769.4L607.9,782.3L590.4,782.8ZM608.6,769.4L619.9,767.5L628.2,786L607.9,782.3ZM619.9,767.5L643.9,765.5L638.9,785.7L628.2,786ZM643.9,765.5L655.7,764.5L659.6,781.1L638.9,785.7ZM655.7,764.5L669.9,770.7L673.1,787.9L659.6,781.1ZM1026.1,770.5L1038.4,768.4L1044,786.1L1024.8,780.5ZM1038.4,768.4L1060.1,769L1058.6,786.1L1044,786.1ZM1060.1,769L1071.1,772L1069.3,781.8L1058.6,786.1ZM1071.1,772L1086,771.8L1084.1,784.4L1069.3,781.8ZM1086,771.8L1102.4,767.3L1100.5,781.4L1084.1,784.4ZM572.8,782L590.4,782.8L595.7,798.7L572.8,803.3ZM590.4,782.8L607.9,782.3L605.6,797L595.7,798.7ZM607.9,782.3L628.2,786L621.6,799.3L605.6,797ZM1044,786.1L1058.6,786.1L1051.9,797.4L1037.5,801ZM1058.6,786.1L1069.3,781.8L1069.3,798.8L1051.9,797.4ZM572.8,803.3L595.7,798.7L592.2,813.2L572.7,818.1ZM595.7,798.7L605.6,797L611.2,812.2L592.2,813.2ZM621.6,799.3L641.7,803.7L644.2,813L621.4,815.8ZM641.7,803.7L656.5,803.8L654,818.4L644.2,813ZM1037.5,801L1051.9,797.4L1058.5,814.6L1040.8,820ZM1069.3,798.8L1090,796L1084.3,819.6L1068.7,819.5ZM1090,796L1107.2,796.6L1107.6,817.4L1084.3,819.6ZM1040.8,820L1058.5,814.6L1059.9,836L1038.9,833.9ZM1068.7,819.5L1084.3,819.6L1084.9,832.9L1071.3,833.2ZM1084.3,819.6L1107.6,817.4L1107.2,835.2L1084.9,832.9Z"/>
<path fill="#2171b5" stroke="#2171b5" stroke-width="0.6" d="M124.8,96.3L145.1,94.8L145.1,114.7L130.9,114.6ZM145.1,94.8L163.1,96.5L161.1,110.2L145.1,114.7ZM130.9,114.6L145.1,114.7L144.3,129.8L124.6,128.6ZM145.1,114.7L161.1,110.2L160.1,129.2L144.3,129.8ZM161.1,110.2L172.6,108.6L178.8,128.2L160.1,129.2ZM172.6,108.6L194.2,109.5L191.2,131.8L178.8,128.2ZM254.9,110.5L275.9,112L270.1,127.2L254.8,124.3ZM275.9,112L291,113L283.9,127.3L270.1,127.2ZM124.6,128.6L144.3,129.8L139.9,141.4L124.2,142.3ZM144.3,129.8L160.1,129.2L163.5,144.9L139.9,141.4ZM160.1,129.2L178.8,128.2L177.3,146.4L163.5,144.9ZM178.8,128.2L191.2,131.8L195.4,144.9L177.3,146.4ZM254.8,124.3L270.1,127.2L274.2,140.7L257.4,143.6ZM270.1,127.2L283.9,127.3L285.3,140.1L274.2,140.7ZM303.3,129.7L318.8,126L321.3,142.9L306.3,147.5ZM318.8,126L333.7,130L338.7,146.4L321.3,142.9ZM124.2,142.3L139.9,141.4L142.8,160.5L125.3,161.7ZM139.9,141.4L163.5,144.9L159.2,160.1L142.8,160.5ZM163.5,144.9L177.3,146.4L173.1,156.2L159.2,160.1ZM177.3,146.4L195.4,144.9L196.2,158.9L173.1,156.2ZM195.4,144.9L209,145.1L204.7,161.1L196.2,158.9ZM125.3,161.7L142.8,160.5L146,175.2L125.5,172.4ZM142.8,160.5L159.2,160.1L161.9,172.3L146,175.2ZM159.2,160.1L173.1,156.2L178.6,174.6L161.9,172.3ZM173.1,156.2L196.2,158.9L194.9,179.1L178.6,174.6ZM196.2,158.9L204.7,161.1L207.9,171.9L194.9,179.1ZM720.8,162.2L732.7,158.5L735.1,175.3L722.7,179.7ZM125.5,172.4L146,175.2L147.1,191.5L125.1,188.4ZM146,175.2L161.9,172.3L156.3,191.1L147.1,191.5ZM161.9,172.3L178.6,174.6L175.5,194L156.3,191.1ZM178.6,174.6L194.9,179.1L188.7,189.7L175.5,194ZM194.9,179.1L207.9,171.9L211.9,194L188.7,189.7ZM706.1,173.2L722.7,179.7L720.1,192.1L704.3,196.2ZM722.7,179.7L735.1,175.3L737.6,191.1L720.1,192.1ZM156.3,191.1L175.5,194L178.7,206.4L158.4,211.4ZM175.5,194L188.7,189.7L192.9,211.9L178.7,206.4ZM188.7,189.7L211.9,194L208,211.8L192.9,211.9ZM704.3,196.2L720.1,192.1L718.1,210.3L704.1,208.4ZM720.1,192.1L737.6,191.1L735,209.3L718.1,210.3ZM691.1,204.8L704.1,208.4L705.3,221.9L689.1,227.7ZM704.1,208.4L718.1,210.3L717.9,221L705.3,221.9ZM718.1,210.3L735,209.3L732,226.3L717.9,221ZM862.4,205.7L876.9,209.8L878.9,226.8L862.9,224.4ZM92.3,225.7L111.4,224.1L111.3,240.3L94.9,240.7ZM862.9,224.4L878.9,226.8L878.7,237.1L867.8,235.9ZM94.9,240.7L111.3,240.3L110.7,252.9L93.8,253.8ZM111.3,240.3L128.5,239.1L123.9,259.1L110.7,252.9ZM128.5,239.1L140.8,237.3L143.6,255.5L123.9,259.1ZM781.4,240.5L798.2,241.6L800.3,256.7L786.6,255.4ZM867.8,235.9L878.7,237.1L882.3,254.4L865.8,258.2ZM79.8,254.9L93.8,253.8L94.2,270.6L82.1,274.7ZM93.8,253.8L110.7,252.9L111.9,275.3L94.2,270.6ZM110.7,252.9L123.9,259.1L125.2,273.5L111.9,275.3ZM123.9,259.1L143.6,255.5L144.8,271.6L125.2,273.5ZM143.6,255.5L160.6,254.3L160.7,275.2L144.8,271.6ZM160.6,254.3L173.2,252.4L173.6,275.2L160.7,275.2ZM82.1,274.7L94.2,270.6L95.8,290.5L81.6,287.6ZM94.2,270.6L111.9,275.3L114.2,285.1L95.8,290.5ZM111.9,275.3L125.2,273.5L129.5,286.9L114.2,285.1ZM125.2,273.5L144.8,271.6L144.2,285.8L129.5,286.9ZM144.8,271.6L160.7,275.2L158.9,286.7L144.2,285.8ZM160.7,275.2L173.6,275.2L175,283.9L158.9,286.7ZM158.9,286.7L175,283.9L179.5,302.5L160.5,301.1ZM989,334.1L1004.3,335.5L1005.6,353.4L989.8,355.6ZM1004.3,335.5L1024.5,338.6L1027.6,353.2L1005.6,353.4ZM1036.1,338.8L1052.7,333.7L1053.1,348L1043.5,350ZM1052.7,333.7L1073.1,334.7L1074.2,348.7L1053.1,348ZM1073.1,334.7L1086.6,336.6L1092,353.8L1074.2,348.7ZM1005.6,353.4L1027.6,353.2L1027.6,366.7L1009.9,364.6ZM1027.6,353.2L1043.5,350L1042.8,364.1L1027.6,366.7ZM1043.5,350L1053.1,348L1058.8,365.7L1042.8,364.1ZM1027.6,366.7L1042.8,364.1L1043.2,380.3L1024.2,384.7ZM1042.8,364.1L1058.8,365.7L1053.8,381.2L1043.2,380.3ZM1058.8,365.7L1075,370.5L1072.7,383.6L1053.8,381.2ZM988.8,387.9L1005.1,381L1005,397.4L993.4,400.5ZM1043.2,380.3L1053.8,381.2L1054,399.4L1041.1,397.8ZM1139.7,383.2L1148.2,387.5L1149.5,398.4L1137,403.4ZM1148.2,387.5L1164.7,379.9L1169.4,398L1149.5,398.4ZM993.4,400.5L1005,397.4L1010.9,418.9L994.7,414.7ZM736.9,419.4L755.8,414.5L748.5,428.4L739.7,431.5ZM847.2,417.1L867.3,418.1L865,430.3L845.2,431.2ZM739.7,431.5L748.5,428.4L747.8,450.5L735,449.6ZM959.9,435.7L975.8,429.5L973.1,451L958,448.9ZM992.8,429L1005.2,428.4L1011.6,444.5L991.9,446.1ZM1005.2,428.4L1025.7,435.9L1027.6,450.2L1011.6,444.5ZM973.1,451L991.9,446.1L989.3,466.8L971.9,461.5ZM834.8,465.4L849.5,467.6L844.6,481.9L831.5,475.8ZM943.3,467.4L960.8,466.7L964.2,478.5L942.8,483.1ZM960.8,466.7L971.9,461.5L979.4,482.4L964.2,478.5ZM971.9,461.5L989.3,466.8L995.1,480.7L979.4,482.4ZM989.3,466.8L1004.7,467.6L1011.9,481.2L995.1,480.7ZM716.2,481.8L738.5,476.7L735.8,500.1L718.1,498.3ZM782.7,481.6L798.9,481.8L800.4,495.1L786.3,498.9ZM831.5,475.8L844.6,481.9L847.5,500.1L830,498.1ZM942.8,483.1L964.2,478.5L964,493.2L945.7,496.1ZM964.2,478.5L979.4,482.4L976.1,495.9L964,493.2ZM979.4,482.4L995.1,480.7L990.9,499L976.1,495.9ZM995.1,480.7L1011.9,481.2L1005.6,499.2L990.9,499ZM1011.9,481.2L1027.8,480.6L1022.8,494.6L1005.6,499.2ZM687,492.1L706.5,498.6L707.8,510.9L685.7,509.6ZM748.3,495L765.7,497L766.8,509.6L754.1,515.2ZM765.7,497L786.3,498.9L782.7,514L766.8,509.6ZM786.3,498.9L800.4,495.1L801.3,511.2L782.7,514ZM945.7,496.1L964,493.2L955.8,514.5L941.6,511.5ZM976.1,495.9L990.9,499L992.4,512.9L973.9,514.8ZM1075.8,494.9L1084.8,497.3L1091.8,509.4L1071.5,513.5ZM1084.8,497.3L1104.3,494.6L1100.6,511.3L1091.8,509.4ZM754.1,515.2L766.8,509.6L768.2,526.3L751.3,524.8ZM766.8,509.6L782.7,514L787.9,527L768.2,526.3ZM782.7,514L801.3,511.2L799.5,525.7L787.9,527ZM847.1,530.1L862.1,524.7L867.9,542.9L845.9,542.2ZM669.7,546.9L686.6,546.9L685.7,561.7L669.8,559ZM845.9,542.2L867.9,542.9L861.2,562.9L847.9,563.7ZM1008.6,546.3L1025.1,544.8L1026.6,557.7L1005.6,563.7ZM1043.5,546.6L1056.6,542.5L1058.7,556.6L1035.8,563.1ZM1056.6,542.5L1075.6,542.9L1074.2,562.3L1058.7,556.6ZM593.7,563.8L603.9,558.5L607.7,575.3L589.6,578.1ZM657.2,562.5L669.8,559L671,575.3L660,573.7ZM685.7,561.7L704.2,560.9L707.7,577.1L688.6,579.3ZM704.2,560.9L718.5,560.7L718.9,572.7L707.7,577.1ZM1058.7,556.6L1074.2,562.3L1068.2,575.9L1057.3,573.7ZM380.8,577.1L402,579.6L397.9,592.1L381,588.6ZM402,579.6L417.3,574.4L414.1,595.2L397.9,592.1ZM417.3,574.4L432.1,574.2L435.7,590.2L414.1,595.2ZM432.1,574.2L447.5,575.7L450.1,593.6L435.7,590.2ZM562.9,578.7L574.9,578.8L579.4,590.1L558.4,587.9ZM671,575.3L688.6,579.3L686.7,595.5L674.3,593.9ZM688.6,579.3L707.7,577.1L706.4,592.5L686.7,595.5ZM707.7,577.1L718.9,572.7L719.8,590.6L706.4,592.5ZM797.2,579.7L816.8,576.4L818.8,590.7L797.8,592.3ZM1026.7,574.3L1036.4,576.4L1038.7,595.9L1023.1,595.8ZM1036.4,576.4L1057.3,573.7L1059.3,589.5L1038.7,595.9ZM364.8,594.1L381,588.6L388.1,605.6L368.1,608.1ZM381,588.6L397.9,592.1L395.9,606.6L388.1,605.6ZM397.9,592.1L414.1,595.2L414.4,604.8L395.9,606.6ZM414.1,595.2L435.7,590.2L431.3,604.1L414.4,604.8ZM435.7,590.2L450.1,593.6L451.5,607.9L431.3,604.1ZM450.1,593.6L464.5,589.9L467.2,609.7L451.5,607.9ZM797.8,592.3L818.8,590.7L815.1,607.6L795.9,609.9ZM972.9,589.6L994.2,591.7L995.1,611L973.8,610.5ZM1011.6,590.6L1023.1,595.8L1028.1,609.8L1004.8,608.8ZM1023.1,595.8L1038.7,595.9L1039.7,605L1028.1,609.8ZM368.1,608.1L388.1,605.6L381.6,626.7L364.4,622ZM388.1,605.6L395.9,606.6L400.4,622.5L381.6,626.7ZM395.9,606.6L414.4,604.8L413.9,622.2L400.4,622.5ZM414.4,604.8L431.3,604.1L430.2,622.7L413.9,622.2ZM431.3,604.1L451.5,607.9L450.4,626.4L430.2,622.7ZM451.5,607.9L467.2,609.7L465.7,627.2L450.4,626.4ZM704.6,604.9L719.4,607.3L716.5,628.1L702.2,622.1ZM815.1,607.6L832.8,606.9L835.1,620.7L816.1,621.3ZM832.8,606.9L845.8,603.9L845.3,621.8L835.1,620.7ZM845.8,603.9L867.1,611.7L864.1,623.8L845.3,621.8ZM867.1,611.7L878.2,607.7L880.5,625.9L864.1,623.8ZM878.2,607.7L894.5,604.3L899.3,623.7L880.5,625.9ZM973.8,610.5L995.1,611L993.6,620.7L974.3,626.9ZM995.1,611L1004.8,608.8L1009.6,626.5L993.6,620.7ZM364.4,622L381.6,626.7L383.1,639.8L371.4,642.1ZM381.6,626.7L400.4,622.5L398.1,643.9L383.1,639.8ZM400.4,622.5L413.9,622.2L418.4,641.5L398.1,643.9ZM413.9,622.2L430.2,622.7L430.4,641.9L418.4,641.5ZM430.2,622.7L450.4,626.4L447.9,642.5L430.4,641.9ZM450.4,626.4L465.7,627.2L462.9,643.2L447.9,642.5ZM702.2,622.1L716.5,628.1L718.4,640.9L704.5,639.5ZM732.2,624.9L750.7,621.4L755.8,641.9L734.7,644ZM750.7,621.4L767.5,627.6L770.7,636.4L755.8,641.9ZM781.9,621.2L801.1,625.3L796.9,639.3L780.8,638.7ZM801.1,625.3L816.1,621.3L820.1,642.8L796.9,639.3ZM864.1,623.8L880.5,625.9L880.2,638.3L862.1,636.3ZM880.5,625.9L899.3,623.7L897.5,640.5L880.2,638.3ZM899.3,623.7L908.2,626.8L912.8,638.3L897.5,640.5ZM908.2,626.8L924,622.5L930,641.6L912.8,638.3ZM924,622.5L941,624.9L945.8,639.8L930,641.6ZM941,624.9L962.4,620.9L959.7,638.2L945.8,639.8ZM974.3,626.9L993.6,620.7L993,637.4L972.1,639.7ZM993.6,620.7L1009.6,626.5L1011,643.2L993,637.4ZM371.4,642.1L383.1,639.8L385.8,652.9L363.8,652.6ZM383.1,639.8L398.1,643.9L397.9,658.6L385.8,652.9ZM398.1,643.9L418.4,641.5L419,659.2L397.9,658.6ZM418.4,641.5L430.4,641.9L429.3,651.8L419,659.2ZM430.4,641.9L447.9,642.5L450.1,656.8L429.3,651.8ZM447.9,642.5L462.9,643.2L462.9,652L450.1,656.8ZM545.8,639.9L562.9,637.1L564.1,654.5L541.7,655.5ZM718.4,640.9L734.7,644L735.8,657.6L722.2,655.8ZM734.7,644L755.8,641.9L752.9,655.4L735.8,657.6ZM755.8,641.9L770.7,636.4L765.4,655.7L752.9,655.4ZM770.7,636.4L780.8,638.7L784.4,659.3L765.4,655.7ZM862.1,636.3L880.2,638.3L883.7,655.5L868.2,655.1ZM880.2,638.3L897.5,640.5L897.3,659.1L883.7,655.5ZM912.8,638.3L930,641.6L932.1,652.3L909.5,654.7ZM419,659.2L429.3,651.8L434,672.6L414.4,674.9ZM429.3,651.8L450.1,656.8L447.2,672.6L434,672.6ZM450.1,656.8L462.9,652L460.4,668.6L447.2,672.6ZM509.6,652.4L529.6,652.7L525.5,673.9L513.9,673ZM668.7,658.1L689.4,654.9L688.7,673.2L671.8,675.4ZM722.2,655.8L735.8,657.6L740,674.5L718.9,667.8ZM735.8,657.6L752.9,655.4L748.9,668.7L740,674.5ZM765.4,655.7L784.4,659.3L780.9,668L765.7,673.3ZM845.9,657.6L868.2,655.1L862.5,671.3L846,669.8ZM868.2,655.1L883.7,655.5L878.8,670.5L862.5,671.3ZM883.7,655.5L897.3,659.1L892,674.8L878.8,670.5ZM434,672.6L447.2,672.6L445.2,687.5L431.9,684.4ZM447.2,672.6L460.4,668.6L462.7,688L445.2,687.5ZM671.8,675.4L688.7,673.2L684.1,691.8L674.8,686.6ZM740,674.5L748.9,668.7L750.2,691.5L734.9,689.2ZM765.7,673.3L780.9,668L787.3,685.7L766.9,686.1ZM780.9,668L800,667.9L798.1,687.9L787.3,685.7ZM814,671L829.5,667.8L829.6,690.5L820,684.8ZM846,669.8L862.5,671.3L866.4,689.8L844.4,687.3ZM445.2,687.5L462.7,688L464.9,699.8L451.3,704.5ZM559.9,690.5L571.8,684.9L574.8,707.9L562.5,704.4ZM704.3,688.7L716.4,690.1L718.4,704.8L700,704.1ZM716.4,690.1L734.9,689.2L738.7,703.7L718.4,704.8ZM750.2,691.5L766.9,686.1L766,704.1L753.1,702.2ZM798.1,687.9L820,684.8L814.8,701.9L802.2,704ZM700,704.1L718.4,704.8L723.2,721.6L702.8,716.4ZM753.1,702.2L766,704.1L766.8,721.6L755.2,716.4ZM766,704.1L784.3,701.7L784.3,720L766.8,721.6ZM784.3,701.7L802.2,704L798,717.7L784.3,720ZM766.8,721.6L784.3,720L780.9,740L770.8,732ZM784.3,720L798,717.7L803.1,737L780.9,740ZM798,717.7L817.4,718.7L817,735.5L803.1,737ZM670.9,734.9L688.1,733.9L683.9,755.9L673.4,751.9ZM770.8,732L780.9,740L782.1,752.1L768.1,748.2ZM803.1,737L817,735.5L819.4,751.5L797.3,750.4ZM817,735.5L831.4,733L829.8,752.8L819.4,751.5ZM563,749.4L574.6,752.1L578.9,769.7L558,770.9ZM574.6,752.1L593.9,751.6L593.6,768.1L578.9,769.7ZM623.1,751.3L637.7,751.9L643.9,765.5L619.9,767.5ZM637.7,751.9L657.7,750.8L655.7,764.5L643.9,765.5ZM628.2,786L638.9,785.7L641.7,803.7L621.6,799.3ZM638.9,785.7L659.6,781.1L656.5,803.8L641.7,803.7ZM605.6,797L621.6,799.3L621.4,815.8L611.2,812.2ZM592.2,813.2L611.2,812.2L608.7,831.7L588.6,836ZM611.2,812.2L621.4,815.8L620,829.9L608.7,831.7ZM621.4,815.8L644.2,813L638.6,833.3L620,829.9ZM644.2,813L654,818.4L653.3,831.9L638.6,833.3ZM654,818.4L670.6,819.6L670.1,832.5L653.3,831.9ZM608.7,831.7L620,829.9L625.5,846.9L610,846.3ZM620,829.9L638.6,833.3L642.4,847.9L625.5,846.9ZM638.6,833.3L653.3,831.9L657.2,852.2L642.4,847.9ZM653.3,831.9L670.1,832.5L670.2,843.8L657.2,852.2Z"/>
<path fill="#08519c" stroke="#08519c" stroke-width="0.6" d="M220,110L238.2,113.8L236.8,132.1L223.1,130.2ZM238.2,113.8L254.9,110.5L254.8,124.3L236.8,132.1ZM223.1,130.2L236.8,132.1L241.5,141.6L225.6,144.8ZM236.8,132.1L254.8,124.3L257.4,143.6L241.5,141.6ZM355.7,128.2L365.6,130.5L366.3,143.3L352.5,142ZM365.6,130.5L383.1,125.6L382.5,143.4L366.3,143.3ZM209,145.1L225.6,144.8L226.4,157.1L204.7,161.1ZM225.6,144.8L241.5,141.6L240.8,158.7L226.4,157.1ZM241.5,141.6L257.4,143.6L256.2,156L240.8,158.7ZM204.7,161.1L226.4,157.1L227.4,175.8L207.9,171.9ZM830,498.1L847.5,500.1L848.1,514.4L835.5,511.8ZM816.2,509.1L835.5,511.8L833.2,530.8L819.9,526.5ZM819.9,526.5L833.2,530.8L832.7,544L812.6,545.8ZM718.9,667.8L740,674.5L734.9,689.2L716.4,690.1Z"/>
<path fill="#08306b" stroke="#08306b" stroke-width="0.6" d="M228.2,525.6L236.1,530.2L237.3,542L220.5,547.1ZM236.1,530.2L255.3,531.6L257,541.4L237.3,542ZM220.5,547.1L237.3,542L241,556.4L223,558ZM237.3,542L257,541.4L256.4,559L241,556.4ZM257,541.4L271.7,545.8L271.9,559.2L256.4,559ZM271.7,545.8L284.6,545.3L284.7,561.9L271.9,559.2ZM208.7,555.9L223,558L223.8,575L211.1,577.2ZM223,558L241,556.4L243.5,579.7L223.8,575ZM241,556.4L256.4,559L255.6,576.6L243.5,579.7ZM256.4,559L271.9,559.2L275,574L255.6,576.6ZM271.9,559.2L284.7,561.9L286,572.7L275,574ZM211.1,577.2L223.8,575L226.2,593.1L206,593.4ZM223.8,575L243.5,579.7L239.5,594L226.2,593.1ZM243.5,579.7L255.6,576.6L257.4,589.5L239.5,594ZM255.6,576.6L275,574L272.3,592.8L257.4,589.5ZM206,593.4L226.2,593.1L226.9,609.9L204.7,611.8ZM226.2,593.1L239.5,594L236.2,609.6L226.9,609.9ZM239.5,594L257.4,589.5L255.9,607.9L236.2,609.6ZM257.4,589.5L272.3,592.8L269,608.1L255.9,607.9ZM236.2,609.6L255.9,607.9L252.9,627.2L239,622.1ZM304.6,653L323.5,655.5L319.5,668.9L308.1,668.3ZM323.5,655.5L333.4,655.3L340.2,672L319.5,668.9ZM385.8,652.9L397.9,658.6L401.7,675.3L383.3,674.1ZM780.9,740L803.1,737L797.3,750.4L782.1,752.1ZM546.6,751.8L563,749.4L558,770.9L544.1,765.6Z"/>
<path fill="#deebf7" d="M271.6,212.5L277.6,210.1L283.7,200.4L283.7,188.3L275.3,187.2L271.2,209.8Z"/>
<path fill="#6baed6" d="M288.6,168.8L286.1,188.3L283.7,200.4L277.2,206.5L275.2,215.4L283.7,211.3L289.8,209.6L303.1,205.2L316.5,204.8L300.7,178.5L291.7,162.8Z"/>
<path fill="#6baed6" d="M260.6,268.9L271.6,265.9L269.1,251.4L261.3,250L253.4,261.1L258.2,265.9L258.1,266.2Z"/>
<path fill="#2171b5" d="M300.7,156.7L303.1,166.4L318.9,168.8L321.3,155.5L327.4,153.1L328.6,141.6L304.8,136.6Z"/>
<path fill="#2171b5" d="M303.1,179.8L314.1,198L318.9,204L328.6,193.1L323.8,176.1L318.9,168.8L303.1,166.4L300.7,156.7Z"/>
<path fill="#08519c" d="M345.6,154.3L350.5,164L362.6,167.6L373.5,164L375.2,150L374.8,149.9L341.2,143.9Z"/>
<path fill="#6baed6" d="M331.1,222.2L335.9,230.7L345.6,227.1L346.8,210.1L340.8,206.5L331.1,210.1Z"/>
<path fill="#c6dbef" d="M399.8,174.9L418,177.3L420.4,191.9L432.6,193.1L441.1,199.2L456.8,200.4L461.7,193.1L467.8,165.9L399.8,155Z"/>
<path fill="#6baed6" d="M492,193.1L515.1,191.9L524.8,195.5L524.8,187L492,179.8Z"/>
<path fill="#c6dbef" d="M498.1,217.4L505.4,232L522.9,234.3L524.1,217.4L524.8,195.5L498.1,194.3Z"/>
<path fill="#6baed6" d="M452,233.2L464.1,234.4L465.3,272L473.8,273.2L481.1,234.4L482.3,227.1L449.5,222.2Z"/>
<path fill="#2171b5" d="M441.1,259.1L428.2,259.9L427.7,264.7L441.1,265.9L436.2,272L472.6,277.6L473.8,274.4L466.5,272L464.1,247.7L442.3,246.5Z"/>
<path fill="#6baed6" d="M382.8,381.2L427.7,384.1L428.9,350.1L442.3,348.9L481.1,350.1L482.3,351.3L496.2,352.6L495.7,302.8L476.3,302.8L476.3,318.6L408.3,317.4L408.3,302.8L382.8,302.8Z"/>
<path fill="#c6dbef" d="M427.7,384.1L469,385.3L469,351.3L428.9,350.1Z"/>
<path fill="#c6dbef" d="M483.5,392.6L507.8,394.3L507.8,376.8L498.1,375.6L498.1,348.9L484.8,351.3Z"/>
<path fill="#c6dbef" d="M426.5,307.2L477.5,307.2L477.5,280.5L426.5,275.7Z"/>
<path fill="#6baed6" d="M477.5,307.2L496.9,307.2L496.9,282.9L477.5,280.5Z"/>
<path fill="#c6dbef" d="M496.9,307.2L516.1,307.2L516.3,304L516.6,299.5L517,284.2L496.9,282.9Z"/>
<path fill="#6baed6" d="M362.1,378L386.9,381.2L386.9,364.7L363.1,362.3Z"/>
<path fill="#2171b5" d="M359.7,410.8L381.6,413.2L382.5,387.8L360.7,386.5Z"/>
<path fill="#08519c" d="M381.1,425.4L397.4,426.6L401,387.8L381.1,386.5Z"/>
<path fill="#c6dbef" d="M331.1,420.5L321.3,440L318.9,449.7L331.1,454.5L345.6,449.7L350.5,420.5L351.7,412L340.8,410.8Z"/>
<path fill="#6baed6" d="M350.5,420.5L345.6,449.7L372.3,449.7L372.3,425.4L379.6,415.7L351.7,412Z"/>
<path fill="#6baed6" d="M283.7,448.5L318.9,452.1L320.1,440L286.1,436.4L283.9,446.9Z"/>
<path fill="#c6dbef" d="M314.1,469.1L316.5,452.1L283.5,448.6L280.2,464.3Z"/>
<path fill="#6baed6" d="M314.1,469.1L340.8,461.8L374.8,464.2L374.8,453.3L345.6,449.7L311.6,452.1Z"/>
<path fill="#2171b5" d="M370,468L347,485.5L339.5,489.6L376.1,496.4L388.9,498.2L389.1,498.2L394,451Z"/>
<path fill="#6baed6" d="M398.6,423L420.4,424.2L433.8,421.7L435,416.9L441.1,415.7L442.3,412L398.6,407.2Z"/>
<path fill="#6baed6" d="M394.9,454.5L407.1,455.7L410.7,442.4L418,443.6L427.7,440L431.3,436.3L396.1,431.5Z"/>
<path fill="#c6dbef" d="M409.5,453.3L427.7,453.3L428.9,441.2L410.7,442.4Z"/>
<path fill="#6baed6" d="M436.2,473.9L442.3,483.7L441.1,493.4L455.6,494.6L456.8,484.9L469,483.7L461.7,465.4L436.2,464.2Z"/>
<path fill="#6baed6" d="M466.5,471.5L482.3,471.5L482.3,459.4L461.7,458.2Z"/>
<path fill="#6baed6" d="M469,495.8L476.3,498.2L475.1,507.6L480.2,508.2L521.2,510.4L521.2,493.4L494.5,489.7L492,483.7L469,481.2Z"/>
<path fill="#c6dbef" d="M482.3,482.4L492,483.7L494.5,489.7L515.1,493.4L516.3,477.6L500.5,483.7L501.7,466.7L481.1,465.4Z"/>
<path fill="#f7fbff" d="M523.6,454.5L546.7,454.5L546.7,438.7L523.6,438.7Z"/>
<path fill="#f7fbff" d="M521.2,512.7L521.2,512.7L543.1,513.2L544.2,495.8L544.2,495.3L544.2,494.6L521.2,494.6Z"/>
<path fill="#f7fbff" d="M431.3,492.2L442.3,492.2L442.3,476.4L431.3,476.4Z"/>
<path fill="#c6dbef" d="M388.9,494.6L414.3,495.8L415.6,475.2L388.9,473.9Z"/>
<path fill="#6baed6" d="M474.4,505.9L520.6,511.2L521.4,493.8L491,489.2L475.1,489.2Z"/>
<path d="M125,96L145,95L163,96M177,99L189,100L209,95L227,94L244,97M131,115L145,115L161,110L173,109L194,110L206,111L220,110L238,114L255,110L276,112L291,113L300,111M125,129L144,130L160,129L179,128L191,132L206,130L223,130L237,132L255,124L270,127L284,127L303,130L319,126L334,130L356,128L366,131L383,126M1183,132L1200,128L1219,124L1234,129M124,142L140,141L164,145L177,146L195,145L209,145L226,145L242,142L257,144L274,141L285,140L306,147L321,143L339,146L353,142L366,143L382,143L401,148L412,145L428,141L451,145L468,144L476,143L497,148L516,144L527,141M668,146L690,147L706,141M1171,147L1180,147L1203,147L1217,142L1235,147M125,162L143,161L159,160L173,156L196,159L205,161L226,157L241,159L256,156L268,164L291,160L305,158L322,159L340,162L355,164L366,156L381,157L397,156L416,163L432,164L451,156L465,159L477,164L494,161L513,164L529,159L544,157L564,164L574,156L590,159L611,163L627,156L642,162L657,164L668,157L690,164L705,158L721,162L733,159M1166,157L1183,164L1204,164L1213,158L1235,156L1250,158M125,172L146,175L162,172L179,175L195,179L208,172L227,176L243,174L253,179L271,173L287,177L300,176L320,176L333,178L355,179L366,178L383,178L396,179L420,176L432,176L448,172L468,174L477,173L494,179L508,173L530,173L540,177L561,176L578,173L595,178L604,173L624,176L638,173L655,173L673,179L685,177L706,173L723,180L735,175L755,176L767,180L786,175L798,175M1172,176L1182,176L1200,173L1213,173L1230,175L1246,174M110,194L125,188L147,191L156,191L175,194L189,190L212,194L221,191L239,193L257,195L275,192L290,194L306,192L322,194L339,189L355,188L370,193L384,196L401,191L418,195L433,191L448,192L466,190L479,192L495,191L514,195L528,192L541,190L557,193L577,189L596,191L611,195L628,190L639,195L652,188L673,192L692,194L704,196L720,192L738,191L751,193L767,196L785,192L797,191L815,193L833,195L852,192M1155,193L1169,189L1184,192L1198,193L1216,196L1233,191L1245,189L1266,189M111,209L126,204L148,211L158,211L179,206L193,212L208,212L222,207L242,206L254,211L272,210L286,205L303,205L324,206L337,205L352,207L367,204L381,211L399,206L413,206L430,204L449,207L461,210L477,206L499,205L512,211L531,205L543,210L559,212L574,212L592,206L608,205L626,206L643,209L655,206L673,206L691,205L704,208L718,210L735,209L753,206L767,205L781,211L798,209L813,209L831,208L846,204M862,206L877,210L894,207M1132,206L1153,205L1171,209L1186,206L1199,210L1215,204L1235,210L1246,204L1267,209M92,226L111,224L132,221L146,220L162,227L174,224L196,225L208,222L220,223L239,221L254,221L274,225L286,222L304,224L324,223L334,227L349,225L367,227L384,226L397,225L417,224L434,227L445,222L463,222L476,222L493,226L512,221L527,224L543,221L556,220L580,226L589,226L612,225L621,224L639,221L656,220L676,225L689,228L705,222L718,221L732,226L755,222L765,225L787,228L797,226L819,226L831,221L851,222L863,224L879,227L894,220L913,225L931,226L947,228M1091,227L1106,223L1118,225L1136,223L1151,223L1169,227L1187,221L1198,224L1217,223L1229,221L1247,224L1268,227M95,241L111,240L129,239L141,237L163,240L173,243L190,237L208,238L224,240L238,241L253,240L273,236L287,236L303,243L320,242L338,237L356,242L365,243L383,237L404,241L418,237L434,236L446,239L460,241L478,238L498,239L515,241L531,241L548,243L557,242L575,242L594,243L605,239L626,244L642,236L657,237L672,243L685,244L705,238L717,240L739,241L749,236L765,243L781,240L798,242L815,237L835,240L850,243L868,236L879,237L896,243L915,236L925,243L946,239M1072,241L1087,239L1100,241L1119,236L1136,244L1148,237L1169,238L1182,240L1198,241L1216,244L1236,236L1249,242L1267,242M80,255L94,254L111,253L124,259L144,256L161,254L173,252L190,254L210,256L228,255L244,257L252,253L273,260L287,258L303,259L316,256L339,254L350,252L365,254L386,254L399,253L417,259L433,253L450,260L465,252L483,259L495,253L509,256L531,257L548,254L559,258L577,255L594,255L604,255L620,257L639,256L657,254L672,252L692,257L708,252L721,258L735,253L749,253L770,253L787,255L800,257L816,257L833,255L850,254L866,258L882,254L898,260L912,254L928,260L941,252M1056,253L1076,255L1085,253L1106,260L1117,252L1138,254L1156,256L1169,255L1187,256L1199,259L1213,258L1228,257M82,275L94,271L112,275L125,274L145,272L161,275L174,275L191,274L211,269L227,276L238,268L253,276L268,275L285,274L301,269L322,269L335,276L354,275L372,268L382,274L402,268L416,270L431,269L444,276L462,275L477,272L493,271L509,274L525,274L544,269L559,272L580,271L590,276L611,274L622,269L638,268L652,272L671,272L687,268L706,273L720,272L738,276L755,274L767,270L783,276L799,271L815,269L836,268L849,276L862,273L879,270L893,269L915,274L931,268L946,271L961,272M1058,271L1074,271L1088,273L1105,271L1121,272L1134,273L1150,275L1168,274L1184,272L1198,269L1220,272M82,288L96,291L114,285L130,287L144,286L159,287L175,284L189,289L204,285L226,286L239,286L259,285L273,291L285,287L306,289L319,284L336,287L354,286L367,289L387,287L399,289L420,285L436,290L447,289L463,284L482,287L496,288L515,290L524,289L544,288L563,287L576,291L591,288L608,291L625,290L639,284L658,288L674,290L685,286L700,291L717,285L738,289L748,290L770,288L780,290L799,289L820,291L835,285L847,288L860,292L878,286L894,286L915,288L928,287L940,286L963,291L979,286M1024,288L1041,287L1059,285L1076,288L1084,286L1104,287L1121,287L1134,290L1150,290L1171,289L1184,292L1200,291L1212,287L1233,284M62,307L82,301L92,306L108,307L126,302L145,302L161,301L179,303L195,301L211,308L223,300L239,305L254,304L269,304L290,303L306,301L323,301L340,308L356,304L366,303L386,304L404,301L416,307L433,304L445,301L462,307L483,302L500,300L513,308L527,308L545,300L559,304L574,306L589,306L606,300L624,301L640,306L657,304L668,304L685,305L701,305L719,303L737,301L749,308L767,307L787,304L797,301L819,301L832,304L845,304L861,304L880,303L893,303L910,301L926,307L944,307L956,308L976,306M1006,306L1021,302L1036,303L1056,302L1075,301L1089,302L1105,306L1122,300L1134,305L1156,300L1169,306L1187,303L1203,304L1220,300L1236,303M67,322L77,322L95,317L116,321L130,317L147,324L163,322L179,323L193,319L211,322L227,318L244,320L260,317L276,322L286,323L302,317L320,318L336,323L354,322L367,322L386,322L404,323L415,317L433,323L447,321L467,322L476,320L492,317L515,319L529,320L543,318L559,323L577,318L589,318L610,320L625,323L637,322L652,323L669,318L692,319L702,323L721,323L735,320L756,320L772,317L787,317L800,316L813,324L832,323L846,319L861,320L883,320L895,324L915,321L924,321L944,324L959,321L977,319M1011,320L1023,324L1036,323L1058,320L1072,322L1091,322L1106,316L1119,317L1140,323L1149,321L1169,316L1183,322L1201,318L1218,318L1232,319M62,335L84,340L93,334L116,333L126,335L141,334L159,335L180,334L190,339L208,339L225,338L238,333L258,336L272,337L290,334L303,340L320,334L337,334L354,332L371,337L383,340L398,334L412,336L434,337L447,339L461,334L481,340L497,338L514,335L532,338L543,335L563,335L573,339L592,336L609,339L621,335L636,335L656,339L673,337L687,337L702,339L722,339L733,337L754,336L771,339L786,339L801,339L813,338L834,337L846,332L865,339L878,334L894,333L913,340L931,335L946,332L963,335L972,337L989,334L1004,336L1024,339L1036,339L1053,334L1073,335L1087,337L1102,338L1118,339L1139,336L1148,338L1164,336L1183,332L1201,338L1217,335L1232,337M61,354L77,350L97,354L116,354L132,356L146,354L156,350L172,355L194,353L206,351L221,353L244,350L252,349L271,355L291,352L301,349L317,354L336,356L355,354L368,355L381,349L401,352L414,350L428,355L450,356L468,351L482,351L499,355L509,348L526,353L543,348L563,354L576,348L595,352L604,351L625,355L640,353L654,350L675,351L685,353L701,349L720,353L737,354L751,348L770,348L784,351L801,354L814,353L834,352L845,355L865,348L878,356L894,351L914,355L929,354L940,349L964,355L972,348L990,356L1006,353L1028,353L1044,350L1053,348L1074,349L1092,354L1101,355L1117,352L1133,354L1155,355L1164,355L1184,355L1200,353M63,366L82,365L97,372L114,364L124,365L146,369L160,368L175,369L193,371L210,370L227,371L242,364L258,371L271,371L285,372L304,370L318,366L335,367L349,368L372,369L388,370L403,372L418,366L430,367L444,366L467,372L479,370L498,371L514,368L525,371L542,369L559,368L580,365L592,369L608,372L623,371L642,372L653,366L670,371L684,366L706,372L717,367L738,370L754,370L766,366L780,370L798,366L820,369L833,369L849,370L862,364L876,364L895,365L909,368L932,370L942,370L957,365L974,367L994,368L1010,365L1028,367L1043,364L1059,366L1075,371L1089,366L1100,365L1123,365L1137,369L1153,365L1165,365M67,380L81,387L94,380L111,381L128,386L141,381L160,381L174,383L189,380L207,384L228,384L236,382L258,385L275,388L291,381L308,384L318,381L339,382L348,382L372,384L386,380L400,382L414,385L431,381L452,384L461,380L481,384L492,384L514,384L526,384L545,385L557,387L580,386L595,383L611,381L622,385L643,380L654,380L671,381L685,386L705,388L719,386L732,388L750,384L768,388L784,388L801,382L819,381L836,384L846,388L863,383L879,385L892,383L909,387L924,385L942,384L961,386L973,382L989,388L1005,381L1024,385L1043,380L1054,381L1073,384L1087,387L1105,387L1124,382L1140,383L1148,387L1165,380M65,400L81,403L92,400L113,402L129,397L148,402L158,399L180,398L191,404L211,398L226,399L241,402L253,398L270,398L284,397L303,399L316,401L340,401L351,402L367,397L384,396L401,397L415,404L434,403L449,401L466,404L477,402L494,398L515,401L531,403L545,397L556,400L578,398L588,396L605,402L620,398L638,402L660,396L669,404L692,397L703,400L718,399L736,398L748,397L765,397L785,402L798,402L818,399L832,397L852,401L860,397L882,399L898,398L914,403L925,401L941,402L963,402L974,397L993,401L1005,397L1025,397L1041,398L1054,399L1072,402L1084,402L1102,398L1121,402L1137,403L1150,398L1169,398M81,414L94,416L114,418L127,416L148,420L161,413L176,417L190,412L212,419L221,416L241,414L252,418L274,415L285,415L301,420L316,414L338,413L349,412L365,416L387,413L397,418L415,415L429,414L452,413L462,418L483,419L496,420L513,414L528,418L546,413L557,420L573,419L591,414L606,416L628,413L643,414L653,418L671,413L687,419L707,417L716,418L737,419L756,415L771,419L782,415L799,415L815,413L830,419L847,417L867,418L878,420L899,420L914,418L931,414L945,415L963,413L976,415L995,415L1011,419L1027,413L1044,418L1057,417L1068,419L1088,416L1103,418L1122,419L1134,415L1150,413M77,435L92,433L111,434L127,429L144,435L162,431L174,434L195,430L211,436L223,431L242,436L253,430L271,434L285,432L304,433L317,436L340,433L354,429L371,432L386,435L399,436L414,428L432,435L451,436L464,436L481,429L497,435L511,433L526,430L543,432L560,429L572,431L594,434L606,430L624,429L641,435L653,433L674,434L690,434L702,435L724,428L740,432L749,428L770,433L781,432L801,436L815,434L830,429L845,431L865,430L877,430L893,429L910,432L925,432L943,436L960,436L976,429L993,429L1005,428L1026,436L1039,431L1055,431L1074,431L1085,435L1105,428L1123,434L1135,433L1156,431M82,446L95,447L111,451L128,446L143,451L157,450L172,445L188,451L205,446L220,446L242,450L259,452L272,452L285,452L303,445L322,451L335,445L355,450L369,452L380,444L397,444L418,449L429,445L445,449L465,452L479,452L495,447L510,446L532,452L546,445L557,445L575,450L588,448L610,444L623,450L641,448L659,449L671,447L692,451L707,449L717,445L735,450L748,451L770,448L780,451L799,449L817,450L831,452L852,452L865,446L879,446L899,450L914,451L932,450L942,450L958,449L973,451L992,446L1012,444L1028,450L1037,450L1057,451L1073,447L1092,445L1106,445L1118,445L1139,448L1154,446M93,467L115,460L128,464L146,466L159,468L173,461L195,461L205,464L223,461L244,464L258,462L275,462L291,465L308,466L321,464L339,464L349,467L371,466L386,462L400,467L420,468L429,466L448,463L461,461L480,464L494,463L512,466L529,461L547,463L564,468L573,465L596,463L608,462L620,462L637,462L657,465L676,466L687,468L705,464L723,465L735,465L750,468L766,468L780,460L800,462L816,461L835,465L850,468L868,465L882,460L892,463L916,462L929,460L943,467L961,467L972,462L989,467L1005,468L1022,467L1040,463L1060,463L1074,460L1091,468L1101,466L1118,461L1135,465M96,480L116,481L125,476L140,479L157,481L175,478L192,484L206,477L222,479L243,482L255,477L268,477L291,481L301,481L316,480L335,477L354,482L368,477L385,479L401,477L419,476L430,479L445,477L466,484L479,478L497,478L511,482L527,477L540,480L564,484L573,480L592,477L609,480L627,478L644,483L656,477L672,477L690,482L705,484L716,482L739,477L751,476L769,482L783,482L799,482L814,484L831,476L845,482L867,481L877,483L898,477L911,481L924,476L943,483L964,478L979,482L995,481L1012,481L1028,481L1037,480L1056,479L1071,480L1089,478L1102,480L1120,479L1137,477L1152,478M99,494L111,493L130,498L144,495L158,496L178,499L195,499L207,495L222,500L237,493L254,500L275,495L291,499L303,493L322,495L333,499L351,495L369,494L380,495L399,492L415,498L431,498L449,493L460,497L481,494L493,499L515,494L529,497L543,492L559,497L577,496L589,494L606,495L623,499L637,500L654,499L670,497L687,492L706,499L718,498L736,500L748,495L766,497L786,499L800,495L819,493L830,498L847,500L861,496L878,492L893,493L911,495L928,494L946,496L964,493L976,496L991,499L1006,499L1023,495L1041,497L1054,493L1076,495L1085,497L1104,495L1119,499L1135,495L1156,495M98,512L113,514L129,510L144,515L161,514L175,512L196,515L209,509L225,508L244,516L258,510L275,509L291,512L300,515L319,515L338,512L355,510L371,511L380,511L396,508L417,509L429,510L446,516L467,515L484,511L498,510L516,515L530,510L541,516L560,513L579,509L594,512L610,512L621,516L638,514L659,510L674,511L686,510L708,511L720,512L732,514L754,515L767,510L783,514L801,511L816,509L836,512L848,514L861,514L879,515L893,510L913,512L927,513L942,511L956,515L974,515L992,513L1009,509L1026,510L1043,514L1057,515L1071,513L1092,509L1101,511L1120,509L1134,515L1151,509M94,525L112,526L126,528L143,530L162,525L174,524L191,525L210,530L228,526L236,530L255,532L271,526L284,532L304,528L319,530L339,528L349,527L371,527L385,529L400,529L414,528L435,524L447,531L468,524L481,529L499,528L509,526L530,530L542,529L561,529L572,528L591,529L607,525L625,526L642,526L656,531L669,530L684,532L700,530L719,525L735,528L751,525L768,526L788,527L799,526L820,527L833,531L847,530L862,525L876,528L899,526L912,530L926,525L944,527L964,531L974,529L991,524L1008,531L1022,529L1042,524L1060,525L1070,530L1084,527L1101,528L1116,525L1134,524L1149,525M132,547L148,548L158,547L177,542L196,545L211,544L220,547L237,542L257,541L272,546L285,545L301,544L321,546L332,541L356,543L367,543L386,546L401,543L417,544L429,548L452,546L468,544L483,542L498,546L516,547L531,542L546,544L558,543L579,547L595,545L605,541L625,542L639,541L653,546L670,547L687,547L702,542L719,540L735,543L748,547L767,540L788,542L798,540L813,546L833,544L846,542L868,543L884,547L893,547L908,546L931,546L944,547L957,544L974,543L989,546L1009,546L1025,545L1044,547L1057,543L1076,543L1085,543L1106,548L1121,545L1140,546L1152,544M141,556L159,563L178,564L195,561L209,556L223,558L241,556L256,559L272,559L285,562L307,561L317,561L339,564L354,556L371,561L382,564L403,563L414,561L431,558L450,561L463,560L484,561L499,561L516,556L528,560L546,564L561,560L577,560L594,564L604,558L627,556L642,556L657,563L670,559L686,562L704,561L719,561L740,562L756,558L768,559L783,563L797,560L818,564L828,558L848,564L861,563L879,560L900,556L911,557L925,558L946,561L957,563L976,557L995,563L1006,564L1027,558L1036,563L1059,557L1074,562L1089,563L1108,559L1123,564M158,574L178,574L191,574L211,577L224,575L244,580L256,577L275,574L286,573L304,578L317,575L340,576L351,579L371,575L381,577L402,580L417,574L432,574L448,576L467,579L484,576L500,573L516,577L531,575L548,572L563,579L575,579L590,578L608,575L621,579L642,573L660,574L671,575L689,579L708,577L719,573L732,576L753,576L772,575L783,575L797,580L817,576L831,574L846,576L864,580L881,574L892,573L911,578L931,574L946,576L960,576L972,572L993,578L1007,580L1027,574L1036,576L1057,574L1068,576L1084,578L1105,574M160,588L178,590L192,588L206,593L226,593L240,594L257,590L272,593L290,589L302,591L317,591L338,593L349,594L365,594L381,589L398,592L414,595L436,590L450,594L465,590L484,596L492,591L510,589L527,595L540,595L558,588L579,590L590,589L607,589L621,590L641,592L654,592L674,594L687,596L706,593L720,591L733,595L753,589L772,595L780,594L798,592L819,591L832,593L845,593L863,596L877,594L892,590L909,589L928,589L946,589L961,595L973,590L994,592L1012,591L1023,596L1039,596L1059,589L1072,596L1085,595L1106,594M159,612L172,607L188,612L205,612L227,610L236,610L256,608L269,608L291,605L307,607L318,606L336,609L353,611L368,608L388,606L396,607L414,605L431,604L452,608L467,610L482,610L494,610L510,608L529,610L541,607L563,611L580,605L590,605L610,610L625,610L640,609L660,609L673,609L688,610L705,605L719,607L735,609L751,607L767,607L788,605L796,610L815,608L833,607L846,604L867,612L878,608L895,604L915,611L926,606L946,610L960,607L974,611L995,611L1005,609L1028,610L1040,605L1052,610L1068,611L1089,608M239,622L253,627L271,626L288,624L302,621L319,626L336,620L354,623L364,622L382,627L400,623L414,622L430,623L450,626L466,627L481,621L492,621L510,624L531,625L543,622L564,626L575,620L596,622L611,621L625,623L643,622L653,621L675,628L689,626L702,622L717,628L732,625L751,621L767,628L782,621L801,625L816,621L835,621L845,622L864,624L880,626L899,624L908,627L924,622L941,625L962,621L974,627L994,621L1010,626L1023,621L1041,622L1053,621L1071,621M257,641L275,642L292,636L300,638L322,637L336,642L349,640L371,642L383,640L398,644L418,642L430,642L448,643L463,643L482,640L497,643L512,644L524,643L546,640L563,637L575,642L595,639L612,641L620,637L636,641L655,638L672,636L691,643L704,640L718,641L735,644L756,642L771,636L781,639L797,639L820,643L836,638L846,636L862,636L880,638L897,641L913,638L930,642L946,640L960,638L972,640L993,637L1011,643L1027,643L1040,637L1054,642M269,659L284,656L305,653L324,655L333,655L353,655L364,653L386,653L398,659L419,659L429,652L450,657L463,652L479,654L497,660L510,652L530,653L542,655L564,655L574,656L589,655L610,655L626,653L637,657L656,660L669,658L689,655L701,657L722,656L736,658L753,655L765,656L784,659L804,656L815,654L833,658L846,658L868,655L884,655L897,659L910,655L932,652L942,656L962,657L980,657L988,652L1004,655L1020,656L1041,653L1059,655M308,668L319,669L340,672L354,672L370,671L383,674L402,675M414,675L434,673L447,673L460,669L478,669L492,674L514,673L526,674L547,673L558,673L575,670L589,675L609,676L621,670L640,668L654,672L672,675L689,673L705,674L719,668L740,674L749,669L766,673L781,668L800,668L814,671L830,668L846,670L863,671L879,671L892,675L914,672L924,670L947,672L958,675L979,669L992,673L1005,670L1025,673L1041,673L1055,668M432,684L445,688L463,688L480,687L493,684L512,692L526,687L542,690L560,690L572,685L590,687L607,687L628,687L641,692L657,689L675,687L684,692L704,689L716,690L735,689L750,692L767,686L787,686L798,688L820,685L830,690L844,687L866,690L882,685L899,687L915,688L931,688L942,685L960,684L973,691L993,691L1005,688L1024,685L1038,692L1058,688M451,705L465,700L481,705L498,704L509,702L529,700L541,702L562,704L575,708L593,702L609,707L623,703L641,708L657,701L673,702L688,706L700,704L718,705L739,704L753,702L766,704L784,702L802,704L815,702L835,707L852,702L860,705L876,707L898,703L912,706L925,703L946,706L961,701L974,702L988,705L1009,708L1024,708L1040,704L1054,704L1076,704M448,717L466,717L478,723L497,720L514,720L527,720L540,719L556,724L579,721L589,723L606,723L625,721L642,718L659,720L674,723L686,719L703,716L723,722L736,720L755,716L767,722L784,720L798,718L817,719L836,723L852,718L864,717L879,716L896,724L914,719L926,724L940,723L963,716L980,721L991,719L1009,720L1027,723L1039,716L1058,721L1073,716L1084,723M461,733L481,735L499,734L510,733L525,738L545,734L563,737L575,737L593,736L605,735L628,735L641,733L658,739L671,735L688,734L702,733L722,736L740,740L755,740L771,732L781,740L803,737L817,735L831,733L848,734L861,739M990,733L1006,739L1022,737L1036,732L1058,736L1069,736L1092,735M479,749L493,752L515,755L525,754M547,752L563,749L575,752L594,752L606,755L623,751L638,752L658,751L673,752L684,756L702,752L724,750M749,755L768,748L782,752L797,750L819,752L830,753L845,752L865,749M995,753L1010,754L1022,753L1039,752L1056,753L1069,755L1085,750L1107,756M544,766L558,771L579,770L594,768L609,769L620,768L644,766L656,764L670,771L684,771L707,771M992,765L1011,765L1026,770L1038,768L1060,769L1071,772L1086,772L1102,767M562,786L573,782L590,783L608,782L628,786L639,786L660,781L673,788M990,783L1012,781L1025,780L1044,786L1059,786L1069,782L1084,784L1100,781M573,803L596,799L606,797L622,799L642,804L656,804M1011,802L1023,802L1037,801L1052,797L1069,799L1090,796L1107,797M573,818L592,813L611,812L621,816L644,813L654,818L671,820M1028,817L1041,820L1059,815L1069,820L1084,820L1108,817M589,836L609,832L620,830L639,833L653,832L670,833M1039,834L1060,836L1071,833L1085,833L1107,835M610,846L625,847L642,848L657,852L670,844M62,307L67,322L62,335L61,354L63,366L67,380L65,400M80,255L82,275L82,288L82,301L77,322L84,340L77,350L82,365L81,387L81,403L81,414L77,435L82,446M92,226L95,241L94,254L94,271L96,291L92,306L95,317L93,334L97,354L97,372L94,380L92,400L94,416L92,433L95,447L93,467L96,480L99,494L98,512L94,525M110,194L111,209L111,224L111,240L111,253L112,275L114,285L108,307L116,321L116,333L116,354L114,364L111,381L113,402L114,418L111,434L111,451L115,460L116,481L111,493L113,514L112,526M125,96L131,115L125,129L124,142L125,162L125,172L125,188L126,204L132,221L129,239L124,259L125,274L130,287L126,302L130,317L126,335L132,356L124,365L128,386L129,397L127,416L127,429L128,446L128,464L125,476L130,498L129,510L126,528L132,547M145,95L145,115L144,130L140,141L143,161L146,175L147,191L148,211L146,220L141,237L144,256L145,272L144,286L145,302L147,324L141,334L146,354L146,369L141,381L148,402L148,420L144,435L143,451L146,466L140,479L144,495L144,515L143,530L148,548L141,556M163,96L161,110L160,129L164,145L159,160L162,172L156,191L158,211L162,227L163,240L161,254L161,275L159,287L161,301L163,322L159,335L156,350L160,368L160,381L158,399L161,413L162,431L157,450L159,468L157,481L158,496L161,514L162,525L158,547L159,563L158,574L160,588L159,612M177,99L173,109L179,128L177,146L173,156L179,175L175,194L179,206L174,224L173,243L173,252L174,275L175,284L179,303L179,323L180,334L172,355L175,369L174,383L180,398L176,417L174,434L172,445L173,461L175,478L178,499L175,512L174,524L177,542L178,564L178,574L178,590L172,607M189,100L194,110L191,132L195,145L196,159L195,179L189,190L193,212L196,225L190,237L190,254L191,274L189,289L195,301L193,319L190,339L194,353L193,371L189,380L191,404L190,412L195,430L188,451L195,461L192,484L195,499L196,515L191,525L196,545L195,561L191,574L192,588L188,612M209,95L206,111L206,130L209,145L205,161L208,172L212,194L208,212L208,222L208,238L210,256L211,269L204,285L211,308L211,322L208,339L206,351L210,370L207,384L211,398L212,419L211,436L205,446L205,464L206,477L207,495L209,509L210,530L211,544L209,556L211,577L206,593L205,612M227,94L220,110L223,130L226,145L226,157L227,176L221,191L222,207L220,223L224,240L228,255L227,276L226,286L223,300L227,318L225,338L221,353L227,371L228,384L226,399L221,416L223,431L220,446L223,461L222,479L222,500L225,508L228,526L220,547L223,558L224,575L226,593L227,610M244,97L238,114L237,132L242,142L241,159L243,174L239,193L242,206L239,221L238,241L244,257L238,268L239,286L239,305L244,320L238,333L244,350L242,364L236,382L241,402L241,414L242,436L242,450L244,464L243,482L237,493L244,516L236,530L237,542L241,556L244,580L240,594L236,610L239,622M255,110L255,124L257,144L256,156L253,179L257,195L254,211L254,221L253,240L252,253L253,276L259,285L254,304L260,317L258,336L252,349L258,371L258,385L253,398L252,418L253,430L259,452L258,462L255,477L254,500L258,510L255,532L257,541L256,559L256,577L257,590L256,608L253,627L257,641M276,112L270,127L274,141L268,164L271,173L275,192L272,210L274,225L273,236L273,260L268,275L273,291L269,304L276,322L272,337L271,355L271,371L275,388L270,398L274,415L271,434L272,452L275,462L268,477L275,495L275,509L271,526L272,546L272,559L275,574L272,593L269,608L271,626L275,642L269,659M291,113L284,127L285,140L291,160L287,177L290,194L286,205L286,222L287,236L287,258L285,274L285,287L290,303L286,323L290,334L291,352L285,372L291,381L284,397L285,415L285,432L285,452L291,465L291,481L291,499L291,512L284,532L285,545L285,562L286,573L290,589L291,605L288,624L292,636L284,656M300,111L303,130L306,147L305,158L300,176L306,192L303,205L304,224L303,243L303,259L301,269L306,289L306,301L302,317L303,340L301,349L304,370L308,384L303,399L301,420L304,433L303,445L308,466L301,481L303,493L300,515L304,528L301,544L307,561L304,578L302,591L307,607L302,621L300,638L305,653L308,668M319,126L321,143L322,159L320,176L322,194L324,206L324,223L320,242L316,256L322,269L319,284L323,301L320,318L320,334L317,354L318,366L318,381L316,401L316,414L317,436L322,451L321,464L316,480L322,495L319,515L319,530L321,546L317,561L317,575L317,591L318,606L319,626L322,637L324,655L319,669M334,130L339,146L340,162L333,178L339,189L337,205L334,227L338,237L339,254L335,276L336,287L340,308L336,323L337,334L336,356L335,367L339,382L340,401L338,413L340,433L335,445L339,464L335,477L333,499L338,512L339,528L332,541L339,564L340,576L338,593L336,609L336,620L336,642L333,655L340,672M356,128L353,142L355,164L355,179L355,188L352,207L349,225L356,242L350,252L354,275L354,286L356,304L354,322L354,332L355,354L349,368L348,382L351,402L349,412L354,429L355,450L349,467L354,482L351,495L355,510L349,527L356,543L354,556L351,579L349,594L353,611L354,623L349,640L353,655L354,672M366,131L366,143L366,156L366,178L370,193L367,204L367,227L365,243L365,254L372,268L367,289L366,303L367,322L371,337L368,355L372,369L372,384L367,397L365,416L371,432L369,452L371,466L368,477L369,494L371,511L371,527L367,543L371,561L371,575L365,594L368,608L364,622L371,642L364,653L370,671M383,126L382,143L381,157L383,178L384,196L381,211L384,226L383,237L386,254L382,274L387,287L386,304L386,322L383,340L381,349L388,370L386,380L384,396L387,413L386,435L380,444L386,462L385,479L380,495L380,511L385,529L386,546L382,564L381,577L381,589L388,606L382,627L383,640L386,653L383,674M401,148L397,156L396,179L401,191L399,206L397,225L404,241L399,253L402,268L399,289L404,301L404,323L398,334L401,352L403,372L400,382L401,397L397,418L399,436L397,444L400,467L401,477L399,492L396,508L400,529L401,543L403,563L402,580L398,592L396,607L400,623L398,644L398,659L402,675M412,145L416,163L420,176L418,195L413,206L417,224L418,237L417,259L416,270L420,285L416,307L415,317L412,336L414,350L418,366L414,385L415,404L415,415L414,428L418,449L420,468L419,476L415,498L417,509L414,528L417,544L414,561L417,574L414,595L414,605L414,622L418,642L419,659L414,675M428,141L432,164L432,176L433,191L430,204L434,227L434,236L433,253L431,269L436,290L433,304L433,323L434,337L428,355L430,367L431,381L434,403L429,414L432,435L429,445L429,466L430,479L431,498L429,510L435,524L429,548L431,558L432,574L436,590L431,604L430,623L430,642L429,652L434,673L432,684M451,145L451,156L448,172L448,192L449,207L445,222L446,239L450,260L444,276L447,289L445,301L447,321L447,339L450,356L444,366L452,384L449,401L452,413L451,436L445,449L448,463L445,477L449,493L446,516L447,531L452,546L450,561L448,576L450,594L452,608L450,626L448,643L450,657L447,673L445,688L451,705L448,717M468,144L465,159L468,174L466,190L461,210L463,222L460,241L465,252L462,275L463,284L462,307L467,322L461,334L468,351L467,372L461,380L466,404L462,418L464,436L465,452L461,461L466,484L460,497L467,515L468,524L468,544L463,560L467,579L465,590L467,610L466,627L463,643L463,652L460,669L463,688L465,700L466,717L461,733M476,143L477,164L477,173L479,192L477,206L476,222L478,238L483,259L477,272L482,287L483,302L476,320L481,340L482,351L479,370L481,384L477,402L483,419L481,429L479,452L480,464L479,478L481,494L484,511L481,529L483,542L484,561L484,576L484,596L482,610L481,621L482,640L479,654L478,669L480,687L481,705L478,723L481,735L479,749M497,148L494,161L494,179L495,191L499,205L493,226L498,239L495,253L493,271L496,288L500,300L492,317L497,338L499,355L498,371L492,384L494,398L496,420L497,435L495,447L494,463L497,478L493,499L498,510L499,528L498,546L499,561L500,573L492,591L494,610L492,621L497,643L497,660L492,674L493,684L498,704L497,720L499,734L493,752M516,144L513,164L508,173L514,195L512,211L512,221L515,241L509,256L509,274L515,290L513,308L515,319L514,335L509,348L514,368L514,384L515,401L513,414L511,433L510,446L512,466L511,482L515,494L516,515L509,526L516,547L516,556L516,577L510,589L510,608L510,624L512,644L510,652L514,673L512,692L509,702L514,720L510,733L515,755M527,141L529,159L530,173L528,192L531,205L527,224L531,241L531,257L525,274L524,289L527,308L529,320L532,338L526,353L525,371L526,384L531,403L528,418L526,430L532,452L529,461L527,477L529,497L530,510L530,530L531,542L528,560L531,575L527,595L529,610L531,625L524,643L530,653L526,674L526,687L529,700L527,720L525,738L525,754M544,157L540,177L541,190L543,210L543,221L548,243L548,254L544,269L544,288L545,300L543,318L543,335L543,348L542,369L545,385L545,397L546,413L543,432L546,445L547,463L540,480L543,492L541,516L542,529L546,544L546,564L548,572L540,595L541,607L543,622L546,640L542,655L547,673L542,690L541,702L540,719L545,734L547,752L544,766M564,164L561,176L557,193L559,212L556,220L557,242L559,258L559,272L563,287L559,304L559,323L563,335L563,354L559,368L557,387L556,400L557,420L560,429L557,445L564,468L564,484L559,497L560,513L561,529L558,543L561,560L563,579L558,588L563,611L564,626L563,637L564,655L558,673L560,690L562,704L556,724L563,737L563,749L558,771L562,786M574,156L578,173L577,189L574,212L580,226L575,242L577,255L580,271L576,291L574,306L577,318L573,339L576,348L580,365L580,386L578,398L573,419L572,431L575,450L573,465L573,480L577,496L579,509L572,528L579,547L577,560L575,579L579,590L580,605L575,620L575,642L574,656L575,670L572,685L575,708L579,721L575,737L575,752L579,770L573,782L573,803L573,818M590,159L595,178L596,191L592,206L589,226L594,243L594,255L590,276L591,288L589,306L589,318L592,336L595,352L592,369L595,383L588,396L591,414L594,434L588,448L596,463L592,477L589,494L594,512L591,529L595,545L594,564L590,578L590,589L590,605L596,622L595,639L589,655L589,675L590,687L593,702L589,723L593,736L594,752L594,768L590,783L596,799L592,813L589,836M611,163L604,173L611,195L608,205L612,225L605,239L604,255L611,274L608,291L606,300L610,320L609,339L604,351L608,372L611,381L605,402L606,416L606,430L610,444L608,462L609,480L606,495L610,512L607,525L605,541L604,558L608,575L607,589L610,610L611,621L612,641L610,655L609,676L607,687L609,707L606,723L605,735L606,755L609,769L608,782L606,797L611,812L609,832L610,846M627,156L624,176L628,190L626,206L621,224L626,244L620,257L622,269L625,290L624,301L625,323L621,335L625,355L623,371L622,385L620,398L628,413L624,429L623,450L620,462L627,478L623,499L621,516L625,526L625,542L627,556L621,579L621,590L625,610L625,623L620,637L626,653L621,670L628,687L623,703L625,721L628,735L623,751L620,768L628,786L622,799L621,816L620,830L625,847M642,162L638,173L639,195L643,209L639,221L642,236L639,256L638,268L639,284L640,306L637,322L636,335L640,353L642,372L643,380L638,402L643,414L641,435L641,448L637,462L644,483L637,500L638,514L642,526L639,541L642,556L642,573L641,592L640,609L643,622L636,641L637,657L640,668L641,692L641,708L642,718L641,733L638,752L644,766L639,786L642,804L644,813L639,833L642,848M657,164L655,173L652,188L655,206L656,220L657,237L657,254L652,272L658,288L657,304L652,323L656,339L654,350L653,366L654,380L660,396L653,418L653,433L659,449L657,465L656,477L654,499L659,510L656,531L653,546L657,563L660,574L654,592L660,609L653,621L655,638L656,660L654,672L657,689L657,701L659,720L658,739L658,751L656,764L660,781L656,804L654,818L653,832L657,852M668,146L668,157L673,179L673,192L673,206L676,225L672,243L672,252L671,272L674,290L668,304L669,318L673,337L675,351L670,371L671,381L669,404L671,413L674,434L671,447L676,466L672,477L670,497L674,511L669,530L670,547L670,559L671,575L674,594L673,609L675,628L672,636L669,658L672,675L675,687L673,702L674,723L671,735L673,752L670,771L673,788M671,820L670,833L670,844M690,147L690,164L685,177L692,194L691,205L689,228L685,244L692,257L687,268L685,286L685,305L692,319L687,337L685,353L684,366L685,386L692,397L687,419L690,434L692,451L687,468L690,482L687,492L686,510L684,532L687,547L686,562L689,579L687,596L688,610L689,626L691,643L689,655L689,673L684,692L688,706L686,719L688,734L684,756L684,771M706,141L705,158L706,173L704,196L704,208L705,222L705,238L708,252L706,273L700,291L701,305L702,323L702,339L701,349L706,372L705,388L703,400L707,417L702,435L707,449L705,464L705,484L706,499L708,511L700,530L702,542L704,561L708,577L706,593L705,605L702,622L704,640L701,657L705,674L704,689L700,704L703,716L702,733L702,752L707,771M721,162L723,180L720,192L718,210L718,221L717,240L721,258L720,272L717,285L719,303L721,323L722,339L720,353L717,367L719,386L718,399L716,418L724,428L717,445L723,465L716,482L718,498L720,512L719,525L719,540L719,561L719,573L720,591L719,607L717,628L718,641L722,656L719,668L716,690L718,705L723,722L722,736L724,750M733,159L735,175L738,191L735,209L732,226L739,241L735,253L738,276L738,289L737,301L735,320L733,337L737,354L738,370L732,388L736,398L737,419L740,432L735,450L735,465L739,477L736,500L732,514L735,528L735,543L740,562L732,576L733,595L735,609L732,625L735,644L736,658L740,674L735,689L739,704L736,720L740,740M755,176L751,193L753,206L755,222L749,236L749,253L755,274L748,290L749,308L756,320L754,336L751,348L754,370L750,384L748,397L756,415L749,428L748,451L750,468L751,476L748,495L754,515L751,525L748,547L756,558L753,576L753,589L751,607L751,621L756,642L753,655L749,669L750,692L753,702L755,716L755,740L749,755M767,180L767,196L767,205L765,225L765,243L770,253L767,270L770,288L767,307L772,317L771,339L770,348L766,366L768,388L765,397L771,419L770,433L770,448L766,468L769,482L766,497L767,510L768,526L767,540L768,559L772,575L772,595L767,607L767,628L771,636L765,656L766,673L767,686L766,704L767,722L771,732L768,748M786,175L785,192L781,211L787,228L781,240L787,255L783,276L780,290L787,304L787,317L786,339L784,351L780,370L784,388L785,402L782,415L781,432L780,451L780,460L783,482L786,499L783,514L788,527L788,542L783,563L783,575L780,594L788,605L782,621L781,639L784,659L781,668L787,686L784,702L784,720L781,740L782,752M798,175L797,191L798,209L797,226L798,242L800,257L799,271L799,289L797,301L800,316L801,339L801,354L798,366L801,382L798,402L799,415L801,436L799,449L800,462L799,482L800,495L801,511L799,526L798,540L797,560L797,580L798,592L796,610L801,625L797,639L804,656L800,668L798,688L802,704L798,718L803,737L797,750M815,193L813,209L819,226L815,237L816,257L815,269L820,291L819,301L813,324L813,338L814,353L820,369L819,381L818,399L815,413L815,434L817,450L816,461L814,484L819,493L816,509L820,527L813,546L818,564L817,576L819,591L815,608L816,621L820,643L815,654L814,671L820,685L815,702L817,719L817,735L819,752M833,195L831,208L831,221L835,240L833,255L836,268L835,285L832,304L832,323L834,337L834,352L833,369L836,384L832,397L830,419L830,429L831,452L835,465L831,476L830,498L836,512L833,531L833,544L828,558L831,574L832,593L833,607L835,621L836,638L833,658L830,668L830,690L835,707L836,723L831,733L830,753M852,192L846,204L851,222L850,243L850,254L849,276L847,288L845,304L846,319L846,332L845,355L849,370L846,388L852,401L847,417L845,431L852,452L850,468L845,482L847,500L848,514L847,530L846,542L848,564L846,576L845,593L846,604L845,622L846,636L846,658L846,670L844,687L852,702L852,718L848,734L845,752M862,206L863,224L868,236L866,258L862,273L860,292L861,304L861,320L865,339L865,348L862,364L863,383L860,397L867,418L865,430L865,446L868,465L867,481L861,496L861,514L862,525L868,543L861,563L864,580L863,596L867,612L864,624L862,636L868,655L863,671L866,690L860,705L864,717L861,739L865,749M877,210L879,227L879,237L882,254L879,270L878,286L880,303L883,320L878,334L878,356L876,364L879,385L882,399L878,420L877,430L879,446L882,460L877,483L878,492L879,515L876,528L884,547L879,560L881,574L877,594L878,608L880,626L880,638L884,655L879,671L882,685L876,707L879,716M894,207L894,220L896,243L898,260L893,269L894,286L893,303L895,324L894,333L894,351L895,365L892,383L898,398L899,420L893,429L899,450L892,463L898,477L893,493L893,510L899,526L893,547L900,556L892,573L892,590L895,604L899,624L897,641L897,659L892,675L899,687L898,703L896,724M913,225L915,236L912,254L915,274L915,288L910,301L915,321L913,340L914,355L909,368L909,387L914,403L914,418L910,432L914,451L916,462L911,481L911,495L913,512L912,530L908,546L911,557L911,578L909,589L915,611L908,627L913,638L910,655L914,672L915,688L912,706L914,719M931,226L925,243L928,260L931,268L928,287L926,307L924,321L931,335L929,354L932,370L924,385L925,401L931,414L925,432L932,450L929,460L924,476L928,494L927,513L926,525L931,546L925,558L931,574L928,589L926,606L924,622L930,642L932,652L924,670L931,688L925,703L926,724M947,228L946,239L941,252L946,271L940,286L944,307L944,324L946,332L940,349L942,370L942,384L941,402L945,415L943,436L942,450L943,467L943,483L946,496L942,511L944,527L944,547L946,561L946,576L946,589L946,610L941,625L946,640L942,656L947,672L942,685L946,706L940,723M961,272L963,291L956,308L959,321L963,335L964,355L957,365L961,386L963,402L963,413L960,436L958,449L961,467L964,478L964,493L956,515L964,531L957,544L957,563L960,576L961,595L960,607L962,621L960,638L962,657L958,675L960,684L961,701L963,716M979,286L976,306L977,319L972,337L972,348L974,367L973,382L974,397L976,415L976,429L973,451L972,462L979,482L976,496L974,515L974,529L974,543L976,557L972,572L973,590L974,611L974,627L972,640L980,657L979,669L973,691L974,702L980,721M989,334L990,356L994,368L989,388L993,401L995,415L993,429L992,446L989,467L995,481L991,499L992,513L991,524L989,546L995,563L993,578L994,592L995,611L994,621L993,637L988,652L992,673L993,691L988,705L991,719L990,733L995,753L992,765L990,783M1006,306L1011,320L1004,336L1006,353L1010,365L1005,381L1005,397L1011,419L1005,428L1012,444L1005,468L1012,481L1006,499L1009,509L1008,531L1009,546L1006,564L1007,580L1012,591L1005,609L1010,626L1011,643L1004,655L1005,670L1005,688L1009,708L1009,720L1006,739L1010,754L1011,765L1012,781L1011,802M1024,288L1021,302L1023,324L1024,339L1028,353L1028,367L1024,385L1025,397L1027,413L1026,436L1028,450L1022,467L1028,481L1023,495L1026,510L1022,529L1025,545L1027,558L1027,574L1023,596L1028,610L1023,621L1027,643L1020,656L1025,673L1024,685L1024,708L1027,723L1022,737L1022,753L1026,770L1025,780L1023,802L1028,817M1041,287L1036,303L1036,323L1036,339L1044,350L1043,364L1043,380L1041,398L1044,418L1039,431L1037,450L1040,463L1037,480L1041,497L1043,514L1042,524L1044,547L1036,563L1036,576L1039,596L1040,605L1041,622L1040,637L1041,653L1041,673L1038,692L1040,704L1039,716L1036,732L1039,752L1038,768L1044,786L1037,801L1041,820L1039,834M1056,253L1058,271L1059,285L1056,302L1058,320L1053,334L1053,348L1059,366L1054,381L1054,399L1057,417L1055,431L1057,451L1060,463L1056,479L1054,493L1057,515L1060,525L1057,543L1059,557L1057,574L1059,589L1052,610L1053,621L1054,642L1059,655M1055,668L1058,688L1054,704L1058,721L1058,736L1056,753L1060,769L1059,786L1052,797L1059,815L1060,836M1072,241L1076,255L1074,271L1076,288L1075,301L1072,322L1073,335L1074,349L1075,371L1073,384L1072,402L1068,419L1074,431L1073,447L1074,460L1071,480L1076,495L1071,513L1070,530L1076,543L1074,562L1068,576L1072,596L1068,611L1071,621M1076,704L1073,716L1069,736L1069,755L1071,772L1069,782L1069,799L1069,820L1071,833M1091,227L1087,239L1085,253L1088,273L1084,286L1089,302L1091,322L1087,337L1092,354L1089,366L1087,387L1084,402L1088,416L1085,435L1092,445L1091,468L1089,478L1085,497L1092,509L1084,527L1085,543L1089,563L1084,578L1085,595L1089,608M1084,723L1092,735L1085,750L1086,772L1084,784L1090,796L1084,820L1085,833M1106,223L1100,241L1106,260L1105,271L1104,287L1105,306L1106,316L1102,338L1101,355L1100,365L1105,387L1102,398L1103,418L1105,428L1106,445L1101,466L1102,480L1104,495L1101,511L1101,528L1106,548L1108,559L1105,574L1106,594M1107,756L1102,767L1100,781L1107,797L1108,817L1107,835M1118,225L1119,236L1117,252L1121,272L1121,287L1122,300L1119,317L1118,339L1117,352L1123,365L1124,382L1121,402L1122,419L1123,434L1118,445L1118,461L1120,479L1119,499L1120,509L1116,525L1121,545L1123,564M1132,206L1136,223L1136,244L1138,254L1134,273L1134,290L1134,305L1140,323L1139,336L1133,354L1137,369L1140,383L1137,403L1134,415L1135,433L1139,448L1135,465L1137,477L1135,495L1134,515L1134,524L1140,546M1155,193L1153,205L1151,223L1148,237L1156,256L1150,275L1150,290L1156,300L1149,321L1148,338L1155,355L1153,365L1148,387L1150,398L1150,413L1156,431L1154,446M1152,478L1156,495L1151,509L1149,525L1152,544M1171,147L1166,157L1172,176L1169,189L1171,209L1169,227L1169,238L1169,255L1168,274L1171,289L1169,306L1169,316L1164,336L1164,355M1165,365L1165,380L1169,398M1183,132L1180,147L1183,164L1182,176L1184,192L1186,206L1187,221L1182,240L1187,256L1184,272L1184,292L1187,303L1183,322L1183,332L1184,355M1200,128L1203,147L1204,164L1200,173L1198,193L1199,210L1198,224L1198,241L1199,259L1198,269L1200,291L1203,304L1201,318L1201,338L1200,353M1219,124L1217,142L1213,158L1213,173L1216,196L1215,204L1217,223L1216,244L1213,258L1220,272L1212,287L1220,300L1218,318L1217,335M1234,129L1235,147L1235,156L1230,175L1233,191L1235,210L1229,221L1236,236L1228,257M1233,284L1236,303L1232,319L1232,337M1250,158L1246,174L1245,189L1246,204L1247,224L1249,242M1266,189L1267,209L1268,227L1267,242" fill="none" stroke="#fff" stroke-opacity="0.24" stroke-width="0.5"/>
<path fill="#6baed6" stroke="#6baed6" stroke-width="0.8" d="M285,132.4L253.4,124.6L181.3,106.2L179,120L177.5,135L171.5,150L168.4,156.7L172,140L176,130L170.8,127.6L141.7,112L138.8,122.7L141.2,144.6L140.5,154.3L136.8,168.8L136.3,172.5L136.2,173.1L136.3,173.2L146.5,177.3L156.3,193.1L161.1,199.2L170.8,200.9L185.4,204L197.5,207.7L219.4,206.5L233.9,207.7L270.4,214.5Z"/>
<path fill="#2171b5" d="M146.1,175.1L153.7,180.4L156.2,185L156.8,188.9L161.3,189.8L168.1,188.3L170,179.2L187.1,182.9L190.2,172.5L156.9,162.2L157.8,155.5L164.4,154L166.6,150.1L169.7,143.2L172,140.2L172,140L175.8,130.4L175.9,130L171.9,130.3L167.4,127.3L158.3,125L150.7,119.7L141.9,112.1L141.7,112L138.8,122.7L141.2,144.6L140.5,154.3L136.8,168.8L136.3,172.5Z"/>
<path fill="#c6dbef" d="M178.8,140.7L202.6,145.5L203.1,139.8L208.7,137.9L207.6,133.7L181.8,127Z"/>
<path fill="#deebf7" d="M173.2,152.4L181,156.9L187.1,160.7L193.9,163.7L194.7,155.4L203.1,151.6L202.6,145.5L178.8,140.7Z"/>
<path fill="#2171b5" d="M188.6,172.8L182.9,192.1L213.7,200.2L216.7,181.9L205.3,175.9L196.2,167.5L193.2,165.6Z"/>
<path fill="#08519c" d="M246.3,152.4L253.1,157.7L256.9,153.1L262.2,142.5L264.2,127.3L263.7,127.1L253.4,124.6L252.9,124.5Z"/>
<path fill="#2171b5" d="M262.2,142.5L256.9,153.1L258.4,156.9L263.7,158.4L269.1,162.2L271.3,156.1L280.4,158.4L285,132.4L265.8,127.7L264.2,127.3Z"/>
<path fill="#c6dbef" d="M236.4,179.7L228.8,180.4L228.1,182.7L254.6,188.8L258.4,175.9L263.7,160.7L258.4,156.9L253.1,157.7L243.3,153.1Z"/>
<path fill="#c6dbef" d="M259.2,212.3L260.4,212.6L269.8,214.4L269.8,203.2L262.2,202.4Z"/>
<path fill="#6baed6" stroke="#6baed6" stroke-width="0.8" d="M136.2,173.1L133.2,188.3L125.9,210.1L116.2,234.4L102.8,256.2L96.8,266L95.6,285.4L95.6,287.4L96.8,287.8L151.4,304L181.7,312.5L242.4,325.8L247.3,304L258.2,265.9L253.4,261.1L265.5,244.1L276.4,227.1L270.4,214.5L233.9,207.7L219.4,206.5L197.5,207.7L185.4,204L170.8,200.9L161.1,199.2L156.3,193.1L146.5,177.3L136.3,173.2Z"/>
<path fill="#2171b5" d="M146.1,188.9L150.7,191L155.9,193.2L155.9,192.5L148.7,180.9L146.1,181.9Z"/>
<path fill="#c6dbef" d="M172.7,209.3L175.7,213.8L178.8,209.3L180.7,203L173.9,201.6L170.4,201.4Z"/>
<path fill="#c6dbef" d="M184.8,216.8L190.2,219.9L194.7,224.4L196.2,218.4L199.3,212.3L198.7,207.6L197.5,207.7L193.8,206.6L188.6,207Z"/>
<path fill="#2171b5" d="M199.3,212.3L196.2,218.4L195.5,223.7L208.4,226.7L206.1,216.8L208.4,208L199.3,207.7Z"/>
<path fill="#c6dbef" d="M192.2,241.7L204.8,248.9L209.7,228.3L193.9,225.2Z"/>
<path fill="#2171b5" d="M109.4,245.4L102.8,256.2L96.8,266L95.6,285.4L95.6,287.4L96.8,287.8L121.1,295L121.1,275.7L129.5,273.7L151.4,265.9L150.2,261.1L134.4,251.4L124.7,239.2L116.2,237.3Z"/>
<path fill="#2171b5" d="M144.1,280.5L138.7,300.2L151.4,304L162.9,307.2L167.2,307.2L169.6,286.6L162.3,284.2L167.2,261.1L152.6,257.4Z"/>
<path fill="#6baed6" stroke="#6baed6" stroke-width="0.8" d="M95.6,287.4L95.6,304L82.2,323.4L79.8,333.1L85.9,347.7L82.2,374.4L89.5,401.1L98,413.3L96.8,430.2L100.4,435.1L105.3,444.8L100.4,454.5L106.5,471.5L115,493.4L116.2,512L118.6,519.3L136.8,524.1L144.1,526.6L156.3,538.7L163.5,550.8L173.2,555.7L179.3,572.7L181.7,589.7L238.8,597L243.7,592.1L241.2,584.8L244.9,577.5L250.9,563L259.4,555.7L257,548.4L253.4,531.4L238.8,512L161.1,393.8L181.7,312.5L151.4,304L96.8,287.8Z"/>
<path fill="#2171b5" d="M97.3,302.1L102.6,305.9L106.4,307.4L107.2,315L114,321L115.5,317.2L123.9,315.7L126.1,320.3L146.6,325.6L151.9,305.1L141.7,301.1L119.3,294.5L95.6,294.5L95.6,296.4Z"/>
<path fill="#2171b5" d="M104.9,356.7L105.7,368.8L120.1,372.6L123.1,371.9L123.9,359.7L130.7,359.7L139.8,354.4L141.3,347.6L130.7,344.6L118.6,342.3L107.9,341.5Z"/>
<path fill="#08306b" d="M108.7,376.4L110.2,383.3L121.6,385.5L123.1,372.6L105.2,369.1Z"/>
<path fill="#2171b5" d="M139.8,354.4L138.3,361.3L144.4,371.1L148.9,368.8L163.3,373.4L164.8,368.8L161,361.3L155,355.2L148.1,354.4L148.9,349.1L141.3,347.6Z"/>
<path fill="#2171b5" d="M122.4,381L123.1,387L127.7,392.4L133.7,385.5L135.3,381.7L141.3,376.4L142.1,373.4L130.7,378.7L122.4,376.4Z"/>
<path fill="#c6dbef" d="M128.4,392.4L135.3,394.6L141.3,391.6L147.4,390.8L152.7,393.1L161,391.6L162.6,381L155,379.5L148.9,376.4L141.3,377.2L133.7,381.7Z"/>
<path fill="#c6dbef" d="M89.7,396.2L97.3,400.7L105.7,404.5L112.5,400.7L111,387L104.9,388.6L100.3,382.5L84,381L86.2,389.2Z"/>
<path fill="#deebf7" d="M102.6,429.5L117,421.9L114,412.8L106.4,411.3L105.7,404.5L97.3,400.7L89.4,400.7L89.5,401.1L98,413.3L96.8,429.5Z"/>
<path fill="#2171b5" d="M155.7,407.5L161,411.3L165.6,413.6L166.4,405.3L163.3,399.2L157.3,400.7Z"/>
<path fill="#c6dbef" d="M96.4,411L98,413.3L96.8,430.2L97.6,431.2L102.8,431.2L105.8,435.8L110.3,442.6L114.9,444.1L121,442.6L117.2,435.8L117.9,423.7L120.2,408.5L96.7,408.5Z"/>
<path fill="#2171b5" d="M117.9,423.7L117.2,435.8L121,438.8L142.2,430.5L133.9,419.1L133.1,407L120.2,407Z"/>
<path fill="#08519c" d="M120.2,445.7L125.5,451.7L134.6,446.4L145.3,442.6L142.2,430.5L121,438.8Z"/>
<path fill="#2171b5" d="M130.1,462.4L126.3,470.7L132.4,478.3L133.1,482.8L148.3,485.9L149.8,482.8L153.6,466.1L167.3,463.9L180.2,466.1L180.9,458.6L176.4,447.2L171,438.8L166.5,433.5L158.9,438.8L145.3,444.1L134.6,446.4L125.5,451.7Z"/>
<path fill="#08306b" d="M150.6,476.8L149,485.9L182.4,494.2L183.2,481.3L180.2,466.1L167.3,463.9L153.6,466.1Z"/>
<path fill="#08519c" d="M134.6,490.4L141.5,501L143.7,510.2L148.3,514.7L155.9,517L183.9,523.1L190,496.5L182.4,494.2L149,485.9L133.1,482.8Z"/>
<path fill="#c6dbef" d="M180.9,458.6L183.2,481.3L182.4,494.2L190,496.5L233.3,505.6L194.6,447.9L175.6,444.1Z"/>
<path fill="#c6dbef" d="M117.2,498L115.7,504L116.2,512L117.9,517.2L130.1,522.3L131.7,522.7L136.8,524.1L138.8,524.8L140.7,525.3L143.7,510.2L141.5,501L134.6,490.4L133.1,482.8L108.4,476.3L115,493.4L115.1,495.3Z"/>
<path fill="#c6dbef" d="M170,554.1L173.2,555.7L174.7,559.8L176.6,562.2L181.2,557.4L172.8,546.3L166.8,550.1Z"/>
<path fill="#08306b" d="M205.8,592.8L238.3,596.9L239,596.8L243.7,592.1L242.1,587.4L241.9,587.3L241.8,586.6L241.2,584.8L241.6,584L241.1,578.1L210.8,571Z"/>
<path fill="#6baed6" stroke="#6baed6" stroke-width="0.8" d="M242.4,325.8L181.7,312.5L161.1,393.8L238.8,512L253.4,531.4L256,512L262,507L273,504L276.4,482.4L286.1,436.3L303.1,339.9Z"/>
<path fill="#c6dbef" d="M162.6,387.8L161.1,393.8L161.1,393.8L164.1,390.1L170.9,383.3L183.1,381L184.6,368.8L189.9,341.5L195.9,316.5L182,313Z"/>
<path fill="#2171b5" d="M169.4,390.1L174.7,399.2L173.2,408.3L176.2,415.9L178.2,419.7L184.6,429.5L197.5,429.5L206.6,421.9L199,404.5L187.6,399.2L184.6,393.1L183.1,381L174.7,385.5Z"/>
<path fill="#2171b5" d="M179.4,420.6L188.5,433.5L205.9,422.1L199.9,410L170.8,408.5L175.9,416.4Z"/>
<path fill="#c6dbef" d="M208.2,463.9L214.3,437.3L205.9,422.1L188.5,433.5Z"/>
<path fill="#2171b5" d="M199.9,410L205.9,422.1L214.3,437.3L208.2,463.9L231,498.8L242.4,441.9L261.8,445.2L264.8,429L249,411.4L199,404.5Z"/>
<path fill="#c6dbef" d="M238.3,353.3L254.6,356.2L254.6,385.3L251.4,410.8L265.5,423L265,432.2L286,436.7L286.1,436.3L303.1,340.1L240,325.8Z"/>
<path fill="#6baed6" stroke="#6baed6" stroke-width="0.8" d="M238.8,597L235.2,601.8L316.5,651.6L365,657.7L384,523L388.9,498.2L276.4,482.4L273,504L262,507L256,512L253.4,531.4L257,548.4L259.4,555.7L250.9,563L244.9,577.5L241.2,584.8L243.7,592.1Z"/>
<path fill="#2171b5" d="M274.3,501.1L273.3,502.3L273,504L271.4,504.4L269.7,506.4L268.3,505.3L262,507L256,512L253.4,531.4L257,548.4L257.1,548.8L260.6,554.2L269.7,558.8L278.1,557.3L287.9,507.9L304.6,501.9L309.1,487L276.4,482.4L275.9,485.8Z"/>
<path fill="#2171b5" d="M260.1,555.8L270,558.4L278.3,557.7L288.2,507.6L301.8,499.2L273.7,499.2L273,504L268.9,505.1L267.7,506.8L266.6,505.7L262,507L256,512L253.4,531.4L257,548.4L258.7,553.7Z"/>
<path fill="#2171b5" d="M341,544.4L337.3,569.4L328.9,564.8L319.8,562.6L316.8,567.1L319.8,568.6L322.1,583.8L330.4,603.5L363.1,603.5L363.1,591.4L356.2,593.7L354.7,589.9L364.6,533L361.5,532.2L366.1,495.8L349.4,492.8Z"/>
<path fill="#08306b" d="M361.5,532.2L364.6,533L354.7,589.9L356.2,593.7L362.3,591.4L373.7,587.6L387.3,498.5L366.1,495.5Z"/>
<path fill="#c6dbef" d="M270.5,603.5L298.6,603.5L300.1,593.7L313.7,595.9L314.5,589.9L325.9,589.9L322.1,583.8L319.8,574.7L303.1,570.9L300.1,573.9L275.8,567.1Z"/>
<path fill="#08306b" d="M248.5,609.9L266.9,621.2L272.8,585L259.1,582.8L259.1,579.7L253,578.2L248.5,584.3Z"/>
<path fill="#08306b" d="M250.5,589.5L246,590.3L244.2,596.2L238.7,597.2L235.2,601.8L267.1,621.3L273,584.2L259.3,581.9L259.3,579.2L253.3,578.1Z"/>
<path fill="#c6dbef" d="M269,609.3L296.3,613.9L299.3,593.4L313.7,596.4L315.3,589.6L326.6,590.3L322.1,582.8L320.6,574.4L303.9,570.6L300.1,573.7L277.3,566.8Z"/>
<path fill="#2171b5" d="M320.6,574.4L322.8,584.3L325.9,585L328.9,594.9L332.7,604L339.5,601L341,595.7L352.4,592.6L354.7,579.7L336.5,576.7L337.3,569.1L328.9,564.6L320.6,561.5L316.8,563.8Z"/>
<path fill="#2171b5" d="M337.3,569.1L336.5,576.7L354.7,579.7L352.4,592.6L354.7,592.6L356.2,587.3L360,559.2L339.5,559.2Z"/>
<path fill="#08306b" d="M356.2,587.3L354.7,592.6L356.2,594.1L363.1,591.1L366.8,588.1L374.1,588.8L378.3,563.4L378.9,559.2L360,559.2Z"/>
<path fill="#2171b5" d="M339.5,601L337.3,622.2L368.7,627.1L374.1,588.8L366.8,588.1L363.1,591.1L356.2,594.1L352.4,592.6L341,595.7Z"/>
<path fill="#08306b" d="M310.4,646.8L316.7,651.6L331.2,653.4L332.7,642.7L316.8,640.4Z"/>
<path fill="#6baed6" stroke="#6baed6" stroke-width="0.8" d="M365,657.7L388,660L388,649L426.5,648L427.4,649.6L510.2,654L521.2,526.6L521.2,512.7L388.9,498.2L384,523Z"/>
<path fill="#08519c" d="M398.5,568.9L420.5,571.2L424.3,561.3L420.5,549.9L422,531L415.9,525.7L418.2,508.2L422.8,503.7L398.5,500.3Z"/>
<path fill="#08519c" d="M379,565.6L420,570.9L423.7,561L420,548.9L421.5,530.7L416.2,529.2L418.4,507.9L421.5,504.1L388.9,498.3L384.7,519.6Z"/>
<path fill="#2171b5" d="M418.2,508.2L415.9,525.7L422,531L424.3,553.7L444,555.3L445.5,534.8L458.4,535.5L456.9,562.8L465.3,564.4L466.8,558.3L493.3,562.1L492.6,578L500.9,578.8L516.1,569.7L517.6,548.4L510.8,548.4L511.5,537.8L488.8,532.5L468.3,527.9L472.1,509L422.8,503.7Z"/>
<path fill="#c6dbef" d="M497.9,532.5L511.5,537.8L510.8,548.4L518.4,548.4L521.2,521.7L521.2,512.7L521.2,512.7L499.4,511.2Z"/>
<path fill="#2171b5" d="M420.5,571.2L408.3,570.4L406.1,601.5L398.5,602.3L398.5,623.5L435.7,623.5L434.9,600.8L444,599.3L447.8,584.8L437.9,582.6L437.9,565.9L424.3,561.3L420.5,562.1Z"/>
<path fill="#08519c" d="M437.9,582.6L463,584.8L465.3,564.4L444,562.1L437.9,565.9Z"/>
<path fill="#2171b5" d="M404.8,603.5L451.8,603.5L451.8,585.3L438.2,582.3L438.2,567.1L423.7,561L420,570.9L408.6,570.9Z"/>
<path fill="#08519c" d="M378.2,566.8L420,570.6L423,559.2L379,559.2Z"/>
<path fill="#2171b5" d="M405.5,602.5L398,601.7L401.7,626L410.8,627.5L408.8,648.5L426.5,648L427.4,649.6L427.6,649.6L431.3,645.7L434.4,618.4L435.9,605.5L445,601L447.3,585L438.2,583.5L438.2,577.5L420,570.9L407.8,571.4Z"/>
<path fill="#08306b" d="M387,649.2L388,649.3L388,649L408.8,648.5L410.8,628L397.2,626L389.3,628.3Z"/>
<path fill="#2171b5" d="M405.3,602L399.2,602.8L399.2,626.7L410.9,628.3L409.6,648.4L425,648L425,647.5L431.1,646.8L435.7,601.2L444,599.7L447.8,583.8L437.9,579.2L406.8,579.2Z"/>
<path fill="#08519c" d="M437.9,582.3L447.8,583.8L462.5,584.6L463,579.2L437.9,579.2Z"/>
<path fill="#2171b5" d="M468.3,650.1L494.8,652.5L494.8,626.3L470.6,624Z"/>
<path fill="#08519c" d="M496.4,625.5L494.1,636.9L494.8,652.5L505.1,653.7L510.2,654L511.7,637L513.5,610.3L498.6,608.8Z"/>
<path fill="#08306b" d="M600.1,174.2L612.7,174.2L612.7,187.8L600.1,187.8Z"/>
<path fill="#6baed6" d="M560,259.9L592.8,261.1L593.3,273.2L569.7,273.2L570.9,287.8L575.8,298.7L558.8,298.7Z"/>
<path fill="#08306b" d="M569.7,273.2L593.3,273.7L592.8,287.8L590.4,293.1L575.8,293.1L575.8,287.8L570.5,286.6Z"/>
<path fill="#6baed6" d="M589.1,246.5L589.9,258.7L561.2,257.4L568.5,255L578.2,252.6Z"/>
<path fill="#08306b" d="M535,321.5L553.5,321.5L553.5,340.9L535,340.9Z"/>
<path fill="#6baed6" d="M572.2,332.6L592.3,332.6L592.3,342.8L572.2,342.8Z"/>
<path fill="#c6dbef" d="M553.9,331.9L571.4,331.9L571.4,341.6L553.9,341.6Z"/>
<path fill="#6baed6" d="M591.6,310.1L611,311.3L609.8,328.3L606.1,329.5L603.7,323.4L592.8,323.4Z"/>
<path fill="#08519c" d="M607.4,310.8L619.5,310.8L619.5,318.1L607.4,318.1Z"/>
<path fill="#f7fbff" d="M592.8,324.6L606.1,324.6L606.1,344.1L592.8,344.1Z"/>
<path fill="#f7fbff" d="M621.9,318.6L638.9,318.6L638.9,330.7L621.9,330.7Z"/>
<path fill="#f7fbff" d="M623.1,176.1L641.3,176.1L641.3,188.3L623.1,188.3Z"/>
<path fill="#c6dbef" d="M642.6,176.1L655.9,176.1L655.9,188.3L642.6,188.3Z"/>
<path fill="#c6dbef" d="M584.3,184.6L597.6,184.6L597.6,205.2L584.3,205.2Z"/>
<path fill="#f7fbff" d="M641.3,213.3L651.1,213.3L651.1,225.9L641.3,225.9Z"/>
<path fill="#f7fbff" d="M521.2,246.5L541.8,246.5L541.8,256.2L521.2,256.2Z"/>
<path fill="#f7fbff" d="M638.9,242.9L653.5,242.9L653.5,261.1L638.9,261.1Z"/>
<path fill="#f7fbff" d="M620.7,251.4L638.9,251.4L638.9,261.1L620.7,261.1Z"/>
<path fill="#f7fbff" d="M585.5,290.2L604.9,290.2L604.9,299.9L585.5,299.9Z"/>
<path fill="#f7fbff" d="M612.2,291.4L624.3,291.4L624.3,304.8L612.2,304.8Z"/>
<path fill="#6baed6" d="M553.2,378.8L564.9,378.8L564.9,388.5L553.2,388.5Z"/>
<path fill="#08306b" d="M629.7,583.6L642.6,583.6L642.6,595.8L629.7,595.8Z"/>
<path fill="#08306b" d="M960.1,456.4L968.6,457.6L969.8,461.9L973.4,462.5L977.1,468.6L975.2,470.4L967.3,469.8L960.7,468.6L957.6,462.5Z"/>
<path fill="#08306b" d="M964.9,473.4L968.6,477.7L977.1,476.4L980.7,474L988,479.5L989.8,480.7L983.1,488L978.3,492.8L973.4,497.7L968.6,502.5L962.5,507.4L960.1,503.8L957.6,497.7L957,490.4L961.3,488L966.1,484.3L968.6,478.3L962.5,477.1L961.9,474.6Z"/>
<path fill="#08519c" d="M967.3,469.8L975.2,470.4L977.1,476.4L968.6,477.7Z"/>
<path fill="#08306b" d="M980.7,469.8L986.2,466.7L992.8,468L995.9,472.2L992.8,477.1L988,477.7L983.1,475.2Z"/>
<path fill="#08306b" d="M992.8,480.1L1004.4,480.1L1005,483.1L1000.1,486.8L995.3,485.6L991,481.3Z"/>
<path fill="#08306b" d="M989.8,481.3L995.3,486.2L992.8,489.8L988,493.4L983.1,495.9L980.1,492.8L983.1,488.6Z"/>
<path fill="#08306b" d="M1017.1,486.2L1022.6,483.7L1023.8,489.2L1020.8,492.8L1016.5,489.8Z"/>
<path fill="#08519c" d="M993.4,473.4L1000.1,471L1005,477.1L1004.4,480.1L992.8,480.1Z"/>
<path fill="#08519c" d="M949.1,491.6L956.4,491L957.6,497.7L956.4,500.7L949.7,496.5Z"/>
<path fill="#2171b5" d="M949.7,453.4L960.1,456.4L957.6,462.5L951.6,458.8Z"/>
<path fill="#2171b5" d="M956.4,444.3L966.1,443.1L968.6,447.9L961.3,450.3L957.6,449.1Z"/>
<path fill="#2171b5" d="M995.3,433.4L1005,435.8L1006.2,444.3L1009.8,447.9L1003.8,451.6L997.7,447.9L994.1,438.2Z"/>
<path fill="#2171b5" d="M1012.3,430.9L1020.8,429.1L1025,433.4L1023.2,439.4L1024.4,446.7L1019.5,451.6L1014.7,456.4L1007.4,455.2L1003.8,451.6L1009.8,447.9L1015.9,444.3L1017.1,439.4L1012.3,435.8Z"/>
<path fill="#08519c" d="M1003.8,447.3L1007.4,444.9L1011,448.5L1006.8,453.4L1002.5,451Z"/>
<path fill="#2171b5" d="M798.8,597.3L808.6,589.4L814.6,589.4L813.4,597.3L808.6,604.6L817.1,609.4L823.1,609.4L827.4,617.3L825.6,621.6L813.4,618.5L811,622.2L804.3,621L800.1,626.4L801.3,638.6L797.6,641L794.6,630.1L794,614.3Z"/>
<path fill="#08306b" d="M804.3,621L811,622.2L813.4,618.5L825.6,621.6L822.5,630.7L811,627.6L809.2,630.7L806.1,629.5Z"/>
<path fill="#2171b5" d="M806.1,630.1L811,627.9L821.9,631L818.3,636.7L811,641L805.5,638.6Z"/>
<path fill="#08306b" d="M772.1,631.3L792.2,630.7L793.4,636.1L794.6,642.2L787.9,641.6L783.1,639.8L778.2,642.8L774,638Z"/>
<path fill="#08519c" d="M774,643.4L783.1,640L794.6,642.4L798.8,647.1L796.4,654.3L786.7,652.5L786.1,664.7L789.1,664.1L786.7,673.8L778.2,679.8L775.8,668.9L767.3,658L769.1,650.7Z"/>
<path fill="#08306b" d="M786.7,652.5L793.4,651.9L794.6,656.8L789.1,664.1L786.1,664.7Z"/>
<path fill="#08306b" d="M796.4,658L804.9,651.9L804.9,667.7L800.1,668.9L793.4,667.1L792.2,662.8Z"/>
<path fill="#08306b" d="M787.3,676.8L797.6,677.4L798.2,685.3L786.7,685.3Z"/>
<path fill="#c6dbef" d="M813.4,638.6L823.1,631.3L828,631.9L828,638.6L837.7,639.8L837.7,648.3L829.2,649.5L828,654.3L817.1,654.9L817.1,648.3L818.3,643.4Z"/>
<path fill="#08306b" d="M881.4,627.6L891.1,627L891.7,636.7L883.2,637.3L881.4,641Z"/>
<path fill="#08519c" d="M883.2,637.3L891.7,636.7L893.5,632.5L897.2,641L896.6,649.5L888.7,648.3L881.4,644.6Z"/>
<path fill="#08306b" d="M881.4,644.6L888.7,648.3L896.6,649.5L896,655.6L879.6,655.6L879,650.7Z"/>
<path fill="#08306b" d="M896.6,641L899.6,639.2L906.9,642.2L907.5,649.5L898.4,650.7L896.6,647.1Z"/>
<path fill="#08306b" d="M867.4,655.6L880.2,653.1L882,658L881.4,666.5L876.5,671.3L874.1,675L872.9,667.7L869.9,661.6Z"/>
<path fill="#08519c" d="M864.4,625.2L869.9,621L873.5,625.8L870.5,634.9L866.8,631.3Z"/>
<path fill="#2171b5" d="M872.9,624L881.4,625.2L881.4,637.3L874.7,636.7Z"/>
<path fill="#2171b5" d="M874.7,589.4L885.6,589.4L889.3,598.5L883.8,607L877.8,599.7Z"/>
<path fill="#2171b5" d="M882,656.2L896,656.2L902.6,664.1L902.6,670.7L888.7,667.7L881.4,672.5L876.5,671.3L881.4,666.5Z"/>
<path fill="#2171b5" d="M837.7,618.5L858.9,617.3L858.9,637.3L848,637.3L848,627.6L837.7,627.6Z"/>
<path fill="#08306b" d="M564,741.2L576.7,741.9L593.7,742.1L593.7,753.7L576.9,753.7L576.1,766.4L569.4,755.5Z"/>
<path fill="#2171b5" d="M576.9,754L593.7,754.3L593.7,766.4L576.5,765.8Z"/>
<path fill="#c6dbef" d="M594.3,729.4L659.3,729.4L664.7,735.5L656.8,743.4L650.8,736.1L637.4,742.1L635,740.9L625.3,748.2L618.6,741.5L610.1,739.1L609.5,742.1L594.3,742.1Z"/>
<path fill="#deebf7" d="M609.5,754.9L620.7,755.3L620.4,771.3L609.2,771Z"/>
<path fill="#2171b5" d="M628.3,754.3L633.8,754.9L639.8,762.8L645.9,762.2L650.8,759.1L659.3,762.2L658.6,765.2L650.8,767L648.9,771.3L650.2,776.7L646.5,776.7L633.8,773.1L634.4,769.5Z"/>
<path fill="#2171b5" d="M672.6,746.4L682.3,741.5L689.6,751.2L670.8,762.2Z"/>
<path fill="#08306b" d="M609.5,771.9L633.8,773.1L630.1,778L630.1,784.6L627.7,785.2L627.1,794.3L616.2,794.3L612.5,791.3L608.9,791.3Z"/>
<path fill="#2171b5" d="M627.7,785.2L633.8,786.4L644.7,787.7L643.5,793.1L627.1,794.3Z"/>
<path fill="#08306b" d="M591.9,793.7L604,794.3L604,807.7L598.6,813.8L592.5,801.6Z"/>
<path fill="#08519c" d="M604.6,794.3L612.5,791.9L616.2,794.9L617.4,807.7L604,807.1Z"/>
<path fill="#08306b" d="M616.2,794.9L627.7,794.9L627.7,807.7L617.4,807.7Z"/>
<path fill="#08306b" d="M604,807.7L619.2,808.3L613.1,823.5L599.2,817.2L598.3,813.8Z"/>
<path fill="#2171b5" d="M619.2,808.3L627.7,808.3L628.3,813.8L631.3,817.4L631.3,828.9L620.4,827.7L613.1,823.5Z"/>
<path fill="#08306b" d="M628.9,813.8L642.3,814.4L644.1,818.6L639.8,821.7L632.5,820.4L628.9,817.4Z"/>
<path fill="#2171b5" d="M631.9,820.8L639.8,821.9L644.1,818.9L649.5,825.9L650.2,832L643.5,835L637.4,832L631.9,829.3Z"/>
<path fill="#6baed6" d="M627.7,794.9L643.5,793.7L644.1,813.8L628.9,813.8L627.7,807.7Z"/>
<path fill="#6baed6" d="M576.1,766.4L593.7,766.4L594.3,754.3L609.2,754.9L609.2,771.3L608.3,793.1L591.9,793.1L590.7,784.6L581.6,777.3Z"/>
<path fill="#6baed6" d="M426.6,647.5L440.2,649L439.2,664.2L432.6,659.7Z"/>
<path fill="#2171b5" d="M440.2,649L465.3,651.3L461.5,688.5L448.6,677.1L439.2,664.2Z"/>
<path fill="#c6dbef" d="M465.3,651.3L487.3,653.6L483.5,678.6L463,687Z"/>
<path fill="#deebf7" d="M463,687L483.5,678.6L497.1,692.3L488.8,698.4L463,690.8Z"/>
<path fill="#08306b" d="M462.7,690.5L488.8,698.4L488,716.6L467.5,716.6L466,701.4Z"/>
<path fill="#6baed6" d="M487.3,653.6L493.3,661.9L498.6,664.2L499.4,668.8L509.3,672.6L495.6,688.5L483.5,678.6Z"/>
<path fill="#c6dbef" d="M488.8,698.4L497.1,692.3L518.4,710.5L524.4,695.3L541.1,696.1L538.1,731.7L506.2,740.8L488,716.6Z"/>
<path fill="#6baed6" d="M495.6,688.5L509.3,672.6L521.4,677.1L525.9,683.2L536.6,686.2L541.1,696.1L524.4,695.3L518.4,710.5Z"/>
<path fill="#c6dbef" d="M488.8,654.4L504.7,655.1L503.2,664.2L498.6,664.2L493.3,661.9Z"/>
<path fill="#2171b5" d="M504.7,655.1L516.1,655.9L516.1,664.2L503.9,663.5Z"/>
<path fill="#08519c" d="M516.8,665.7L525.9,666.5L526.7,680.9L521.4,677.1L516.1,672.6Z"/>
<path fill="#2171b5" d="M540.4,667.3L551.7,668L551,683.2L539.6,681.7Z"/>
<path fill="#2171b5" d="M558.6,695.3L578.3,696.8L577.5,706.7L557.8,705.2Z"/>
<path fill="#08306b" d="M1022.3,584.8L1047.8,584.8L1047.8,602.3L1022.3,602.3Z"/>
<path fill="#08306b" d="M782.9,716.7L798.7,717.9L799.9,728.8L789,730L781.7,725.2Z"/>
<path fill="#08306b" d="M1046.6,779.3L1064.3,778.6L1064.8,793.9L1055.6,794.4L1054.6,788.3L1046.6,787.6Z"/>
<path fill="#2171b5" d="M1030.4,757.5L1042.5,757.5L1042.5,766.5L1030.4,766.5Z"/>
<path fill="#2171b5" d="M844.8,529L864.2,529L864.2,555.7L844.8,555.7Z"/>
<path fill="#2171b5" d="M852.1,409.6L860.6,409.6L860.6,426.6L852.1,426.6Z"/>
</g>
<path fill="#c6dbef" d="M1149.8,351.3L1162,346L1176.5,340.4L1191,332L1191.5,333.8L1178,343.5L1162,352.6L1151,356.2Z"/>
<path fill="#6baed6" d="M808.9,202.8L815,197.5L823,193.6L823.5,195L816,200L810,204Z"/>
<path fill="#deebf7" d="M1072,830.5L1060,838L1046,843.5L1040,845.8L1040.5,844.2L1046,841.5L1059,836L1071,829Z"/>
<path fill="#deebf7" d="M1207,325.5L1212,324.5L1213,326.5L1208,327.5Z"/>
<path fill="#deebf7" d="M1217,322.5L1222,321.8L1222.5,323.5L1217.5,324.5Z"/>
<path fill="#6baed6" d="M129,556.5L131.5,557L131,558.5L128.8,558Z"/>
<path fill="#6baed6" d="M152,556L155.5,559L158.5,562.5L157,563L153,559Z"/>
<path fill="#6baed6" d="M149.5,569.5L152,572L154,576L152.5,576L149,571Z"/>
<defs><clipPath id="ak"><path d="M131.5,693.6L136.8,688.8L149,679.1L161.1,674.2L168.4,669.4L172,673L183,674.2L190.2,677.8L204.8,680.3L214.5,677.8L223,681L230.3,719.1L240,770.1L248.5,770.1L255.8,775L265.5,772.5L275.2,775L284.9,784.7L297.1,794.4L306.8,796.8L309.7,804.1L306.8,809L299.5,813.8L292.2,811.4L282.5,799.2L270.4,788.3L260.7,783.5L248.5,777.4L238.8,776.2L229.1,775L219.4,772.5L212.1,775L207.2,779.8L196.3,784.7L190.2,788.3L189,782.2L195.1,772.5L190.2,770.1L183,779.8L178.1,790.7L174.5,796.8L168.4,804.1L161.1,811.4L151.4,819.9L145.3,821.1L145.3,815L151.4,809L159.9,799.2L161.1,794.4L156.3,793.2L150.2,795.6L145.3,788.3L138,791.9L136.8,785.9L128.3,777.4L123.5,767.7L121.1,760.4L124.7,753.1L130.8,745.8L139.3,747L147.8,742.2L147.8,732.5L139.3,733.7L133.2,731.3L124.7,727.6L123.5,721.6L120.3,718.6L127.1,714.3L138,712.3L138,717.9L147.8,716.7L144.1,708.2L139.3,699.7Z"/></clipPath></defs>
<g clip-path="url(#ak)" stroke="#fff" stroke-opacity="0.18" stroke-width="0.5">
<path d="M131.5,693.6L136.8,688.8L149,679.1L161.1,674.2L168.4,669.4L172,673L183,674.2L190.2,677.8L204.8,680.3L214.5,677.8L223,681L230.3,719.1L240,770.1L248.5,770.1L255.8,775L265.5,772.5L275.2,775L284.9,784.7L297.1,794.4L306.8,796.8L309.7,804.1L306.8,809L299.5,813.8L292.2,811.4L282.5,799.2L270.4,788.3L260.7,783.5L248.5,777.4L238.8,776.2L229.1,775L219.4,772.5L212.1,775L207.2,779.8L196.3,784.7L190.2,788.3L189,782.2L195.1,772.5L190.2,770.1L183,779.8L178.1,790.7L174.5,796.8L168.4,804.1L161.1,811.4L151.4,819.9L145.3,821.1L145.3,815L151.4,809L159.9,799.2L161.1,794.4L156.3,793.2L150.2,795.6L145.3,788.3L138,791.9L136.8,785.9L128.3,777.4L123.5,767.7L121.1,760.4L124.7,753.1L130.8,745.8L139.3,747L147.8,742.2L147.8,732.5L139.3,733.7L133.2,731.3L124.7,727.6L123.5,721.6L120.3,718.6L127.1,714.3L138,712.3L138,717.9L147.8,716.7L144.1,708.2L139.3,699.7Z" fill="#08306b" stroke="none"/>
<path fill="#6baed6" d="M129.5,694.8L131.5,685.1L149,675.4L168.4,665.7L190.2,673L214.5,675.4L225.4,679.1L224.7,692.4L207.2,694.8L207.2,699.7L170.8,701.2L136.8,697.3Z"/>
<path fill="#2171b5" d="M209.7,737.3L221.8,731.3L231,717.9L238.8,755.5L224.2,747L210.9,747.8Z"/>
<path fill="#c6dbef" d="M200,728.8L209.7,725.2L219.4,727.6L221.8,731.3L209.7,737.3L201.2,736.1Z"/>
<path fill="#deebf7" d="M183,744.6L200,737.3L209.7,738.5L207.2,745.8L190.2,751.9L182.5,754.3Z"/>
<path fill="#2171b5" d="M182.5,754.3L190.2,751.9L209.7,745.8L210.9,747.8L209.7,765.2L182.5,766.5Z"/>
<path fill="#6baed6" d="M210.9,747.8L224.2,747L238.8,755.5L242.4,770.1L233.9,777.4L219.4,775L209.7,765.2Z"/>
<path fill="#6baed6" d="M182.5,766.5L209.7,765.2L219.4,772.5L219.4,777.4L196.3,787.1L185.4,792L178.1,792L174.5,798L170.8,792L180.5,771.3Z"/>
<path fill="#2171b5" d="M151.4,771.3L168.4,771.3L167.9,784.7L161.1,795.6L156.3,794.4L150.2,796.8L145.3,789.5L140.5,792L136.8,794.4Z"/>
<path fill="#08519c" d="M168.4,771.3L180.5,771.3L179.3,790.7L175.2,798L168.4,805.3L161.1,812.6L151.4,821.1L144.1,823.5L144.1,813.8L159.9,799.2L161.1,794.4L167.9,784.7Z"/>
<path fill="#c6dbef" d="M248.5,768.9L255.8,773.7L265.5,771.3L275.2,773.7L286.1,783.5L297.1,793.2L308,795.6L311.6,804.1L308,810.2L299.5,815L291,812.6L281.3,800.5L269.1,789.5L259.4,784.7L247.3,778.6Z"/>
<path fill="#6baed6" d="M238.8,768.9L248.5,768.9L255.8,773.7L265.5,771.3L261.9,783.5L248.5,778.6L238.8,777.4Z"/>
<path fill="#6baed6" d="M275.2,773.7L286.1,783.5L297.1,793.2L303.1,799.2L298.3,801.7L287.4,792L277.6,782.2Z"/>
<path fill="#08519c" d="M260.2,778.6L266.7,775L274,782.2L277.6,792L272.8,789.5L265.5,785.9Z"/>
<path fill="#08519c" d="M281.3,792L288.6,795.6L295.9,804.1L300.7,812.6L293.4,811.4L286.1,802.9Z"/>
</g>
<path fill="#08306b" d="M99.2,733.7L102.8,734.2L112.6,741L110.1,742.7L102.8,739L99.7,737.3Z"/>
<path fill="#08306b" d="M112.1,772.5L118.6,772L120.6,775.4L118.6,777.4L113.3,776.4Z"/>
<path fill="#08306b" d="M85.8,762.1L87.5,762.8L89,765.7L87.5,765.2Z"/>
<path fill="#c6dbef" d="M173.2,804.1L180.5,800.5L186.6,801.7L185.4,807.7L178.1,812.6L173.2,810.2Z"/>
<path fill="#deebf7" d="M145.3,819.1L136.8,823.5L124.7,828.9L112.6,833.2L100.4,837.6L88.3,841.5L88.8,840L100.4,835.7L112.6,831.3L124.7,826.4L136.8,821.1L144.8,817.4Z"/>
<path fill="#c6dbef" d="M443.5,804.1L456.8,808.9L467.8,818.7L471.4,824.7L459.3,833.2L449.1,841.7L442.3,836.9L438.6,821.1L442.3,813.8Z"/>
<path fill="#deebf7" d="M421.6,782.2L428.9,783.5L439.8,788.3L436.2,794.4L430.1,793.9L425.3,792L422.8,787.1Z"/>
<path fill="#deebf7" d="M405.8,777.4L420.4,778.6L419.2,781L407.1,780.3Z"/>
<path fill="#deebf7" d="M412.6,785.9L418,787.1L416.8,790.7L413.1,789Z"/>
<path fill="#deebf7" d="M421.6,794.9L425.3,795.8L424.1,797.3L421.6,796.3Z"/>
<path fill="#deebf7" d="M379.1,764L384,764L391.3,767.7L394.9,775L386.4,774.5L381.6,771.3Z"/>
<path fill="#deebf7" d="M340.8,749.5L348,747.8L352.2,751.9L350.5,756.8L344.4,758L339.6,753.1Z"/>
<path fill="#deebf7" d="M327.4,755.5L331.1,754.3L330.6,758L328.1,759.4Z"/>
<path d="M136.3,173.2L146.5,177.3L156.3,193.1L161.1,199.2L170.8,200.9L185.4,204L197.5,207.7L219.4,206.5L233.9,207.7L270.4,214.5M285,132.4L270.4,214.5M270.4,214.5L276.4,227.1L265.5,244.1L253.4,261.1L258.2,265.9L247.3,304L242.4,325.8M304.4,136.8L300.7,164L303.1,179.8L316.5,202.8L321.3,207.7L317.7,222.2L314.1,236.8L321.3,239.2L327.4,236.8L329.8,251.4L334.7,265.9L339.6,275.7L350.5,274.4L369.9,275.7L377.2,276.9L378.4,268M96.8,287.8L151.4,304L181.7,312.5L242.4,325.8L303.1,339.9L365,348.9M379.1,266L373.5,304L365,348.9L362.1,378M379.1,266L440,272.7L517.5,282.5M362.1,378L384,381.7L509,395M527.7,170L521.2,256.2L517.5,283L516.3,304L513.9,339.2L509,395M521.2,256.2L600,261L666.8,262.5M656,176.1L659.6,193.1L663.2,217.4L664.4,241.7L667.6,262.5M667.6,262.5L663.2,270.8L670.5,280.5L671,304L670.5,330.7M513.9,339.2L626.8,345.8L638.9,351.3L651,349.6L665.6,356.2M670.5,330.7L668,345L666.8,356.2M670.5,330.7L704,331.2L776.8,329M666.8,356.2L671.7,364.7L677.8,381.7L681.4,401.1L683.8,415.7L692.3,427.8L699.6,436.3L700.8,447.2L709.3,454.5M509,395L550.3,399.2L549.1,427.8M549.1,427.8L692.3,431.5M709.3,454.5L710.1,512L711.3,530.2M549.1,427.8L544.2,495.8L543,514M402.2,385.3L388.9,498.2M276.4,482.4L388.9,498.2L521.2,512.7L704,516.9L710.5,517M303.1,339.9L286.1,436.3L276.4,482.4M276.4,482.4L273,504L262,507L256,512L253.4,531.4M181.7,312.5L161.1,393.8L238.8,512L253.4,531.4M253.4,531.4L257,548.4L259.4,555.7L250.9,563L244.9,577.5L241.2,584.8L243.7,592.1L238.8,597M388.9,498.2L384,523L365,657.7M426,649.5L510.2,654M521.2,512.7L521.2,526.6L510.2,654M521.2,526.6L589.1,530.2M589.1,530.2L587.4,582.4M587.4,582.4L595.2,589.7L607.4,595.8L621.9,599.4L631.6,601.8L638.9,606.7L651,609.1L658.3,606.7L670.5,610.3L682.6,606.7L704,605.5L714.9,611.5L724.6,616.4M711.3,530.2L714.9,611.5M724.6,616.4L726.3,631M726.3,631.4L792.6,629.3M726.3,631L727.1,648L730.7,662.5L736.8,681.9L738,696.5L734.3,720L730.7,724M711.3,530.2L810.8,528.5L808.4,543.6L820.5,542.3L823,536.3M756.2,238L752.6,241.7L751.3,256.2L742.8,266L745.3,280.5L744,290.2L748.9,297.5L755,304L761,304L774.4,318.6L776.8,329L781.7,342.8L790.2,356.2L799.9,364.7L801.1,374.4L793.8,384.1L784.1,391.4L785.3,403.5L776.8,418.1L776.8,430.2L789,444.8L796.3,457L806,461.8L804.8,474L813.3,483.7L823,493.4L827.8,505.5L834,512L827.8,524.1L823,536.3L818.1,550.8L812,567.8L806,580L797.5,594.5L793.8,609.1L796.3,621.3L793.8,629.7L797.5,643.1L796.3,655.2L789,667.4L785.3,679.5L786.5,685.6M786.5,685.6L830.2,684.4L829,696.5L835.1,706.2L836.3,713.5M683.8,415.7L704,415.7L770.8,412.5L776.8,418.1M790.2,356.2L849.7,352.6M787.8,241.2L801.1,247.7L818.1,253.8L832.7,256.2L840,263.5L842.4,270.8L846,280.5M857.4,374.4L863,449.7L859.4,461.8L855.7,478.8L854.5,488.5M834,512L840,505.5L849.7,498.2L854.5,488.5L864.2,483.7L878.8,484.9L890.9,475.2L900.6,477.6L910.4,457L919,450L920,444.3L924.9,442.5L932.1,443.7L937,449.1L944.3,451.6L950.3,452.8L960.1,450.3L965.5,448.5L973.4,456.4L979.5,451.6L981.9,444.3L983.1,438.2L988,435.8L990.4,429.7L995.3,424.9L1001.3,420L1007.5,410.8L1008.7,396.3L1006.3,389M914,368.3L920.5,443.5M871.5,372L914,368.3L943.1,363.5M1002.6,347.7L1006.3,389L1011.4,412M1011.4,412L1034.5,408.9L1113.4,393.8L1116,391L1118.2,390.2M973.4,456.4L974.6,461.9L978.3,469.2L983.1,475.2L989.8,480.1M989.8,480.1L971,497L955.8,510.4L954.1,512M989.8,480.1L992.8,484.3L997.7,486.8L1002.5,486.2L1005,483.7L1009.8,484.9L1017.1,479.5L1023.2,477.1L1026.8,474.6L1028,469.8L1031.7,461.3L1034.1,454L1036.5,444.3L1046.2,434.6L1053.5,427.3L1060.8,420L1061.2,413.3L1072.1,416.9M1034.5,408.9L1036.9,423L1050.3,408.4L1062.4,404.8L1069.7,406L1072.1,416.9M1072.1,416.9L1090.6,421.2L1092,426.7L1088.5,433.6L1090.6,437.7L1097.5,440.4L1105.7,441.1L1111.2,438M1114,393L1121.5,428.1L1135.9,425.3M1121.5,443.9L1134.6,438.4M1130.4,482.3L1070,494.7L1001,504.5L954.1,512L859.4,521.7L827.8,527.1M948,558.1L954.1,543.6L971,536.3L985.6,524.1L999,512L1001,504.5M812,570.3L860.6,567.4L918.9,562.5L948,558.1L971,554.5M971,554.5L992,546.7L1021.1,543.6L1028.4,550.8L1053.9,548.4L1084.3,570.3M971,554.5L971,561.8L983.2,575.1L1000.2,589.7L1017.2,606.7L1023.6,616.4L1030.8,626.1L1038.1,631M860.6,567.4L863,667.4L865.4,698.9M918.9,562.5L932.2,609.1L940.7,633.4L941.9,648L943.1,667.4L948,680.7M888.5,697.7L882.4,679.5L944.4,673.4M944.4,673.4L948,680.7L1014.8,677.1L1018.7,669.8L1032.1,671M1016.3,338L1017.5,344.8L1106.1,328.3L1113.4,333.1L1117,340.4L1124.3,342.8M1124.3,342.8L1119.5,359.8L1131.6,376.8L1123.1,384.1L1118.2,390.2M1124.3,342.8L1143.7,351.3M1145,296.3L1146.2,317.4L1149.8,340.4L1149.8,346.5M1129.2,235.6L1134,261.1L1136.5,273.2L1141.3,276.9L1145,296.3M1164.4,225.9L1165.6,241.7L1159.5,251.4L1157.1,270.8L1159,292.7M1145,296.3L1159,292.7L1186.2,287.8L1193.5,281.7M1171.7,215L1186.2,266L1193.5,275.7M1146.2,317.4L1187.4,308.4M1181.4,311.3L1185,329.5M1187.4,308.4L1196,322.2" fill="none" stroke="#fff" stroke-width="1" stroke-opacity="0.95" stroke-linejoin="round" stroke-linecap="round"/>
<path d="M1129.8,482.6L1136.7,495.2L1143,504L1145.5,511.6L1145.5,517.3L1140.5,521.1L1136.1,524.2L1130.4,529.2L1127.3,539.3" fill="none" stroke="#deebf7" stroke-width="0.8"/>
<rect x="906.00" y="162.0" width="25.63" height="8.0" fill="#f7fbff"/>
<rect x="931.33" y="162.0" width="25.63" height="8.0" fill="#deebf7"/>
<rect x="956.67" y="162.0" width="25.63" height="8.0" fill="#deebf7"/>
<rect x="982.00" y="162.0" width="25.63" height="8.0" fill="#c6dbef"/>
<rect x="1007.33" y="162.0" width="25.63" height="8.0" fill="#6baed6"/>
<rect x="1032.67" y="162.0" width="25.63" height="8.0" fill="#6baed6"/>
<rect x="1058.00" y="162.0" width="25.63" height="8.0" fill="#2171b5"/>
<rect x="1083.33" y="162.0" width="25.63" height="8.0" fill="#2171b5"/>
<rect x="1108.67" y="162.0" width="25.63" height="8.0" fill="#08519c"/>
<line x1="931.33" x2="931.33" y1="162.0" y2="172.2" stroke="#333" stroke-width="1"/>
<text x="931.33" y="184" font-size="10.5" fill="#222" text-anchor="middle" textLength="5" lengthAdjust="spacingAndGlyphs">2</text>
<line x1="956.67" x2="956.67" y1="162.0" y2="172.2" stroke="#333" stroke-width="1"/>
<text x="956.67" y="184" font-size="10.5" fill="#222" text-anchor="middle" textLength="5" lengthAdjust="spacingAndGlyphs">3</text>
<line x1="982.00" x2="982.00" y1="162.0" y2="172.2" stroke="#333" stroke-width="1"/>
<text x="982.00" y="184" font-size="10.5" fill="#222" text-anchor="middle" textLength="5" lengthAdjust="spacingAndGlyphs">4</text>
<line x1="1007.33" x2="1007.33" y1="162.0" y2="172.2" stroke="#333" stroke-width="1"/>
<text x="1007.33" y="184" font-size="10.5" fill="#222" text-anchor="middle" textLength="5" lengthAdjust="spacingAndGlyphs">5</text>
<line x1="1032.67" x2="1032.67" y1="162.0" y2="172.2" stroke="#333" stroke-width="1"/>
<text x="1032.67" y="184" font-size="10.5" fill="#222" text-anchor="middle" textLength="5" lengthAdjust="spacingAndGlyphs">6</text>
<line x1="1058.00" x2="1058.00" y1="162.0" y2="172.2" stroke="#333" stroke-width="1"/>
<text x="1058.00" y="184" font-size="10.5" fill="#222" text-anchor="middle" textLength="5" lengthAdjust="spacingAndGlyphs">7</text>
<line x1="1083.33" x2="1083.33" y1="162.0" y2="172.2" stroke="#333" stroke-width="1"/>
<text x="1083.33" y="184" font-size="10.5" fill="#222" text-anchor="middle" textLength="5" lengthAdjust="spacingAndGlyphs">8</text>
<line x1="1108.67" x2="1108.67" y1="162.0" y2="172.2" stroke="#333" stroke-width="1"/>
<text x="1108.67" y="184" font-size="10.5" fill="#222" text-anchor="middle" textLength="5" lengthAdjust="spacingAndGlyphs">9</text>
<text x="906" y="151.8" font-size="12.5" font-weight="bold" fill="#111" textLength="114" lengthAdjust="spacingAndGlyphs">Unemployment rate (%)</text>
</svg></body></html>
